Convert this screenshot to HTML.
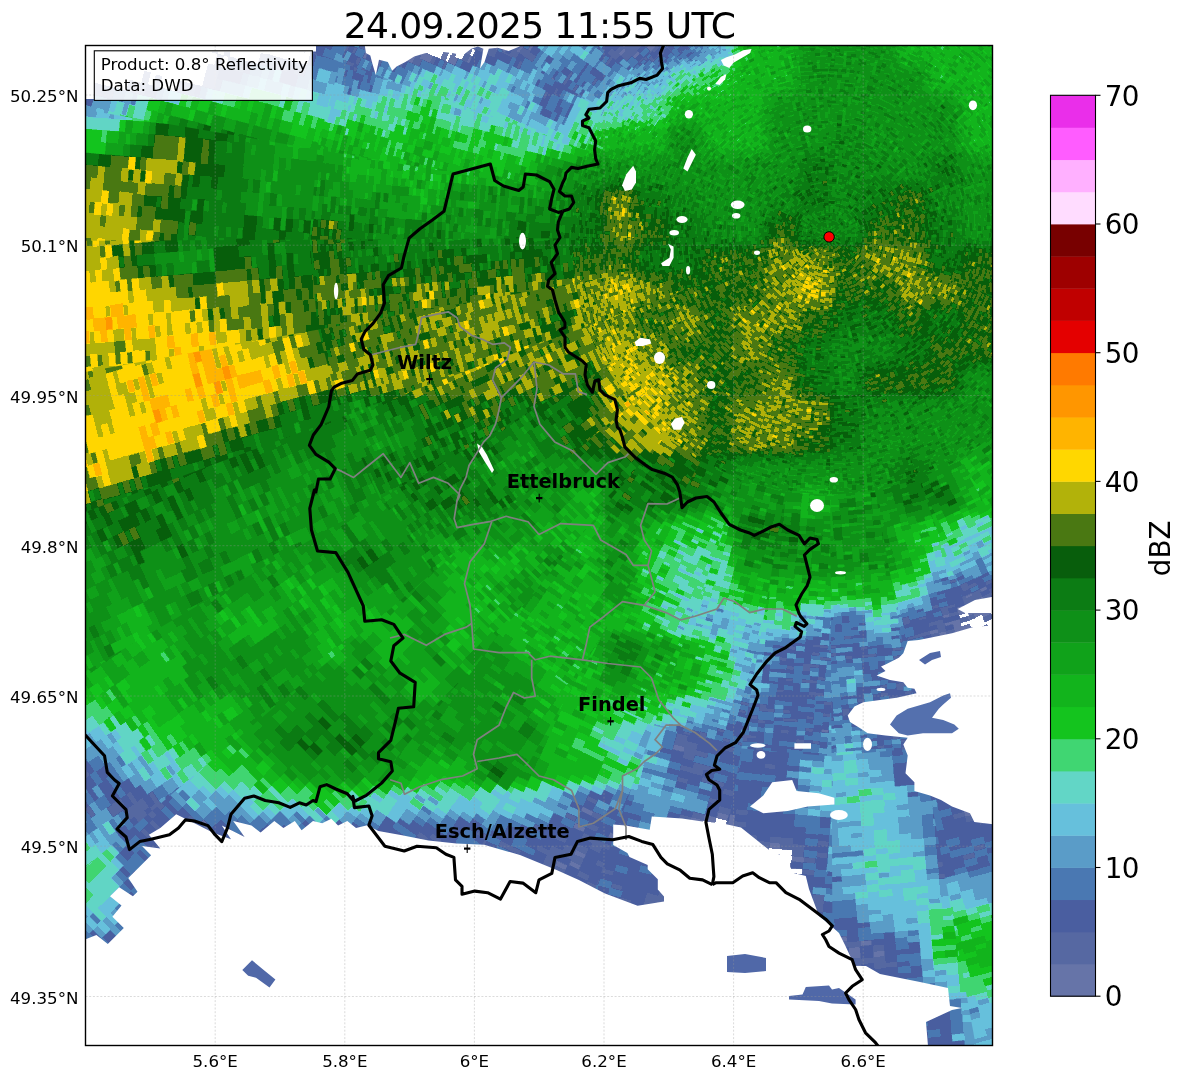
<!DOCTYPE html>
<html><head><meta charset="utf-8"><title>Radar</title>
<style>
html,body{margin:0;padding:0;background:#fff;}
svg{display:block;font-family:"DejaVu Sans","Liberation Sans",sans-serif;}
</style></head><body>
<svg width="1184" height="1081" viewBox="0 0 1184 1081">
<rect width="1184" height="1081" fill="#fff"/>
<text x="539.5" y="38" text-anchor="middle" font-size="36.1" letter-spacing="-0.68">24.09.2025 11:55 UTC</text>
<defs><clipPath id="mc"><rect x="85.5" y="45.5" width="907.0" height="1000.0"/></clipPath></defs>
<g clip-path="url(#mc)">
<defs><filter id="f0_0" filterUnits="userSpaceOnUse" primitiveUnits="userSpaceOnUse" x="799" y="177" width="320" height="119" color-interpolation-filters="sRGB">
<feGaussianBlur in="SourceGraphic" stdDeviation="7" result="f"/>
<feTurbulence type="fractalNoise" baseFrequency="0.35 0.2" numOctaves="2" seed="7" result="n"/>
<feColorMatrix in="n" type="matrix" values="1 0 0 0 0 1 0 0 0 0 1 0 0 0 0 0 0 0 0 1" result="ng"/>
<feFlood flood-color="#fff" x="828.8" y="236.9" width="1" height="1" result="dot"/>
<feOffset in="dot" dx="0" dy="0" x="828.8" y="236.9" width="3" height="5" result="cell"/>
<feTile in="cell" result="grid"/>
<feComposite in="f" in2="ng" operator="arithmetic" k1="0" k2="1" k3="0.2" k4="-0.1" result="sum0"/>
<feComposite in="sum0" in2="grid" operator="in" result="samp"/>
<feMorphology in="samp" operator="dilate" radius="1 2" result="sum"/>
<feComponentTransfer in="sum" x="829" y="177" width="266" height="119">
<feFuncR type="discrete" tableValues="1.000 0.400 0.337 0.290 0.290 0.353 0.400 0.384 0.251 0.078 0.071 0.063 0.055 0.047 0.031 0.290 0.698 1.000 1.000 1.000 1.000 0.894 0.753 0.620 0.471 1.000 1.000 1.000 0.918"/><feFuncG type="discrete" tableValues="1.000 0.455 0.408 0.369 0.471 0.612 0.753 0.839 0.839 0.769 0.706 0.635 0.565 0.486 0.369 0.471 0.698 0.843 0.706 0.588 0.478 0.000 0.000 0.000 0.000 0.863 0.690 0.361 0.180"/><feFuncB type="discrete" tableValues="1.000 0.659 0.635 0.627 0.698 0.784 0.863 0.776 0.447 0.118 0.110 0.102 0.094 0.078 0.047 0.071 0.039 0.000 0.000 0.000 0.000 0.000 0.000 0.000 0.000 1.000 1.000 1.000 0.918"/>
</feComponentTransfer>
</filter>
<filter id="f0_1" filterUnits="userSpaceOnUse" primitiveUnits="userSpaceOnUse" x="1059" y="152" width="320" height="170" color-interpolation-filters="sRGB">
<feGaussianBlur in="SourceGraphic" stdDeviation="7" result="f"/>
<feTurbulence type="fractalNoise" baseFrequency="0.25 0.12" numOctaves="2" seed="8" result="n"/>
<feColorMatrix in="n" type="matrix" values="1 0 0 0 0 1 0 0 0 0 1 0 0 0 0 0 0 0 0 1" result="ng"/>
<feFlood flood-color="#fff" x="1088.8" y="236.9" width="1" height="1" result="dot"/>
<feOffset in="dot" dx="0" dy="0" x="1088.8" y="236.9" width="5" height="9" result="cell"/>
<feTile in="cell" result="grid"/>
<feComposite in="f" in2="ng" operator="arithmetic" k1="0" k2="1" k3="0.2" k4="-0.1" result="sum0"/>
<feComposite in="sum0" in2="grid" operator="in" result="samp"/>
<feMorphology in="samp" operator="dilate" radius="2 4" result="sum"/>
<feComponentTransfer in="sum" x="1086" y="152" width="266" height="170">
<feFuncR type="discrete" tableValues="1.000 0.400 0.337 0.290 0.290 0.353 0.400 0.384 0.251 0.078 0.071 0.063 0.055 0.047 0.031 0.290 0.698 1.000 1.000 1.000 1.000 0.894 0.753 0.620 0.471 1.000 1.000 1.000 0.918"/><feFuncG type="discrete" tableValues="1.000 0.455 0.408 0.369 0.471 0.612 0.753 0.839 0.839 0.769 0.706 0.635 0.565 0.486 0.369 0.471 0.698 0.843 0.706 0.588 0.478 0.000 0.000 0.000 0.000 0.863 0.690 0.361 0.180"/><feFuncB type="discrete" tableValues="1.000 0.659 0.635 0.627 0.698 0.784 0.863 0.776 0.447 0.118 0.110 0.102 0.094 0.078 0.047 0.071 0.039 0.000 0.000 0.000 0.000 0.000 0.000 0.000 0.000 1.000 1.000 1.000 0.918"/>
</feComponentTransfer>
</filter>
<filter id="f0_2" filterUnits="userSpaceOnUse" primitiveUnits="userSpaceOnUse" x="1319" y="92" width="670" height="289" color-interpolation-filters="sRGB">
<feGaussianBlur in="SourceGraphic" stdDeviation="7" result="f"/>
<feTurbulence type="fractalNoise" baseFrequency="0.18 0.08" numOctaves="2" seed="9" result="n"/>
<feColorMatrix in="n" type="matrix" values="1 0 0 0 0 1 0 0 0 0 1 0 0 0 0 0 0 0 0 1" result="ng"/>
<feFlood flood-color="#fff" x="1348.8" y="236.9" width="1" height="1" result="dot"/>
<feOffset in="dot" dx="0" dy="0" x="1348.8" y="236.9" width="7" height="13" result="cell"/>
<feTile in="cell" result="grid"/>
<feComposite in="f" in2="ng" operator="arithmetic" k1="0" k2="1" k3="0.2" k4="-0.1" result="sum0"/>
<feComposite in="sum0" in2="grid" operator="in" result="samp"/>
<feMorphology in="samp" operator="dilate" radius="3 6" result="sum"/>
<feComponentTransfer in="sum" x="1346" y="92" width="616" height="289">
<feFuncR type="discrete" tableValues="1.000 0.400 0.337 0.290 0.290 0.353 0.400 0.384 0.251 0.078 0.071 0.063 0.055 0.047 0.031 0.290 0.698 1.000 1.000 1.000 1.000 0.894 0.753 0.620 0.471 1.000 1.000 1.000 0.918"/><feFuncG type="discrete" tableValues="1.000 0.455 0.408 0.369 0.471 0.612 0.753 0.839 0.839 0.769 0.706 0.635 0.565 0.486 0.369 0.471 0.698 0.843 0.706 0.588 0.478 0.000 0.000 0.000 0.000 0.863 0.690 0.361 0.180"/><feFuncB type="discrete" tableValues="1.000 0.659 0.635 0.627 0.698 0.784 0.863 0.776 0.447 0.118 0.110 0.102 0.094 0.078 0.047 0.071 0.039 0.000 0.000 0.000 0.000 0.000 0.000 0.000 0.000 1.000 1.000 1.000 0.918"/>
</feComponentTransfer>
</filter>
<filter id="f1_0" filterUnits="userSpaceOnUse" primitiveUnits="userSpaceOnUse" x="799" y="177" width="320" height="119" color-interpolation-filters="sRGB">
<feGaussianBlur in="SourceGraphic" stdDeviation="7" result="f"/>
<feTurbulence type="fractalNoise" baseFrequency="0.35 0.2" numOctaves="2" seed="18" result="n"/>
<feColorMatrix in="n" type="matrix" values="1 0 0 0 0 1 0 0 0 0 1 0 0 0 0 0 0 0 0 1" result="ng"/>
<feFlood flood-color="#fff" x="828.8" y="236.9" width="1" height="1" result="dot"/>
<feOffset in="dot" dx="0" dy="0" x="828.8" y="236.9" width="3" height="5" result="cell"/>
<feTile in="cell" result="grid"/>
<feComposite in="f" in2="ng" operator="arithmetic" k1="0" k2="1" k3="0.2" k4="-0.1" result="sum0"/>
<feComposite in="sum0" in2="grid" operator="in" result="samp"/>
<feMorphology in="samp" operator="dilate" radius="1 2" result="sum"/>
<feComponentTransfer in="sum" x="829" y="177" width="266" height="119">
<feFuncR type="discrete" tableValues="1.000 0.400 0.337 0.290 0.290 0.353 0.400 0.384 0.251 0.078 0.071 0.063 0.055 0.047 0.031 0.290 0.698 1.000 1.000 1.000 1.000 0.894 0.753 0.620 0.471 1.000 1.000 1.000 0.918"/><feFuncG type="discrete" tableValues="1.000 0.455 0.408 0.369 0.471 0.612 0.753 0.839 0.839 0.769 0.706 0.635 0.565 0.486 0.369 0.471 0.698 0.843 0.706 0.588 0.478 0.000 0.000 0.000 0.000 0.863 0.690 0.361 0.180"/><feFuncB type="discrete" tableValues="1.000 0.659 0.635 0.627 0.698 0.784 0.863 0.776 0.447 0.118 0.110 0.102 0.094 0.078 0.047 0.071 0.039 0.000 0.000 0.000 0.000 0.000 0.000 0.000 0.000 1.000 1.000 1.000 0.918"/>
</feComponentTransfer>
</filter>
<filter id="f1_1" filterUnits="userSpaceOnUse" primitiveUnits="userSpaceOnUse" x="1059" y="152" width="320" height="170" color-interpolation-filters="sRGB">
<feGaussianBlur in="SourceGraphic" stdDeviation="7" result="f"/>
<feTurbulence type="fractalNoise" baseFrequency="0.25 0.12" numOctaves="2" seed="19" result="n"/>
<feColorMatrix in="n" type="matrix" values="1 0 0 0 0 1 0 0 0 0 1 0 0 0 0 0 0 0 0 1" result="ng"/>
<feFlood flood-color="#fff" x="1088.8" y="236.9" width="1" height="1" result="dot"/>
<feOffset in="dot" dx="0" dy="0" x="1088.8" y="236.9" width="5" height="9" result="cell"/>
<feTile in="cell" result="grid"/>
<feComposite in="f" in2="ng" operator="arithmetic" k1="0" k2="1" k3="0.2" k4="-0.1" result="sum0"/>
<feComposite in="sum0" in2="grid" operator="in" result="samp"/>
<feMorphology in="samp" operator="dilate" radius="2 4" result="sum"/>
<feComponentTransfer in="sum" x="1086" y="152" width="266" height="170">
<feFuncR type="discrete" tableValues="1.000 0.400 0.337 0.290 0.290 0.353 0.400 0.384 0.251 0.078 0.071 0.063 0.055 0.047 0.031 0.290 0.698 1.000 1.000 1.000 1.000 0.894 0.753 0.620 0.471 1.000 1.000 1.000 0.918"/><feFuncG type="discrete" tableValues="1.000 0.455 0.408 0.369 0.471 0.612 0.753 0.839 0.839 0.769 0.706 0.635 0.565 0.486 0.369 0.471 0.698 0.843 0.706 0.588 0.478 0.000 0.000 0.000 0.000 0.863 0.690 0.361 0.180"/><feFuncB type="discrete" tableValues="1.000 0.659 0.635 0.627 0.698 0.784 0.863 0.776 0.447 0.118 0.110 0.102 0.094 0.078 0.047 0.071 0.039 0.000 0.000 0.000 0.000 0.000 0.000 0.000 0.000 1.000 1.000 1.000 0.918"/>
</feComponentTransfer>
</filter>
<filter id="f1_2" filterUnits="userSpaceOnUse" primitiveUnits="userSpaceOnUse" x="1319" y="92" width="670" height="289" color-interpolation-filters="sRGB">
<feGaussianBlur in="SourceGraphic" stdDeviation="7" result="f"/>
<feTurbulence type="fractalNoise" baseFrequency="0.18 0.08" numOctaves="2" seed="20" result="n"/>
<feColorMatrix in="n" type="matrix" values="1 0 0 0 0 1 0 0 0 0 1 0 0 0 0 0 0 0 0 1" result="ng"/>
<feFlood flood-color="#fff" x="1348.8" y="236.9" width="1" height="1" result="dot"/>
<feOffset in="dot" dx="0" dy="0" x="1348.8" y="236.9" width="7" height="13" result="cell"/>
<feTile in="cell" result="grid"/>
<feComposite in="f" in2="ng" operator="arithmetic" k1="0" k2="1" k3="0.2" k4="-0.1" result="sum0"/>
<feComposite in="sum0" in2="grid" operator="in" result="samp"/>
<feMorphology in="samp" operator="dilate" radius="3 6" result="sum"/>
<feComponentTransfer in="sum" x="1346" y="92" width="616" height="289">
<feFuncR type="discrete" tableValues="1.000 0.400 0.337 0.290 0.290 0.353 0.400 0.384 0.251 0.078 0.071 0.063 0.055 0.047 0.031 0.290 0.698 1.000 1.000 1.000 1.000 0.894 0.753 0.620 0.471 1.000 1.000 1.000 0.918"/><feFuncG type="discrete" tableValues="1.000 0.455 0.408 0.369 0.471 0.612 0.753 0.839 0.839 0.769 0.706 0.635 0.565 0.486 0.369 0.471 0.698 0.843 0.706 0.588 0.478 0.000 0.000 0.000 0.000 0.863 0.690 0.361 0.180"/><feFuncB type="discrete" tableValues="1.000 0.659 0.635 0.627 0.698 0.784 0.863 0.776 0.447 0.118 0.110 0.102 0.094 0.078 0.047 0.071 0.039 0.000 0.000 0.000 0.000 0.000 0.000 0.000 0.000 1.000 1.000 1.000 0.918"/>
</feComponentTransfer>
</filter>
<filter id="f2_0" filterUnits="userSpaceOnUse" primitiveUnits="userSpaceOnUse" x="799" y="177" width="320" height="119" color-interpolation-filters="sRGB">
<feGaussianBlur in="SourceGraphic" stdDeviation="7" result="f"/>
<feTurbulence type="fractalNoise" baseFrequency="0.35 0.2" numOctaves="2" seed="29" result="n"/>
<feColorMatrix in="n" type="matrix" values="1 0 0 0 0 1 0 0 0 0 1 0 0 0 0 0 0 0 0 1" result="ng"/>
<feFlood flood-color="#fff" x="828.8" y="236.9" width="1" height="1" result="dot"/>
<feOffset in="dot" dx="0" dy="0" x="828.8" y="236.9" width="3" height="5" result="cell"/>
<feTile in="cell" result="grid"/>
<feComposite in="f" in2="ng" operator="arithmetic" k1="0" k2="1" k3="0.2" k4="-0.1" result="sum0"/>
<feComposite in="sum0" in2="grid" operator="in" result="samp"/>
<feMorphology in="samp" operator="dilate" radius="1 2" result="sum"/>
<feComponentTransfer in="sum" x="829" y="177" width="266" height="119">
<feFuncR type="discrete" tableValues="1.000 0.400 0.337 0.290 0.290 0.353 0.400 0.384 0.251 0.078 0.071 0.063 0.055 0.047 0.031 0.290 0.698 1.000 1.000 1.000 1.000 0.894 0.753 0.620 0.471 1.000 1.000 1.000 0.918"/><feFuncG type="discrete" tableValues="1.000 0.455 0.408 0.369 0.471 0.612 0.753 0.839 0.839 0.769 0.706 0.635 0.565 0.486 0.369 0.471 0.698 0.843 0.706 0.588 0.478 0.000 0.000 0.000 0.000 0.863 0.690 0.361 0.180"/><feFuncB type="discrete" tableValues="1.000 0.659 0.635 0.627 0.698 0.784 0.863 0.776 0.447 0.118 0.110 0.102 0.094 0.078 0.047 0.071 0.039 0.000 0.000 0.000 0.000 0.000 0.000 0.000 0.000 1.000 1.000 1.000 0.918"/>
</feComponentTransfer>
</filter>
<filter id="f2_1" filterUnits="userSpaceOnUse" primitiveUnits="userSpaceOnUse" x="1059" y="152" width="320" height="170" color-interpolation-filters="sRGB">
<feGaussianBlur in="SourceGraphic" stdDeviation="7" result="f"/>
<feTurbulence type="fractalNoise" baseFrequency="0.25 0.12" numOctaves="2" seed="30" result="n"/>
<feColorMatrix in="n" type="matrix" values="1 0 0 0 0 1 0 0 0 0 1 0 0 0 0 0 0 0 0 1" result="ng"/>
<feFlood flood-color="#fff" x="1088.8" y="236.9" width="1" height="1" result="dot"/>
<feOffset in="dot" dx="0" dy="0" x="1088.8" y="236.9" width="5" height="9" result="cell"/>
<feTile in="cell" result="grid"/>
<feComposite in="f" in2="ng" operator="arithmetic" k1="0" k2="1" k3="0.2" k4="-0.1" result="sum0"/>
<feComposite in="sum0" in2="grid" operator="in" result="samp"/>
<feMorphology in="samp" operator="dilate" radius="2 4" result="sum"/>
<feComponentTransfer in="sum" x="1086" y="152" width="266" height="170">
<feFuncR type="discrete" tableValues="1.000 0.400 0.337 0.290 0.290 0.353 0.400 0.384 0.251 0.078 0.071 0.063 0.055 0.047 0.031 0.290 0.698 1.000 1.000 1.000 1.000 0.894 0.753 0.620 0.471 1.000 1.000 1.000 0.918"/><feFuncG type="discrete" tableValues="1.000 0.455 0.408 0.369 0.471 0.612 0.753 0.839 0.839 0.769 0.706 0.635 0.565 0.486 0.369 0.471 0.698 0.843 0.706 0.588 0.478 0.000 0.000 0.000 0.000 0.863 0.690 0.361 0.180"/><feFuncB type="discrete" tableValues="1.000 0.659 0.635 0.627 0.698 0.784 0.863 0.776 0.447 0.118 0.110 0.102 0.094 0.078 0.047 0.071 0.039 0.000 0.000 0.000 0.000 0.000 0.000 0.000 0.000 1.000 1.000 1.000 0.918"/>
</feComponentTransfer>
</filter>
<filter id="f2_2" filterUnits="userSpaceOnUse" primitiveUnits="userSpaceOnUse" x="1319" y="92" width="670" height="289" color-interpolation-filters="sRGB">
<feGaussianBlur in="SourceGraphic" stdDeviation="7" result="f"/>
<feTurbulence type="fractalNoise" baseFrequency="0.18 0.08" numOctaves="2" seed="31" result="n"/>
<feColorMatrix in="n" type="matrix" values="1 0 0 0 0 1 0 0 0 0 1 0 0 0 0 0 0 0 0 1" result="ng"/>
<feFlood flood-color="#fff" x="1348.8" y="236.9" width="1" height="1" result="dot"/>
<feOffset in="dot" dx="0" dy="0" x="1348.8" y="236.9" width="7" height="13" result="cell"/>
<feTile in="cell" result="grid"/>
<feComposite in="f" in2="ng" operator="arithmetic" k1="0" k2="1" k3="0.2" k4="-0.1" result="sum0"/>
<feComposite in="sum0" in2="grid" operator="in" result="samp"/>
<feMorphology in="samp" operator="dilate" radius="3 6" result="sum"/>
<feComponentTransfer in="sum" x="1346" y="92" width="616" height="289">
<feFuncR type="discrete" tableValues="1.000 0.400 0.337 0.290 0.290 0.353 0.400 0.384 0.251 0.078 0.071 0.063 0.055 0.047 0.031 0.290 0.698 1.000 1.000 1.000 1.000 0.894 0.753 0.620 0.471 1.000 1.000 1.000 0.918"/><feFuncG type="discrete" tableValues="1.000 0.455 0.408 0.369 0.471 0.612 0.753 0.839 0.839 0.769 0.706 0.635 0.565 0.486 0.369 0.471 0.698 0.843 0.706 0.588 0.478 0.000 0.000 0.000 0.000 0.863 0.690 0.361 0.180"/><feFuncB type="discrete" tableValues="1.000 0.659 0.635 0.627 0.698 0.784 0.863 0.776 0.447 0.118 0.110 0.102 0.094 0.078 0.047 0.071 0.039 0.000 0.000 0.000 0.000 0.000 0.000 0.000 0.000 1.000 1.000 1.000 0.918"/>
</feComponentTransfer>
</filter>
<filter id="f3_0" filterUnits="userSpaceOnUse" primitiveUnits="userSpaceOnUse" x="799" y="177" width="320" height="119" color-interpolation-filters="sRGB">
<feGaussianBlur in="SourceGraphic" stdDeviation="7" result="f"/>
<feTurbulence type="fractalNoise" baseFrequency="0.35 0.2" numOctaves="2" seed="40" result="n"/>
<feColorMatrix in="n" type="matrix" values="1 0 0 0 0 1 0 0 0 0 1 0 0 0 0 0 0 0 0 1" result="ng"/>
<feFlood flood-color="#fff" x="828.8" y="236.9" width="1" height="1" result="dot"/>
<feOffset in="dot" dx="0" dy="0" x="828.8" y="236.9" width="3" height="5" result="cell"/>
<feTile in="cell" result="grid"/>
<feComposite in="f" in2="ng" operator="arithmetic" k1="0" k2="1" k3="0.2" k4="-0.1" result="sum0"/>
<feComposite in="sum0" in2="grid" operator="in" result="samp"/>
<feMorphology in="samp" operator="dilate" radius="1 2" result="sum"/>
<feComponentTransfer in="sum" x="829" y="177" width="266" height="119">
<feFuncR type="discrete" tableValues="1.000 0.400 0.337 0.290 0.290 0.353 0.400 0.384 0.251 0.078 0.071 0.063 0.055 0.047 0.031 0.290 0.698 1.000 1.000 1.000 1.000 0.894 0.753 0.620 0.471 1.000 1.000 1.000 0.918"/><feFuncG type="discrete" tableValues="1.000 0.455 0.408 0.369 0.471 0.612 0.753 0.839 0.839 0.769 0.706 0.635 0.565 0.486 0.369 0.471 0.698 0.843 0.706 0.588 0.478 0.000 0.000 0.000 0.000 0.863 0.690 0.361 0.180"/><feFuncB type="discrete" tableValues="1.000 0.659 0.635 0.627 0.698 0.784 0.863 0.776 0.447 0.118 0.110 0.102 0.094 0.078 0.047 0.071 0.039 0.000 0.000 0.000 0.000 0.000 0.000 0.000 0.000 1.000 1.000 1.000 0.918"/>
</feComponentTransfer>
</filter>
<filter id="f3_1" filterUnits="userSpaceOnUse" primitiveUnits="userSpaceOnUse" x="1059" y="152" width="320" height="170" color-interpolation-filters="sRGB">
<feGaussianBlur in="SourceGraphic" stdDeviation="7" result="f"/>
<feTurbulence type="fractalNoise" baseFrequency="0.25 0.12" numOctaves="2" seed="41" result="n"/>
<feColorMatrix in="n" type="matrix" values="1 0 0 0 0 1 0 0 0 0 1 0 0 0 0 0 0 0 0 1" result="ng"/>
<feFlood flood-color="#fff" x="1088.8" y="236.9" width="1" height="1" result="dot"/>
<feOffset in="dot" dx="0" dy="0" x="1088.8" y="236.9" width="5" height="9" result="cell"/>
<feTile in="cell" result="grid"/>
<feComposite in="f" in2="ng" operator="arithmetic" k1="0" k2="1" k3="0.2" k4="-0.1" result="sum0"/>
<feComposite in="sum0" in2="grid" operator="in" result="samp"/>
<feMorphology in="samp" operator="dilate" radius="2 4" result="sum"/>
<feComponentTransfer in="sum" x="1086" y="152" width="266" height="170">
<feFuncR type="discrete" tableValues="1.000 0.400 0.337 0.290 0.290 0.353 0.400 0.384 0.251 0.078 0.071 0.063 0.055 0.047 0.031 0.290 0.698 1.000 1.000 1.000 1.000 0.894 0.753 0.620 0.471 1.000 1.000 1.000 0.918"/><feFuncG type="discrete" tableValues="1.000 0.455 0.408 0.369 0.471 0.612 0.753 0.839 0.839 0.769 0.706 0.635 0.565 0.486 0.369 0.471 0.698 0.843 0.706 0.588 0.478 0.000 0.000 0.000 0.000 0.863 0.690 0.361 0.180"/><feFuncB type="discrete" tableValues="1.000 0.659 0.635 0.627 0.698 0.784 0.863 0.776 0.447 0.118 0.110 0.102 0.094 0.078 0.047 0.071 0.039 0.000 0.000 0.000 0.000 0.000 0.000 0.000 0.000 1.000 1.000 1.000 0.918"/>
</feComponentTransfer>
</filter>
<filter id="f3_2" filterUnits="userSpaceOnUse" primitiveUnits="userSpaceOnUse" x="1319" y="92" width="670" height="289" color-interpolation-filters="sRGB">
<feGaussianBlur in="SourceGraphic" stdDeviation="7" result="f"/>
<feTurbulence type="fractalNoise" baseFrequency="0.18 0.08" numOctaves="2" seed="42" result="n"/>
<feColorMatrix in="n" type="matrix" values="1 0 0 0 0 1 0 0 0 0 1 0 0 0 0 0 0 0 0 1" result="ng"/>
<feFlood flood-color="#fff" x="1348.8" y="236.9" width="1" height="1" result="dot"/>
<feOffset in="dot" dx="0" dy="0" x="1348.8" y="236.9" width="7" height="13" result="cell"/>
<feTile in="cell" result="grid"/>
<feComposite in="f" in2="ng" operator="arithmetic" k1="0" k2="1" k3="0.2" k4="-0.1" result="sum0"/>
<feComposite in="sum0" in2="grid" operator="in" result="samp"/>
<feMorphology in="samp" operator="dilate" radius="3 6" result="sum"/>
<feComponentTransfer in="sum" x="1346" y="92" width="616" height="289">
<feFuncR type="discrete" tableValues="1.000 0.400 0.337 0.290 0.290 0.353 0.400 0.384 0.251 0.078 0.071 0.063 0.055 0.047 0.031 0.290 0.698 1.000 1.000 1.000 1.000 0.894 0.753 0.620 0.471 1.000 1.000 1.000 0.918"/><feFuncG type="discrete" tableValues="1.000 0.455 0.408 0.369 0.471 0.612 0.753 0.839 0.839 0.769 0.706 0.635 0.565 0.486 0.369 0.471 0.698 0.843 0.706 0.588 0.478 0.000 0.000 0.000 0.000 0.863 0.690 0.361 0.180"/><feFuncB type="discrete" tableValues="1.000 0.659 0.635 0.627 0.698 0.784 0.863 0.776 0.447 0.118 0.110 0.102 0.094 0.078 0.047 0.071 0.039 0.000 0.000 0.000 0.000 0.000 0.000 0.000 0.000 1.000 1.000 1.000 0.918"/>
</feComponentTransfer>
</filter>
<filter id="f4_0" filterUnits="userSpaceOnUse" primitiveUnits="userSpaceOnUse" x="799" y="177" width="320" height="119" color-interpolation-filters="sRGB">
<feGaussianBlur in="SourceGraphic" stdDeviation="7" result="f"/>
<feTurbulence type="fractalNoise" baseFrequency="0.35 0.2" numOctaves="2" seed="51" result="n"/>
<feColorMatrix in="n" type="matrix" values="1 0 0 0 0 1 0 0 0 0 1 0 0 0 0 0 0 0 0 1" result="ng"/>
<feFlood flood-color="#fff" x="828.8" y="236.9" width="1" height="1" result="dot"/>
<feOffset in="dot" dx="0" dy="0" x="828.8" y="236.9" width="3" height="5" result="cell"/>
<feTile in="cell" result="grid"/>
<feComposite in="f" in2="ng" operator="arithmetic" k1="0" k2="1" k3="0.2" k4="-0.1" result="sum0"/>
<feComposite in="sum0" in2="grid" operator="in" result="samp"/>
<feMorphology in="samp" operator="dilate" radius="1 2" result="sum"/>
<feComponentTransfer in="sum" x="829" y="177" width="266" height="119">
<feFuncR type="discrete" tableValues="1.000 0.400 0.337 0.290 0.290 0.353 0.400 0.384 0.251 0.078 0.071 0.063 0.055 0.047 0.031 0.290 0.698 1.000 1.000 1.000 1.000 0.894 0.753 0.620 0.471 1.000 1.000 1.000 0.918"/><feFuncG type="discrete" tableValues="1.000 0.455 0.408 0.369 0.471 0.612 0.753 0.839 0.839 0.769 0.706 0.635 0.565 0.486 0.369 0.471 0.698 0.843 0.706 0.588 0.478 0.000 0.000 0.000 0.000 0.863 0.690 0.361 0.180"/><feFuncB type="discrete" tableValues="1.000 0.659 0.635 0.627 0.698 0.784 0.863 0.776 0.447 0.118 0.110 0.102 0.094 0.078 0.047 0.071 0.039 0.000 0.000 0.000 0.000 0.000 0.000 0.000 0.000 1.000 1.000 1.000 0.918"/>
</feComponentTransfer>
</filter>
<filter id="f4_1" filterUnits="userSpaceOnUse" primitiveUnits="userSpaceOnUse" x="1059" y="152" width="320" height="170" color-interpolation-filters="sRGB">
<feGaussianBlur in="SourceGraphic" stdDeviation="7" result="f"/>
<feTurbulence type="fractalNoise" baseFrequency="0.25 0.12" numOctaves="2" seed="52" result="n"/>
<feColorMatrix in="n" type="matrix" values="1 0 0 0 0 1 0 0 0 0 1 0 0 0 0 0 0 0 0 1" result="ng"/>
<feFlood flood-color="#fff" x="1088.8" y="236.9" width="1" height="1" result="dot"/>
<feOffset in="dot" dx="0" dy="0" x="1088.8" y="236.9" width="5" height="9" result="cell"/>
<feTile in="cell" result="grid"/>
<feComposite in="f" in2="ng" operator="arithmetic" k1="0" k2="1" k3="0.2" k4="-0.1" result="sum0"/>
<feComposite in="sum0" in2="grid" operator="in" result="samp"/>
<feMorphology in="samp" operator="dilate" radius="2 4" result="sum"/>
<feComponentTransfer in="sum" x="1086" y="152" width="266" height="170">
<feFuncR type="discrete" tableValues="1.000 0.400 0.337 0.290 0.290 0.353 0.400 0.384 0.251 0.078 0.071 0.063 0.055 0.047 0.031 0.290 0.698 1.000 1.000 1.000 1.000 0.894 0.753 0.620 0.471 1.000 1.000 1.000 0.918"/><feFuncG type="discrete" tableValues="1.000 0.455 0.408 0.369 0.471 0.612 0.753 0.839 0.839 0.769 0.706 0.635 0.565 0.486 0.369 0.471 0.698 0.843 0.706 0.588 0.478 0.000 0.000 0.000 0.000 0.863 0.690 0.361 0.180"/><feFuncB type="discrete" tableValues="1.000 0.659 0.635 0.627 0.698 0.784 0.863 0.776 0.447 0.118 0.110 0.102 0.094 0.078 0.047 0.071 0.039 0.000 0.000 0.000 0.000 0.000 0.000 0.000 0.000 1.000 1.000 1.000 0.918"/>
</feComponentTransfer>
</filter>
<filter id="f4_2" filterUnits="userSpaceOnUse" primitiveUnits="userSpaceOnUse" x="1319" y="92" width="670" height="289" color-interpolation-filters="sRGB">
<feGaussianBlur in="SourceGraphic" stdDeviation="7" result="f"/>
<feTurbulence type="fractalNoise" baseFrequency="0.18 0.08" numOctaves="2" seed="53" result="n"/>
<feColorMatrix in="n" type="matrix" values="1 0 0 0 0 1 0 0 0 0 1 0 0 0 0 0 0 0 0 1" result="ng"/>
<feFlood flood-color="#fff" x="1348.8" y="236.9" width="1" height="1" result="dot"/>
<feOffset in="dot" dx="0" dy="0" x="1348.8" y="236.9" width="7" height="13" result="cell"/>
<feTile in="cell" result="grid"/>
<feComposite in="f" in2="ng" operator="arithmetic" k1="0" k2="1" k3="0.2" k4="-0.1" result="sum0"/>
<feComposite in="sum0" in2="grid" operator="in" result="samp"/>
<feMorphology in="samp" operator="dilate" radius="3 6" result="sum"/>
<feComponentTransfer in="sum" x="1346" y="92" width="616" height="289">
<feFuncR type="discrete" tableValues="1.000 0.400 0.337 0.290 0.290 0.353 0.400 0.384 0.251 0.078 0.071 0.063 0.055 0.047 0.031 0.290 0.698 1.000 1.000 1.000 1.000 0.894 0.753 0.620 0.471 1.000 1.000 1.000 0.918"/><feFuncG type="discrete" tableValues="1.000 0.455 0.408 0.369 0.471 0.612 0.753 0.839 0.839 0.769 0.706 0.635 0.565 0.486 0.369 0.471 0.698 0.843 0.706 0.588 0.478 0.000 0.000 0.000 0.000 0.863 0.690 0.361 0.180"/><feFuncB type="discrete" tableValues="1.000 0.659 0.635 0.627 0.698 0.784 0.863 0.776 0.447 0.118 0.110 0.102 0.094 0.078 0.047 0.071 0.039 0.000 0.000 0.000 0.000 0.000 0.000 0.000 0.000 1.000 1.000 1.000 0.918"/>
</feComponentTransfer>
</filter>
<filter id="f5_0" filterUnits="userSpaceOnUse" primitiveUnits="userSpaceOnUse" x="799" y="177" width="320" height="119" color-interpolation-filters="sRGB">
<feGaussianBlur in="SourceGraphic" stdDeviation="7" result="f"/>
<feTurbulence type="fractalNoise" baseFrequency="0.35 0.2" numOctaves="2" seed="62" result="n"/>
<feColorMatrix in="n" type="matrix" values="1 0 0 0 0 1 0 0 0 0 1 0 0 0 0 0 0 0 0 1" result="ng"/>
<feFlood flood-color="#fff" x="828.8" y="236.9" width="1" height="1" result="dot"/>
<feOffset in="dot" dx="0" dy="0" x="828.8" y="236.9" width="3" height="5" result="cell"/>
<feTile in="cell" result="grid"/>
<feComposite in="f" in2="ng" operator="arithmetic" k1="0" k2="1" k3="0.2" k4="-0.1" result="sum0"/>
<feComposite in="sum0" in2="grid" operator="in" result="samp"/>
<feMorphology in="samp" operator="dilate" radius="1 2" result="sum"/>
<feComponentTransfer in="sum" x="829" y="177" width="266" height="119">
<feFuncR type="discrete" tableValues="1.000 0.400 0.337 0.290 0.290 0.353 0.400 0.384 0.251 0.078 0.071 0.063 0.055 0.047 0.031 0.290 0.698 1.000 1.000 1.000 1.000 0.894 0.753 0.620 0.471 1.000 1.000 1.000 0.918"/><feFuncG type="discrete" tableValues="1.000 0.455 0.408 0.369 0.471 0.612 0.753 0.839 0.839 0.769 0.706 0.635 0.565 0.486 0.369 0.471 0.698 0.843 0.706 0.588 0.478 0.000 0.000 0.000 0.000 0.863 0.690 0.361 0.180"/><feFuncB type="discrete" tableValues="1.000 0.659 0.635 0.627 0.698 0.784 0.863 0.776 0.447 0.118 0.110 0.102 0.094 0.078 0.047 0.071 0.039 0.000 0.000 0.000 0.000 0.000 0.000 0.000 0.000 1.000 1.000 1.000 0.918"/>
</feComponentTransfer>
</filter>
<filter id="f5_1" filterUnits="userSpaceOnUse" primitiveUnits="userSpaceOnUse" x="1059" y="152" width="320" height="170" color-interpolation-filters="sRGB">
<feGaussianBlur in="SourceGraphic" stdDeviation="7" result="f"/>
<feTurbulence type="fractalNoise" baseFrequency="0.25 0.12" numOctaves="2" seed="63" result="n"/>
<feColorMatrix in="n" type="matrix" values="1 0 0 0 0 1 0 0 0 0 1 0 0 0 0 0 0 0 0 1" result="ng"/>
<feFlood flood-color="#fff" x="1088.8" y="236.9" width="1" height="1" result="dot"/>
<feOffset in="dot" dx="0" dy="0" x="1088.8" y="236.9" width="5" height="9" result="cell"/>
<feTile in="cell" result="grid"/>
<feComposite in="f" in2="ng" operator="arithmetic" k1="0" k2="1" k3="0.2" k4="-0.1" result="sum0"/>
<feComposite in="sum0" in2="grid" operator="in" result="samp"/>
<feMorphology in="samp" operator="dilate" radius="2 4" result="sum"/>
<feComponentTransfer in="sum" x="1086" y="152" width="266" height="170">
<feFuncR type="discrete" tableValues="1.000 0.400 0.337 0.290 0.290 0.353 0.400 0.384 0.251 0.078 0.071 0.063 0.055 0.047 0.031 0.290 0.698 1.000 1.000 1.000 1.000 0.894 0.753 0.620 0.471 1.000 1.000 1.000 0.918"/><feFuncG type="discrete" tableValues="1.000 0.455 0.408 0.369 0.471 0.612 0.753 0.839 0.839 0.769 0.706 0.635 0.565 0.486 0.369 0.471 0.698 0.843 0.706 0.588 0.478 0.000 0.000 0.000 0.000 0.863 0.690 0.361 0.180"/><feFuncB type="discrete" tableValues="1.000 0.659 0.635 0.627 0.698 0.784 0.863 0.776 0.447 0.118 0.110 0.102 0.094 0.078 0.047 0.071 0.039 0.000 0.000 0.000 0.000 0.000 0.000 0.000 0.000 1.000 1.000 1.000 0.918"/>
</feComponentTransfer>
</filter>
<filter id="f5_2" filterUnits="userSpaceOnUse" primitiveUnits="userSpaceOnUse" x="1319" y="92" width="670" height="289" color-interpolation-filters="sRGB">
<feGaussianBlur in="SourceGraphic" stdDeviation="7" result="f"/>
<feTurbulence type="fractalNoise" baseFrequency="0.18 0.08" numOctaves="2" seed="64" result="n"/>
<feColorMatrix in="n" type="matrix" values="1 0 0 0 0 1 0 0 0 0 1 0 0 0 0 0 0 0 0 1" result="ng"/>
<feFlood flood-color="#fff" x="1348.8" y="236.9" width="1" height="1" result="dot"/>
<feOffset in="dot" dx="0" dy="0" x="1348.8" y="236.9" width="7" height="13" result="cell"/>
<feTile in="cell" result="grid"/>
<feComposite in="f" in2="ng" operator="arithmetic" k1="0" k2="1" k3="0.2" k4="-0.1" result="sum0"/>
<feComposite in="sum0" in2="grid" operator="in" result="samp"/>
<feMorphology in="samp" operator="dilate" radius="3 6" result="sum"/>
<feComponentTransfer in="sum" x="1346" y="92" width="616" height="289">
<feFuncR type="discrete" tableValues="1.000 0.400 0.337 0.290 0.290 0.353 0.400 0.384 0.251 0.078 0.071 0.063 0.055 0.047 0.031 0.290 0.698 1.000 1.000 1.000 1.000 0.894 0.753 0.620 0.471 1.000 1.000 1.000 0.918"/><feFuncG type="discrete" tableValues="1.000 0.455 0.408 0.369 0.471 0.612 0.753 0.839 0.839 0.769 0.706 0.635 0.565 0.486 0.369 0.471 0.698 0.843 0.706 0.588 0.478 0.000 0.000 0.000 0.000 0.863 0.690 0.361 0.180"/><feFuncB type="discrete" tableValues="1.000 0.659 0.635 0.627 0.698 0.784 0.863 0.776 0.447 0.118 0.110 0.102 0.094 0.078 0.047 0.071 0.039 0.000 0.000 0.000 0.000 0.000 0.000 0.000 0.000 1.000 1.000 1.000 0.918"/>
</feComponentTransfer>
</filter>
<g id="cells"><rect x="20.8" y="-25.2" width="292.2" height="30.7" fill="rgb(0,0,0)"/>
<rect x="312.4" y="-25.2" width="65.4" height="30.7" fill="rgb(33,33,33)"/>
<rect x="377.2" y="-25.2" width="97.8" height="30.7" fill="rgb(5,5,5)"/>
<rect x="474.4" y="-25.2" width="65.4" height="30.7" fill="rgb(23,23,23)"/>
<rect x="539.2" y="-25.2" width="65.4" height="30.7" fill="rgb(51,51,51)"/>
<rect x="604.0" y="-25.2" width="65.4" height="30.7" fill="rgb(23,23,23)"/>
<rect x="668.8" y="-25.2" width="33.0" height="30.7" fill="rgb(33,33,33)"/>
<rect x="701.2" y="-25.2" width="33.0" height="30.7" fill="rgb(51,51,51)"/>
<rect x="733.6" y="-25.2" width="65.4" height="30.7" fill="rgb(91,91,91)"/>
<rect x="798.4" y="-25.2" width="97.8" height="30.7" fill="rgb(107,107,107)"/>
<rect x="895.6" y="-25.2" width="162.6" height="30.7" fill="rgb(91,91,91)"/>
<rect x="20.8" y="4.8" width="292.2" height="30.7" fill="rgb(0,0,0)"/>
<rect x="312.4" y="4.8" width="65.4" height="30.7" fill="rgb(33,33,33)"/>
<rect x="377.2" y="4.8" width="97.8" height="30.7" fill="rgb(5,5,5)"/>
<rect x="474.4" y="4.8" width="65.4" height="30.7" fill="rgb(23,23,23)"/>
<rect x="539.2" y="4.8" width="65.4" height="30.7" fill="rgb(51,51,51)"/>
<rect x="604.0" y="4.8" width="65.4" height="30.7" fill="rgb(23,23,23)"/>
<rect x="668.8" y="4.8" width="33.0" height="30.7" fill="rgb(33,33,33)"/>
<rect x="701.2" y="4.8" width="33.0" height="30.7" fill="rgb(51,51,51)"/>
<rect x="733.6" y="4.8" width="65.4" height="30.7" fill="rgb(91,91,91)"/>
<rect x="798.4" y="4.8" width="97.8" height="30.7" fill="rgb(107,107,107)"/>
<rect x="895.6" y="4.8" width="162.6" height="30.7" fill="rgb(91,91,91)"/>
<rect x="20.8" y="34.9" width="292.2" height="30.7" fill="rgb(0,0,0)"/>
<rect x="312.4" y="34.9" width="65.4" height="30.7" fill="rgb(33,33,33)"/>
<rect x="377.2" y="34.9" width="97.8" height="30.7" fill="rgb(5,5,5)"/>
<rect x="474.4" y="34.9" width="65.4" height="30.7" fill="rgb(23,23,23)"/>
<rect x="539.2" y="34.9" width="65.4" height="30.7" fill="rgb(51,51,51)"/>
<rect x="604.0" y="34.9" width="65.4" height="30.7" fill="rgb(23,23,23)"/>
<rect x="668.8" y="34.9" width="33.0" height="30.7" fill="rgb(33,33,33)"/>
<rect x="701.2" y="34.9" width="33.0" height="30.7" fill="rgb(51,51,51)"/>
<rect x="733.6" y="34.9" width="65.4" height="30.7" fill="rgb(91,91,91)"/>
<rect x="798.4" y="34.9" width="97.8" height="30.7" fill="rgb(107,107,107)"/>
<rect x="895.6" y="34.9" width="162.6" height="30.7" fill="rgb(91,91,91)"/>
<rect x="20.8" y="65.0" width="195.0" height="30.7" fill="rgb(0,0,0)"/>
<rect x="215.2" y="65.0" width="33.0" height="30.7" fill="rgb(33,33,33)"/>
<rect x="247.6" y="65.0" width="33.0" height="30.7" fill="rgb(51,51,51)"/>
<rect x="280.0" y="65.0" width="33.0" height="30.7" fill="rgb(33,33,33)"/>
<rect x="312.4" y="65.0" width="33.0" height="30.7" fill="rgb(51,51,51)"/>
<rect x="344.8" y="65.0" width="33.0" height="30.7" fill="rgb(33,33,33)"/>
<rect x="377.2" y="65.0" width="33.0" height="30.7" fill="rgb(51,51,51)"/>
<rect x="409.6" y="65.0" width="97.8" height="30.7" fill="rgb(62,62,62)"/>
<rect x="506.8" y="65.0" width="33.0" height="30.7" fill="rgb(51,51,51)"/>
<rect x="539.2" y="65.0" width="65.4" height="30.7" fill="rgb(33,33,33)"/>
<rect x="604.0" y="65.0" width="65.4" height="30.7" fill="rgb(51,51,51)"/>
<rect x="668.8" y="65.0" width="33.0" height="30.7" fill="rgb(69,69,69)"/>
<rect x="701.2" y="65.0" width="33.0" height="30.7" fill="rgb(79,79,79)"/>
<rect x="733.6" y="65.0" width="65.4" height="30.7" fill="rgb(91,91,91)"/>
<rect x="798.4" y="65.0" width="130.2" height="30.7" fill="rgb(107,107,107)"/>
<rect x="928.0" y="65.0" width="130.2" height="30.7" fill="rgb(91,91,91)"/>
<rect x="20.8" y="95.0" width="97.8" height="30.7" fill="rgb(51,51,51)"/>
<rect x="118.0" y="95.0" width="33.0" height="30.7" fill="rgb(69,69,69)"/>
<rect x="150.4" y="95.0" width="130.2" height="30.7" fill="rgb(91,91,91)"/>
<rect x="280.0" y="95.0" width="33.0" height="30.7" fill="rgb(79,79,79)"/>
<rect x="312.4" y="95.0" width="33.0" height="30.7" fill="rgb(62,62,62)"/>
<rect x="344.8" y="95.0" width="65.4" height="30.7" fill="rgb(69,69,69)"/>
<rect x="409.6" y="95.0" width="33.0" height="30.7" fill="rgb(79,79,79)"/>
<rect x="442.0" y="95.0" width="65.4" height="30.7" fill="rgb(62,62,62)"/>
<rect x="506.8" y="95.0" width="33.0" height="30.7" fill="rgb(51,51,51)"/>
<rect x="539.2" y="95.0" width="33.0" height="30.7" fill="rgb(33,33,33)"/>
<rect x="571.6" y="95.0" width="65.4" height="30.7" fill="rgb(62,62,62)"/>
<rect x="636.4" y="95.0" width="33.0" height="30.7" fill="rgb(69,69,69)"/>
<rect x="668.8" y="95.0" width="97.8" height="30.7" fill="rgb(91,91,91)"/>
<rect x="766.0" y="95.0" width="195.0" height="30.7" fill="rgb(107,107,107)"/>
<rect x="960.4" y="95.0" width="97.8" height="30.7" fill="rgb(91,91,91)"/>
<rect x="20.8" y="125.1" width="97.8" height="30.7" fill="rgb(79,79,79)"/>
<rect x="118.0" y="125.1" width="33.0" height="30.7" fill="rgb(107,107,107)"/>
<rect x="150.4" y="125.1" width="33.0" height="30.7" fill="rgb(137,137,137)"/>
<rect x="182.8" y="125.1" width="33.0" height="30.7" fill="rgb(128,128,128)"/>
<rect x="215.2" y="125.1" width="33.0" height="30.7" fill="rgb(118,118,118)"/>
<rect x="247.6" y="125.1" width="33.0" height="30.7" fill="rgb(107,107,107)"/>
<rect x="280.0" y="125.1" width="97.8" height="30.7" fill="rgb(91,91,91)"/>
<rect x="377.2" y="125.1" width="33.0" height="30.7" fill="rgb(79,79,79)"/>
<rect x="409.6" y="125.1" width="33.0" height="30.7" fill="rgb(91,91,91)"/>
<rect x="442.0" y="125.1" width="65.4" height="30.7" fill="rgb(79,79,79)"/>
<rect x="506.8" y="125.1" width="33.0" height="30.7" fill="rgb(69,69,69)"/>
<rect x="539.2" y="125.1" width="33.0" height="30.7" fill="rgb(62,62,62)"/>
<rect x="571.6" y="125.1" width="33.0" height="30.7" fill="rgb(79,79,79)"/>
<rect x="604.0" y="125.1" width="65.4" height="30.7" fill="rgb(91,91,91)"/>
<rect x="668.8" y="125.1" width="33.0" height="30.7" fill="rgb(111,111,111)"/>
<rect x="701.2" y="125.1" width="65.4" height="30.7" fill="rgb(91,91,91)"/>
<rect x="766.0" y="125.1" width="65.4" height="30.7" fill="rgb(107,107,107)"/>
<rect x="830.8" y="125.1" width="33.0" height="30.7" fill="rgb(111,111,111)"/>
<rect x="863.2" y="125.1" width="97.8" height="30.7" fill="rgb(107,107,107)"/>
<rect x="960.4" y="125.1" width="97.8" height="30.7" fill="rgb(91,91,91)"/>
<rect x="20.8" y="155.1" width="97.8" height="30.7" fill="rgb(137,137,137)"/>
<rect x="118.0" y="155.1" width="65.4" height="30.7" fill="rgb(144,144,144)"/>
<rect x="182.8" y="155.1" width="33.0" height="30.7" fill="rgb(128,128,128)"/>
<rect x="215.2" y="155.1" width="33.0" height="30.7" fill="rgb(118,118,118)"/>
<rect x="247.6" y="155.1" width="97.8" height="30.7" fill="rgb(107,107,107)"/>
<rect x="344.8" y="155.1" width="195.0" height="30.7" fill="rgb(91,91,91)"/>
<rect x="539.2" y="155.1" width="259.8" height="30.7" fill="rgb(107,107,107)"/>
<rect x="798.4" y="155.1" width="33.0" height="30.7" fill="rgb(118,118,118)"/>
<rect x="830.8" y="155.1" width="65.4" height="30.7" fill="rgb(111,111,111)"/>
<rect x="895.6" y="155.1" width="33.0" height="30.7" fill="rgb(107,107,107)"/>
<rect x="928.0" y="155.1" width="33.0" height="30.7" fill="rgb(118,118,118)"/>
<rect x="960.4" y="155.1" width="97.8" height="30.7" fill="rgb(107,107,107)"/>
<rect x="20.8" y="185.2" width="97.8" height="30.7" fill="rgb(144,144,144)"/>
<rect x="118.0" y="185.2" width="33.0" height="30.7" fill="rgb(137,137,137)"/>
<rect x="150.4" y="185.2" width="33.0" height="30.7" fill="rgb(127,127,127)"/>
<rect x="182.8" y="185.2" width="65.4" height="30.7" fill="rgb(118,118,118)"/>
<rect x="247.6" y="185.2" width="162.6" height="30.7" fill="rgb(107,107,107)"/>
<rect x="409.6" y="185.2" width="33.0" height="30.7" fill="rgb(91,91,91)"/>
<rect x="442.0" y="185.2" width="130.2" height="30.7" fill="rgb(107,107,107)"/>
<rect x="571.6" y="185.2" width="33.0" height="30.7" fill="rgb(118,118,118)"/>
<rect x="604.0" y="185.2" width="33.0" height="30.7" fill="rgb(137,137,137)"/>
<rect x="636.4" y="185.2" width="33.0" height="30.7" fill="rgb(118,118,118)"/>
<rect x="668.8" y="185.2" width="33.0" height="30.7" fill="rgb(111,111,111)"/>
<rect x="701.2" y="185.2" width="65.4" height="30.7" fill="rgb(107,107,107)"/>
<rect x="766.0" y="185.2" width="33.0" height="30.7" fill="rgb(111,111,111)"/>
<rect x="798.4" y="185.2" width="33.0" height="30.7" fill="rgb(118,118,118)"/>
<rect x="830.8" y="185.2" width="33.0" height="30.7" fill="rgb(111,111,111)"/>
<rect x="863.2" y="185.2" width="33.0" height="30.7" fill="rgb(118,118,118)"/>
<rect x="895.6" y="185.2" width="33.0" height="30.7" fill="rgb(128,128,128)"/>
<rect x="928.0" y="185.2" width="33.0" height="30.7" fill="rgb(111,111,111)"/>
<rect x="960.4" y="185.2" width="97.8" height="30.7" fill="rgb(107,107,107)"/>
<rect x="20.8" y="215.3" width="130.2" height="30.7" fill="rgb(144,144,144)"/>
<rect x="150.4" y="215.3" width="33.0" height="30.7" fill="rgb(137,137,137)"/>
<rect x="182.8" y="215.3" width="130.2" height="30.7" fill="rgb(118,118,118)"/>
<rect x="312.4" y="215.3" width="33.0" height="30.7" fill="rgb(128,128,128)"/>
<rect x="344.8" y="215.3" width="33.0" height="30.7" fill="rgb(118,118,118)"/>
<rect x="377.2" y="215.3" width="33.0" height="30.7" fill="rgb(107,107,107)"/>
<rect x="409.6" y="215.3" width="33.0" height="30.7" fill="rgb(118,118,118)"/>
<rect x="442.0" y="215.3" width="65.4" height="30.7" fill="rgb(107,107,107)"/>
<rect x="506.8" y="215.3" width="97.8" height="30.7" fill="rgb(118,118,118)"/>
<rect x="604.0" y="215.3" width="33.0" height="30.7" fill="rgb(137,137,137)"/>
<rect x="636.4" y="215.3" width="33.0" height="30.7" fill="rgb(128,128,128)"/>
<rect x="668.8" y="215.3" width="33.0" height="30.7" fill="rgb(118,118,118)"/>
<rect x="701.2" y="215.3" width="33.0" height="30.7" fill="rgb(111,111,111)"/>
<rect x="733.6" y="215.3" width="33.0" height="30.7" fill="rgb(107,107,107)"/>
<rect x="766.0" y="215.3" width="33.0" height="30.7" fill="rgb(128,128,128)"/>
<rect x="798.4" y="215.3" width="65.4" height="30.7" fill="rgb(111,111,111)"/>
<rect x="863.2" y="215.3" width="65.4" height="30.7" fill="rgb(128,128,128)"/>
<rect x="928.0" y="215.3" width="33.0" height="30.7" fill="rgb(118,118,118)"/>
<rect x="960.4" y="215.3" width="97.8" height="30.7" fill="rgb(107,107,107)"/>
<rect x="20.8" y="245.3" width="97.8" height="30.7" fill="rgb(144,144,144)"/>
<rect x="118.0" y="245.3" width="33.0" height="30.7" fill="rgb(128,128,128)"/>
<rect x="150.4" y="245.3" width="65.4" height="30.7" fill="rgb(107,107,107)"/>
<rect x="215.2" y="245.3" width="33.0" height="30.7" fill="rgb(128,128,128)"/>
<rect x="247.6" y="245.3" width="65.4" height="30.7" fill="rgb(118,118,118)"/>
<rect x="312.4" y="245.3" width="33.0" height="30.7" fill="rgb(128,128,128)"/>
<rect x="344.8" y="245.3" width="97.8" height="30.7" fill="rgb(118,118,118)"/>
<rect x="442.0" y="245.3" width="33.0" height="30.7" fill="rgb(128,128,128)"/>
<rect x="474.4" y="245.3" width="33.0" height="30.7" fill="rgb(118,118,118)"/>
<rect x="506.8" y="245.3" width="33.0" height="30.7" fill="rgb(128,128,128)"/>
<rect x="539.2" y="245.3" width="33.0" height="30.7" fill="rgb(118,118,118)"/>
<rect x="571.6" y="245.3" width="65.4" height="30.7" fill="rgb(128,128,128)"/>
<rect x="636.4" y="245.3" width="65.4" height="30.7" fill="rgb(118,118,118)"/>
<rect x="701.2" y="245.3" width="65.4" height="30.7" fill="rgb(128,128,128)"/>
<rect x="766.0" y="245.3" width="65.4" height="30.7" fill="rgb(137,137,137)"/>
<rect x="830.8" y="245.3" width="33.0" height="30.7" fill="rgb(128,128,128)"/>
<rect x="863.2" y="245.3" width="65.4" height="30.7" fill="rgb(137,137,137)"/>
<rect x="928.0" y="245.3" width="33.0" height="30.7" fill="rgb(118,118,118)"/>
<rect x="960.4" y="245.3" width="97.8" height="30.7" fill="rgb(128,128,128)"/>
<rect x="20.8" y="275.4" width="130.2" height="30.7" fill="rgb(151,151,151)"/>
<rect x="150.4" y="275.4" width="33.0" height="30.7" fill="rgb(144,144,144)"/>
<rect x="182.8" y="275.4" width="33.0" height="30.7" fill="rgb(137,137,137)"/>
<rect x="215.2" y="275.4" width="33.0" height="30.7" fill="rgb(144,144,144)"/>
<rect x="247.6" y="275.4" width="33.0" height="30.7" fill="rgb(137,137,137)"/>
<rect x="280.0" y="275.4" width="33.0" height="30.7" fill="rgb(128,128,128)"/>
<rect x="312.4" y="275.4" width="65.4" height="30.7" fill="rgb(137,137,137)"/>
<rect x="377.2" y="275.4" width="33.0" height="30.7" fill="rgb(128,128,128)"/>
<rect x="409.6" y="275.4" width="33.0" height="30.7" fill="rgb(137,137,137)"/>
<rect x="442.0" y="275.4" width="33.0" height="30.7" fill="rgb(128,128,128)"/>
<rect x="474.4" y="275.4" width="130.2" height="30.7" fill="rgb(137,137,137)"/>
<rect x="604.0" y="275.4" width="33.0" height="30.7" fill="rgb(144,144,144)"/>
<rect x="636.4" y="275.4" width="33.0" height="30.7" fill="rgb(137,137,137)"/>
<rect x="668.8" y="275.4" width="97.8" height="30.7" fill="rgb(128,128,128)"/>
<rect x="766.0" y="275.4" width="33.0" height="30.7" fill="rgb(137,137,137)"/>
<rect x="798.4" y="275.4" width="33.0" height="30.7" fill="rgb(144,144,144)"/>
<rect x="830.8" y="275.4" width="65.4" height="30.7" fill="rgb(128,128,128)"/>
<rect x="895.6" y="275.4" width="65.4" height="30.7" fill="rgb(137,137,137)"/>
<rect x="960.4" y="275.4" width="97.8" height="30.7" fill="rgb(128,128,128)"/>
<rect x="20.8" y="305.4" width="130.2" height="30.7" fill="rgb(160,160,160)"/>
<rect x="150.4" y="305.4" width="33.0" height="30.7" fill="rgb(151,151,151)"/>
<rect x="182.8" y="305.4" width="33.0" height="30.7" fill="rgb(144,144,144)"/>
<rect x="215.2" y="305.4" width="97.8" height="30.7" fill="rgb(137,137,137)"/>
<rect x="312.4" y="305.4" width="33.0" height="30.7" fill="rgb(128,128,128)"/>
<rect x="344.8" y="305.4" width="33.0" height="30.7" fill="rgb(137,137,137)"/>
<rect x="377.2" y="305.4" width="33.0" height="30.7" fill="rgb(128,128,128)"/>
<rect x="409.6" y="305.4" width="65.4" height="30.7" fill="rgb(137,137,137)"/>
<rect x="474.4" y="305.4" width="33.0" height="30.7" fill="rgb(144,144,144)"/>
<rect x="506.8" y="305.4" width="33.0" height="30.7" fill="rgb(137,137,137)"/>
<rect x="539.2" y="305.4" width="33.0" height="30.7" fill="rgb(128,128,128)"/>
<rect x="571.6" y="305.4" width="65.4" height="30.7" fill="rgb(137,137,137)"/>
<rect x="636.4" y="305.4" width="33.0" height="30.7" fill="rgb(128,128,128)"/>
<rect x="668.8" y="305.4" width="33.0" height="30.7" fill="rgb(137,137,137)"/>
<rect x="701.2" y="305.4" width="33.0" height="30.7" fill="rgb(128,128,128)"/>
<rect x="733.6" y="305.4" width="65.4" height="30.7" fill="rgb(137,137,137)"/>
<rect x="798.4" y="305.4" width="33.0" height="30.7" fill="rgb(128,128,128)"/>
<rect x="830.8" y="305.4" width="65.4" height="30.7" fill="rgb(118,118,118)"/>
<rect x="895.6" y="305.4" width="33.0" height="30.7" fill="rgb(128,128,128)"/>
<rect x="928.0" y="305.4" width="33.0" height="30.7" fill="rgb(118,118,118)"/>
<rect x="960.4" y="305.4" width="97.8" height="30.7" fill="rgb(128,128,128)"/>
<rect x="20.8" y="335.5" width="130.2" height="30.7" fill="rgb(144,144,144)"/>
<rect x="150.4" y="335.5" width="33.0" height="30.7" fill="rgb(151,151,151)"/>
<rect x="182.8" y="335.5" width="33.0" height="30.7" fill="rgb(160,160,160)"/>
<rect x="215.2" y="335.5" width="33.0" height="30.7" fill="rgb(151,151,151)"/>
<rect x="247.6" y="335.5" width="65.4" height="30.7" fill="rgb(144,144,144)"/>
<rect x="312.4" y="335.5" width="33.0" height="30.7" fill="rgb(128,128,128)"/>
<rect x="344.8" y="335.5" width="259.8" height="30.7" fill="rgb(137,137,137)"/>
<rect x="604.0" y="335.5" width="33.0" height="30.7" fill="rgb(144,144,144)"/>
<rect x="636.4" y="335.5" width="33.0" height="30.7" fill="rgb(137,137,137)"/>
<rect x="668.8" y="335.5" width="65.4" height="30.7" fill="rgb(128,128,128)"/>
<rect x="733.6" y="335.5" width="33.0" height="30.7" fill="rgb(137,137,137)"/>
<rect x="766.0" y="335.5" width="33.0" height="30.7" fill="rgb(128,128,128)"/>
<rect x="798.4" y="335.5" width="33.0" height="30.7" fill="rgb(118,118,118)"/>
<rect x="830.8" y="335.5" width="65.4" height="30.7" fill="rgb(111,111,111)"/>
<rect x="895.6" y="335.5" width="33.0" height="30.7" fill="rgb(118,118,118)"/>
<rect x="928.0" y="335.5" width="130.2" height="30.7" fill="rgb(128,128,128)"/>
<rect x="20.8" y="365.6" width="97.8" height="30.7" fill="rgb(144,144,144)"/>
<rect x="118.0" y="365.6" width="65.4" height="30.7" fill="rgb(151,151,151)"/>
<rect x="182.8" y="365.6" width="97.8" height="30.7" fill="rgb(160,160,160)"/>
<rect x="280.0" y="365.6" width="33.0" height="30.7" fill="rgb(151,151,151)"/>
<rect x="312.4" y="365.6" width="33.0" height="30.7" fill="rgb(144,144,144)"/>
<rect x="344.8" y="365.6" width="227.4" height="30.7" fill="rgb(137,137,137)"/>
<rect x="571.6" y="365.6" width="33.0" height="30.7" fill="rgb(128,128,128)"/>
<rect x="604.0" y="365.6" width="65.4" height="30.7" fill="rgb(144,144,144)"/>
<rect x="668.8" y="365.6" width="33.0" height="30.7" fill="rgb(137,137,137)"/>
<rect x="701.2" y="365.6" width="65.4" height="30.7" fill="rgb(128,128,128)"/>
<rect x="766.0" y="365.6" width="33.0" height="30.7" fill="rgb(137,137,137)"/>
<rect x="798.4" y="365.6" width="33.0" height="30.7" fill="rgb(118,118,118)"/>
<rect x="830.8" y="365.6" width="33.0" height="30.7" fill="rgb(111,111,111)"/>
<rect x="863.2" y="365.6" width="97.8" height="30.7" fill="rgb(128,128,128)"/>
<rect x="960.4" y="365.6" width="97.8" height="30.7" fill="rgb(107,107,107)"/>
<rect x="20.8" y="395.6" width="97.8" height="30.7" fill="rgb(144,144,144)"/>
<rect x="118.0" y="395.6" width="33.0" height="30.7" fill="rgb(151,151,151)"/>
<rect x="150.4" y="395.6" width="33.0" height="30.7" fill="rgb(160,160,160)"/>
<rect x="182.8" y="395.6" width="65.4" height="30.7" fill="rgb(151,151,151)"/>
<rect x="247.6" y="395.6" width="33.0" height="30.7" fill="rgb(137,137,137)"/>
<rect x="280.0" y="395.6" width="65.4" height="30.7" fill="rgb(118,118,118)"/>
<rect x="344.8" y="395.6" width="33.0" height="30.7" fill="rgb(107,107,107)"/>
<rect x="377.2" y="395.6" width="65.4" height="30.7" fill="rgb(118,118,118)"/>
<rect x="442.0" y="395.6" width="65.4" height="30.7" fill="rgb(128,128,128)"/>
<rect x="506.8" y="395.6" width="65.4" height="30.7" fill="rgb(118,118,118)"/>
<rect x="571.6" y="395.6" width="33.0" height="30.7" fill="rgb(128,128,128)"/>
<rect x="604.0" y="395.6" width="65.4" height="30.7" fill="rgb(144,144,144)"/>
<rect x="668.8" y="395.6" width="33.0" height="30.7" fill="rgb(137,137,137)"/>
<rect x="701.2" y="395.6" width="33.0" height="30.7" fill="rgb(128,128,128)"/>
<rect x="733.6" y="395.6" width="97.8" height="30.7" fill="rgb(137,137,137)"/>
<rect x="830.8" y="395.6" width="33.0" height="30.7" fill="rgb(118,118,118)"/>
<rect x="863.2" y="395.6" width="65.4" height="30.7" fill="rgb(111,111,111)"/>
<rect x="928.0" y="395.6" width="130.2" height="30.7" fill="rgb(107,107,107)"/>
<rect x="20.8" y="425.7" width="97.8" height="30.7" fill="rgb(151,151,151)"/>
<rect x="118.0" y="425.7" width="33.0" height="30.7" fill="rgb(160,160,160)"/>
<rect x="150.4" y="425.7" width="33.0" height="30.7" fill="rgb(151,151,151)"/>
<rect x="182.8" y="425.7" width="33.0" height="30.7" fill="rgb(144,144,144)"/>
<rect x="215.2" y="425.7" width="33.0" height="30.7" fill="rgb(128,128,128)"/>
<rect x="247.6" y="425.7" width="97.8" height="30.7" fill="rgb(118,118,118)"/>
<rect x="344.8" y="425.7" width="65.4" height="30.7" fill="rgb(107,107,107)"/>
<rect x="409.6" y="425.7" width="97.8" height="30.7" fill="rgb(118,118,118)"/>
<rect x="506.8" y="425.7" width="33.0" height="30.7" fill="rgb(107,107,107)"/>
<rect x="539.2" y="425.7" width="33.0" height="30.7" fill="rgb(118,118,118)"/>
<rect x="571.6" y="425.7" width="33.0" height="30.7" fill="rgb(128,128,128)"/>
<rect x="604.0" y="425.7" width="33.0" height="30.7" fill="rgb(137,137,137)"/>
<rect x="636.4" y="425.7" width="33.0" height="30.7" fill="rgb(144,144,144)"/>
<rect x="668.8" y="425.7" width="33.0" height="30.7" fill="rgb(137,137,137)"/>
<rect x="701.2" y="425.7" width="33.0" height="30.7" fill="rgb(128,128,128)"/>
<rect x="733.6" y="425.7" width="65.4" height="30.7" fill="rgb(137,137,137)"/>
<rect x="798.4" y="425.7" width="33.0" height="30.7" fill="rgb(128,128,128)"/>
<rect x="830.8" y="425.7" width="33.0" height="30.7" fill="rgb(118,118,118)"/>
<rect x="863.2" y="425.7" width="195.0" height="30.7" fill="rgb(107,107,107)"/>
<rect x="20.8" y="455.7" width="97.8" height="30.7" fill="rgb(151,151,151)"/>
<rect x="118.0" y="455.7" width="33.0" height="30.7" fill="rgb(137,137,137)"/>
<rect x="150.4" y="455.7" width="33.0" height="30.7" fill="rgb(128,128,128)"/>
<rect x="182.8" y="455.7" width="97.8" height="30.7" fill="rgb(118,118,118)"/>
<rect x="280.0" y="455.7" width="65.4" height="30.7" fill="rgb(107,107,107)"/>
<rect x="344.8" y="455.7" width="130.2" height="30.7" fill="rgb(118,118,118)"/>
<rect x="474.4" y="455.7" width="130.2" height="30.7" fill="rgb(107,107,107)"/>
<rect x="604.0" y="455.7" width="65.4" height="30.7" fill="rgb(118,118,118)"/>
<rect x="668.8" y="455.7" width="33.0" height="30.7" fill="rgb(128,128,128)"/>
<rect x="701.2" y="455.7" width="33.0" height="30.7" fill="rgb(118,118,118)"/>
<rect x="733.6" y="455.7" width="162.6" height="30.7" fill="rgb(107,107,107)"/>
<rect x="895.6" y="455.7" width="33.0" height="30.7" fill="rgb(118,118,118)"/>
<rect x="928.0" y="455.7" width="33.0" height="30.7" fill="rgb(107,107,107)"/>
<rect x="960.4" y="455.7" width="97.8" height="30.7" fill="rgb(91,91,91)"/>
<rect x="20.8" y="485.8" width="97.8" height="30.7" fill="rgb(128,128,128)"/>
<rect x="118.0" y="485.8" width="97.8" height="30.7" fill="rgb(118,118,118)"/>
<rect x="215.2" y="485.8" width="195.0" height="30.7" fill="rgb(107,107,107)"/>
<rect x="409.6" y="485.8" width="97.8" height="30.7" fill="rgb(118,118,118)"/>
<rect x="506.8" y="485.8" width="65.4" height="30.7" fill="rgb(107,107,107)"/>
<rect x="571.6" y="485.8" width="33.0" height="30.7" fill="rgb(91,91,91)"/>
<rect x="604.0" y="485.8" width="97.8" height="30.7" fill="rgb(118,118,118)"/>
<rect x="701.2" y="485.8" width="97.8" height="30.7" fill="rgb(107,107,107)"/>
<rect x="798.4" y="485.8" width="33.0" height="30.7" fill="rgb(91,91,91)"/>
<rect x="830.8" y="485.8" width="65.4" height="30.7" fill="rgb(107,107,107)"/>
<rect x="895.6" y="485.8" width="65.4" height="30.7" fill="rgb(118,118,118)"/>
<rect x="960.4" y="485.8" width="97.8" height="30.7" fill="rgb(91,91,91)"/>
<rect x="20.8" y="515.9" width="97.8" height="30.7" fill="rgb(118,118,118)"/>
<rect x="118.0" y="515.9" width="33.0" height="30.7" fill="rgb(127,127,127)"/>
<rect x="150.4" y="515.9" width="33.0" height="30.7" fill="rgb(118,118,118)"/>
<rect x="182.8" y="515.9" width="357.0" height="30.7" fill="rgb(107,107,107)"/>
<rect x="539.2" y="515.9" width="65.4" height="30.7" fill="rgb(91,91,91)"/>
<rect x="604.0" y="515.9" width="33.0" height="30.7" fill="rgb(107,107,107)"/>
<rect x="636.4" y="515.9" width="33.0" height="30.7" fill="rgb(91,91,91)"/>
<rect x="668.8" y="515.9" width="65.4" height="30.7" fill="rgb(79,79,79)"/>
<rect x="733.6" y="515.9" width="65.4" height="30.7" fill="rgb(118,118,118)"/>
<rect x="798.4" y="515.9" width="97.8" height="30.7" fill="rgb(107,107,107)"/>
<rect x="895.6" y="515.9" width="33.0" height="30.7" fill="rgb(91,91,91)"/>
<rect x="928.0" y="515.9" width="33.0" height="30.7" fill="rgb(79,79,79)"/>
<rect x="960.4" y="515.9" width="97.8" height="30.7" fill="rgb(62,62,62)"/>
<rect x="20.8" y="545.9" width="97.8" height="30.7" fill="rgb(107,107,107)"/>
<rect x="118.0" y="545.9" width="33.0" height="30.7" fill="rgb(118,118,118)"/>
<rect x="150.4" y="545.9" width="33.0" height="30.7" fill="rgb(107,107,107)"/>
<rect x="182.8" y="545.9" width="33.0" height="30.7" fill="rgb(118,118,118)"/>
<rect x="215.2" y="545.9" width="130.2" height="30.7" fill="rgb(107,107,107)"/>
<rect x="344.8" y="545.9" width="65.4" height="30.7" fill="rgb(118,118,118)"/>
<rect x="409.6" y="545.9" width="33.0" height="30.7" fill="rgb(107,107,107)"/>
<rect x="442.0" y="545.9" width="97.8" height="30.7" fill="rgb(91,91,91)"/>
<rect x="539.2" y="545.9" width="33.0" height="30.7" fill="rgb(107,107,107)"/>
<rect x="571.6" y="545.9" width="33.0" height="30.7" fill="rgb(91,91,91)"/>
<rect x="604.0" y="545.9" width="33.0" height="30.7" fill="rgb(107,107,107)"/>
<rect x="636.4" y="545.9" width="33.0" height="30.7" fill="rgb(79,79,79)"/>
<rect x="668.8" y="545.9" width="65.4" height="30.7" fill="rgb(69,69,69)"/>
<rect x="733.6" y="545.9" width="162.6" height="30.7" fill="rgb(107,107,107)"/>
<rect x="895.6" y="545.9" width="33.0" height="30.7" fill="rgb(91,91,91)"/>
<rect x="928.0" y="545.9" width="33.0" height="30.7" fill="rgb(62,62,62)"/>
<rect x="960.4" y="545.9" width="97.8" height="30.7" fill="rgb(51,51,51)"/>
<rect x="20.8" y="576.0" width="259.8" height="30.7" fill="rgb(107,107,107)"/>
<rect x="280.0" y="576.0" width="65.4" height="30.7" fill="rgb(91,91,91)"/>
<rect x="344.8" y="576.0" width="97.8" height="30.7" fill="rgb(107,107,107)"/>
<rect x="442.0" y="576.0" width="65.4" height="30.7" fill="rgb(91,91,91)"/>
<rect x="506.8" y="576.0" width="33.0" height="30.7" fill="rgb(107,107,107)"/>
<rect x="539.2" y="576.0" width="65.4" height="30.7" fill="rgb(91,91,91)"/>
<rect x="604.0" y="576.0" width="33.0" height="30.7" fill="rgb(107,107,107)"/>
<rect x="636.4" y="576.0" width="33.0" height="30.7" fill="rgb(79,79,79)"/>
<rect x="668.8" y="576.0" width="65.4" height="30.7" fill="rgb(69,69,69)"/>
<rect x="733.6" y="576.0" width="162.6" height="30.7" fill="rgb(91,91,91)"/>
<rect x="895.6" y="576.0" width="33.0" height="30.7" fill="rgb(69,69,69)"/>
<rect x="928.0" y="576.0" width="33.0" height="30.7" fill="rgb(33,33,33)"/>
<rect x="960.4" y="576.0" width="97.8" height="30.7" fill="rgb(23,23,23)"/>
<rect x="20.8" y="606.0" width="97.8" height="30.7" fill="rgb(107,107,107)"/>
<rect x="118.0" y="606.0" width="33.0" height="30.7" fill="rgb(91,91,91)"/>
<rect x="150.4" y="606.0" width="65.4" height="30.7" fill="rgb(107,107,107)"/>
<rect x="215.2" y="606.0" width="65.4" height="30.7" fill="rgb(91,91,91)"/>
<rect x="280.0" y="606.0" width="33.0" height="30.7" fill="rgb(107,107,107)"/>
<rect x="312.4" y="606.0" width="97.8" height="30.7" fill="rgb(91,91,91)"/>
<rect x="409.6" y="606.0" width="33.0" height="30.7" fill="rgb(107,107,107)"/>
<rect x="442.0" y="606.0" width="195.0" height="30.7" fill="rgb(91,91,91)"/>
<rect x="636.4" y="606.0" width="33.0" height="30.7" fill="rgb(79,79,79)"/>
<rect x="668.8" y="606.0" width="33.0" height="30.7" fill="rgb(62,62,62)"/>
<rect x="701.2" y="606.0" width="33.0" height="30.7" fill="rgb(51,51,51)"/>
<rect x="733.6" y="606.0" width="33.0" height="30.7" fill="rgb(62,62,62)"/>
<rect x="766.0" y="606.0" width="33.0" height="30.7" fill="rgb(69,69,69)"/>
<rect x="798.4" y="606.0" width="33.0" height="30.7" fill="rgb(51,51,51)"/>
<rect x="830.8" y="606.0" width="33.0" height="30.7" fill="rgb(33,33,33)"/>
<rect x="863.2" y="606.0" width="33.0" height="30.7" fill="rgb(62,62,62)"/>
<rect x="895.6" y="606.0" width="33.0" height="30.7" fill="rgb(33,33,33)"/>
<rect x="928.0" y="606.0" width="33.0" height="30.7" fill="rgb(23,23,23)"/>
<rect x="960.4" y="606.0" width="97.8" height="30.7" fill="rgb(5,5,5)"/>
<rect x="20.8" y="636.1" width="97.8" height="30.7" fill="rgb(107,107,107)"/>
<rect x="118.0" y="636.1" width="65.4" height="30.7" fill="rgb(91,91,91)"/>
<rect x="182.8" y="636.1" width="130.2" height="30.7" fill="rgb(107,107,107)"/>
<rect x="312.4" y="636.1" width="33.0" height="30.7" fill="rgb(91,91,91)"/>
<rect x="344.8" y="636.1" width="33.0" height="30.7" fill="rgb(107,107,107)"/>
<rect x="377.2" y="636.1" width="33.0" height="30.7" fill="rgb(91,91,91)"/>
<rect x="409.6" y="636.1" width="33.0" height="30.7" fill="rgb(107,107,107)"/>
<rect x="442.0" y="636.1" width="33.0" height="30.7" fill="rgb(91,91,91)"/>
<rect x="474.4" y="636.1" width="33.0" height="30.7" fill="rgb(107,107,107)"/>
<rect x="506.8" y="636.1" width="97.8" height="30.7" fill="rgb(91,91,91)"/>
<rect x="604.0" y="636.1" width="33.0" height="30.7" fill="rgb(118,118,118)"/>
<rect x="636.4" y="636.1" width="33.0" height="30.7" fill="rgb(107,107,107)"/>
<rect x="668.8" y="636.1" width="33.0" height="30.7" fill="rgb(91,91,91)"/>
<rect x="701.2" y="636.1" width="33.0" height="30.7" fill="rgb(79,79,79)"/>
<rect x="733.6" y="636.1" width="33.0" height="30.7" fill="rgb(51,51,51)"/>
<rect x="766.0" y="636.1" width="162.6" height="30.7" fill="rgb(33,33,33)"/>
<rect x="928.0" y="636.1" width="130.2" height="30.7" fill="rgb(0,0,0)"/>
<rect x="20.8" y="666.2" width="162.6" height="30.7" fill="rgb(91,91,91)"/>
<rect x="182.8" y="666.2" width="227.4" height="30.7" fill="rgb(107,107,107)"/>
<rect x="409.6" y="666.2" width="33.0" height="30.7" fill="rgb(91,91,91)"/>
<rect x="442.0" y="666.2" width="97.8" height="30.7" fill="rgb(107,107,107)"/>
<rect x="539.2" y="666.2" width="65.4" height="30.7" fill="rgb(91,91,91)"/>
<rect x="604.0" y="666.2" width="33.0" height="30.7" fill="rgb(107,107,107)"/>
<rect x="636.4" y="666.2" width="65.4" height="30.7" fill="rgb(91,91,91)"/>
<rect x="701.2" y="666.2" width="33.0" height="30.7" fill="rgb(79,79,79)"/>
<rect x="733.6" y="666.2" width="33.0" height="30.7" fill="rgb(51,51,51)"/>
<rect x="766.0" y="666.2" width="65.4" height="30.7" fill="rgb(33,33,33)"/>
<rect x="830.8" y="666.2" width="33.0" height="30.7" fill="rgb(51,51,51)"/>
<rect x="863.2" y="666.2" width="65.4" height="30.7" fill="rgb(33,33,33)"/>
<rect x="928.0" y="666.2" width="130.2" height="30.7" fill="rgb(0,0,0)"/>
<rect x="20.8" y="696.2" width="97.8" height="30.7" fill="rgb(79,79,79)"/>
<rect x="118.0" y="696.2" width="130.2" height="30.7" fill="rgb(91,91,91)"/>
<rect x="247.6" y="696.2" width="65.4" height="30.7" fill="rgb(107,107,107)"/>
<rect x="312.4" y="696.2" width="33.0" height="30.7" fill="rgb(118,118,118)"/>
<rect x="344.8" y="696.2" width="195.0" height="30.7" fill="rgb(107,107,107)"/>
<rect x="539.2" y="696.2" width="65.4" height="30.7" fill="rgb(91,91,91)"/>
<rect x="604.0" y="696.2" width="65.4" height="30.7" fill="rgb(79,79,79)"/>
<rect x="668.8" y="696.2" width="33.0" height="30.7" fill="rgb(62,62,62)"/>
<rect x="701.2" y="696.2" width="33.0" height="30.7" fill="rgb(51,51,51)"/>
<rect x="733.6" y="696.2" width="227.4" height="30.7" fill="rgb(33,33,33)"/>
<rect x="960.4" y="696.2" width="97.8" height="30.7" fill="rgb(0,0,0)"/>
<rect x="20.8" y="726.3" width="97.8" height="30.7" fill="rgb(51,51,51)"/>
<rect x="118.0" y="726.3" width="33.0" height="30.7" fill="rgb(69,69,69)"/>
<rect x="150.4" y="726.3" width="33.0" height="30.7" fill="rgb(79,79,79)"/>
<rect x="182.8" y="726.3" width="65.4" height="30.7" fill="rgb(91,91,91)"/>
<rect x="247.6" y="726.3" width="33.0" height="30.7" fill="rgb(107,107,107)"/>
<rect x="280.0" y="726.3" width="97.8" height="30.7" fill="rgb(118,118,118)"/>
<rect x="377.2" y="726.3" width="162.6" height="30.7" fill="rgb(107,107,107)"/>
<rect x="539.2" y="726.3" width="33.0" height="30.7" fill="rgb(91,91,91)"/>
<rect x="571.6" y="726.3" width="33.0" height="30.7" fill="rgb(79,79,79)"/>
<rect x="604.0" y="726.3" width="33.0" height="30.7" fill="rgb(62,62,62)"/>
<rect x="636.4" y="726.3" width="33.0" height="30.7" fill="rgb(51,51,51)"/>
<rect x="668.8" y="726.3" width="33.0" height="30.7" fill="rgb(23,23,23)"/>
<rect x="701.2" y="726.3" width="130.2" height="30.7" fill="rgb(33,33,33)"/>
<rect x="830.8" y="726.3" width="33.0" height="30.7" fill="rgb(51,51,51)"/>
<rect x="863.2" y="726.3" width="65.4" height="30.7" fill="rgb(33,33,33)"/>
<rect x="928.0" y="726.3" width="130.2" height="30.7" fill="rgb(0,0,0)"/>
<rect x="20.8" y="756.3" width="97.8" height="30.7" fill="rgb(33,33,33)"/>
<rect x="118.0" y="756.3" width="33.0" height="30.7" fill="rgb(51,51,51)"/>
<rect x="150.4" y="756.3" width="33.0" height="30.7" fill="rgb(62,62,62)"/>
<rect x="182.8" y="756.3" width="33.0" height="30.7" fill="rgb(69,69,69)"/>
<rect x="215.2" y="756.3" width="33.0" height="30.7" fill="rgb(79,79,79)"/>
<rect x="247.6" y="756.3" width="33.0" height="30.7" fill="rgb(91,91,91)"/>
<rect x="280.0" y="756.3" width="130.2" height="30.7" fill="rgb(107,107,107)"/>
<rect x="409.6" y="756.3" width="65.4" height="30.7" fill="rgb(91,91,91)"/>
<rect x="474.4" y="756.3" width="33.0" height="30.7" fill="rgb(118,118,118)"/>
<rect x="506.8" y="756.3" width="33.0" height="30.7" fill="rgb(107,107,107)"/>
<rect x="539.2" y="756.3" width="65.4" height="30.7" fill="rgb(91,91,91)"/>
<rect x="604.0" y="756.3" width="33.0" height="30.7" fill="rgb(79,79,79)"/>
<rect x="636.4" y="756.3" width="33.0" height="30.7" fill="rgb(51,51,51)"/>
<rect x="668.8" y="756.3" width="33.0" height="30.7" fill="rgb(23,23,23)"/>
<rect x="701.2" y="756.3" width="97.8" height="30.7" fill="rgb(33,33,33)"/>
<rect x="798.4" y="756.3" width="33.0" height="30.7" fill="rgb(51,51,51)"/>
<rect x="830.8" y="756.3" width="33.0" height="30.7" fill="rgb(62,62,62)"/>
<rect x="863.2" y="756.3" width="33.0" height="30.7" fill="rgb(51,51,51)"/>
<rect x="895.6" y="756.3" width="33.0" height="30.7" fill="rgb(33,33,33)"/>
<rect x="928.0" y="756.3" width="130.2" height="30.7" fill="rgb(0,0,0)"/>
<rect x="20.8" y="786.4" width="97.8" height="30.7" fill="rgb(33,33,33)"/>
<rect x="118.0" y="786.4" width="33.0" height="30.7" fill="rgb(23,23,23)"/>
<rect x="150.4" y="786.4" width="33.0" height="30.7" fill="rgb(33,33,33)"/>
<rect x="182.8" y="786.4" width="65.4" height="30.7" fill="rgb(51,51,51)"/>
<rect x="247.6" y="786.4" width="65.4" height="30.7" fill="rgb(69,69,69)"/>
<rect x="312.4" y="786.4" width="33.0" height="30.7" fill="rgb(79,79,79)"/>
<rect x="344.8" y="786.4" width="33.0" height="30.7" fill="rgb(69,69,69)"/>
<rect x="377.2" y="786.4" width="162.6" height="30.7" fill="rgb(62,62,62)"/>
<rect x="539.2" y="786.4" width="33.0" height="30.7" fill="rgb(51,51,51)"/>
<rect x="571.6" y="786.4" width="65.4" height="30.7" fill="rgb(33,33,33)"/>
<rect x="636.4" y="786.4" width="65.4" height="30.7" fill="rgb(51,51,51)"/>
<rect x="701.2" y="786.4" width="97.8" height="30.7" fill="rgb(33,33,33)"/>
<rect x="798.4" y="786.4" width="33.0" height="30.7" fill="rgb(51,51,51)"/>
<rect x="830.8" y="786.4" width="65.4" height="30.7" fill="rgb(62,62,62)"/>
<rect x="895.6" y="786.4" width="33.0" height="30.7" fill="rgb(51,51,51)"/>
<rect x="928.0" y="786.4" width="33.0" height="30.7" fill="rgb(33,33,33)"/>
<rect x="960.4" y="786.4" width="97.8" height="30.7" fill="rgb(0,0,0)"/>
<rect x="20.8" y="816.5" width="97.8" height="30.7" fill="rgb(51,51,51)"/>
<rect x="118.0" y="816.5" width="33.0" height="30.7" fill="rgb(33,33,33)"/>
<rect x="150.4" y="816.5" width="65.4" height="30.7" fill="rgb(23,23,23)"/>
<rect x="215.2" y="816.5" width="357.0" height="30.7" fill="rgb(33,33,33)"/>
<rect x="571.6" y="816.5" width="33.0" height="30.7" fill="rgb(23,23,23)"/>
<rect x="604.0" y="816.5" width="65.4" height="30.7" fill="rgb(33,33,33)"/>
<rect x="668.8" y="816.5" width="65.4" height="30.7" fill="rgb(0,0,0)"/>
<rect x="733.6" y="816.5" width="97.8" height="30.7" fill="rgb(33,33,33)"/>
<rect x="830.8" y="816.5" width="33.0" height="30.7" fill="rgb(51,51,51)"/>
<rect x="863.2" y="816.5" width="33.0" height="30.7" fill="rgb(62,62,62)"/>
<rect x="895.6" y="816.5" width="33.0" height="30.7" fill="rgb(51,51,51)"/>
<rect x="928.0" y="816.5" width="130.2" height="30.7" fill="rgb(33,33,33)"/>
<rect x="20.8" y="846.5" width="97.8" height="30.7" fill="rgb(69,69,69)"/>
<rect x="118.0" y="846.5" width="65.4" height="30.7" fill="rgb(33,33,33)"/>
<rect x="182.8" y="846.5" width="162.6" height="30.7" fill="rgb(0,0,0)"/>
<rect x="344.8" y="846.5" width="33.0" height="30.7" fill="rgb(33,33,33)"/>
<rect x="377.2" y="846.5" width="65.4" height="30.7" fill="rgb(0,0,0)"/>
<rect x="442.0" y="846.5" width="97.8" height="30.7" fill="rgb(33,33,33)"/>
<rect x="539.2" y="846.5" width="65.4" height="30.7" fill="rgb(23,23,23)"/>
<rect x="604.0" y="846.5" width="65.4" height="30.7" fill="rgb(33,33,33)"/>
<rect x="668.8" y="846.5" width="130.2" height="30.7" fill="rgb(0,0,0)"/>
<rect x="798.4" y="846.5" width="33.0" height="30.7" fill="rgb(33,33,33)"/>
<rect x="830.8" y="846.5" width="33.0" height="30.7" fill="rgb(51,51,51)"/>
<rect x="863.2" y="846.5" width="65.4" height="30.7" fill="rgb(62,62,62)"/>
<rect x="928.0" y="846.5" width="130.2" height="30.7" fill="rgb(33,33,33)"/>
<rect x="20.8" y="876.6" width="97.8" height="30.7" fill="rgb(69,69,69)"/>
<rect x="118.0" y="876.6" width="33.0" height="30.7" fill="rgb(33,33,33)"/>
<rect x="150.4" y="876.6" width="389.4" height="30.7" fill="rgb(0,0,0)"/>
<rect x="539.2" y="876.6" width="130.2" height="30.7" fill="rgb(33,33,33)"/>
<rect x="668.8" y="876.6" width="130.2" height="30.7" fill="rgb(0,0,0)"/>
<rect x="798.4" y="876.6" width="33.0" height="30.7" fill="rgb(33,33,33)"/>
<rect x="830.8" y="876.6" width="33.0" height="30.7" fill="rgb(51,51,51)"/>
<rect x="863.2" y="876.6" width="65.4" height="30.7" fill="rgb(62,62,62)"/>
<rect x="928.0" y="876.6" width="130.2" height="30.7" fill="rgb(51,51,51)"/>
<rect x="20.8" y="906.6" width="97.8" height="30.7" fill="rgb(51,51,51)"/>
<rect x="118.0" y="906.6" width="33.0" height="30.7" fill="rgb(33,33,33)"/>
<rect x="150.4" y="906.6" width="648.6" height="30.7" fill="rgb(0,0,0)"/>
<rect x="798.4" y="906.6" width="65.4" height="30.7" fill="rgb(33,33,33)"/>
<rect x="863.2" y="906.6" width="65.4" height="30.7" fill="rgb(51,51,51)"/>
<rect x="928.0" y="906.6" width="130.2" height="30.7" fill="rgb(79,79,79)"/>
<rect x="20.8" y="936.7" width="97.8" height="30.7" fill="rgb(33,33,33)"/>
<rect x="118.0" y="936.7" width="713.4" height="30.7" fill="rgb(0,0,0)"/>
<rect x="830.8" y="936.7" width="65.4" height="30.7" fill="rgb(23,23,23)"/>
<rect x="895.6" y="936.7" width="33.0" height="30.7" fill="rgb(33,33,33)"/>
<rect x="928.0" y="936.7" width="33.0" height="30.7" fill="rgb(79,79,79)"/>
<rect x="960.4" y="936.7" width="97.8" height="30.7" fill="rgb(91,91,91)"/>
<rect x="20.8" y="966.8" width="843.0" height="30.7" fill="rgb(0,0,0)"/>
<rect x="863.2" y="966.8" width="65.4" height="30.7" fill="rgb(33,33,33)"/>
<rect x="928.0" y="966.8" width="33.0" height="30.7" fill="rgb(51,51,51)"/>
<rect x="960.4" y="966.8" width="97.8" height="30.7" fill="rgb(79,79,79)"/>
<rect x="20.8" y="996.8" width="875.4" height="30.7" fill="rgb(0,0,0)"/>
<rect x="895.6" y="996.8" width="65.4" height="30.7" fill="rgb(33,33,33)"/>
<rect x="960.4" y="996.8" width="97.8" height="30.7" fill="rgb(51,51,51)"/>
<rect x="20.8" y="1026.9" width="875.4" height="30.7" fill="rgb(0,0,0)"/>
<rect x="895.6" y="1026.9" width="65.4" height="30.7" fill="rgb(33,33,33)"/>
<rect x="960.4" y="1026.9" width="97.8" height="30.7" fill="rgb(51,51,51)"/>
<rect x="20.8" y="1056.9" width="875.4" height="30.7" fill="rgb(0,0,0)"/>
<rect x="895.6" y="1056.9" width="65.4" height="30.7" fill="rgb(33,33,33)"/>
<rect x="960.4" y="1056.9" width="97.8" height="30.7" fill="rgb(51,51,51)"/>
<rect x="20.8" y="1087.0" width="875.4" height="30.7" fill="rgb(0,0,0)"/>
<rect x="895.6" y="1087.0" width="65.4" height="30.7" fill="rgb(33,33,33)"/>
<rect x="960.4" y="1087.0" width="97.8" height="30.7" fill="rgb(51,51,51)"/></g>
<clipPath id="sc0"><path d="M828.8 236.9 L3828.8 221.2 L3817.4 498.4 L3780.5 773.3 Z"/></clipPath>
<clipPath id="sc1"><path d="M828.8 236.9 L3785.9 742.4 L3726.6 1013.4 L3642.5 1277.7 Z"/></clipPath>
<clipPath id="sc2"><path d="M828.8 236.9 L3653.2 1248.2 L3547.7 1504.8 L3419.0 1750.5 Z"/></clipPath>
<clipPath id="sc3"><path d="M828.8 236.9 L3434.7 1723.3 L3286.3 1957.6 L3116.8 2177.3 Z"/></clipPath>
<clipPath id="sc4"><path d="M828.8 236.9 L3137.0 2153.2 L2950.1 2358.2 L2745.1 2545.1 Z"/></clipPath>
<clipPath id="sc5"><path d="M828.8 236.9 L2769.2 2524.9 L2549.5 2694.4 L2315.2 2842.8 Z"/></clipPath>
<clipPath id="sc6"><path d="M828.8 236.9 L2342.4 2827.1 L2096.7 2955.8 L1840.1 3061.3 Z"/></clipPath>
<clipPath id="sc7"><path d="M828.8 236.9 L1869.6 3050.6 L1605.3 3134.7 L1334.3 3194.0 Z"/></clipPath>
<clipPath id="sc8"><path d="M828.8 236.9 L1365.2 3188.6 L1090.3 3225.5 L813.1 3236.9 Z"/></clipPath>
<clipPath id="sc9"><path d="M828.8 236.9 L844.5 3236.9 L567.3 3225.5 L292.4 3188.6 Z"/></clipPath>
<clipPath id="sc10"><path d="M828.8 236.9 L323.3 3194.0 L52.3 3134.7 L-212.0 3050.6 Z"/></clipPath>
<clipPath id="sc11"><path d="M828.8 236.9 L-182.5 3061.3 L-439.1 2955.8 L-684.8 2827.1 Z"/></clipPath>
<clipPath id="sc12"><path d="M828.8 236.9 L-657.6 2842.8 L-891.9 2694.4 L-1111.6 2524.9 Z"/></clipPath>
<clipPath id="sc13"><path d="M828.8 236.9 L-1087.5 2545.1 L-1292.5 2358.2 L-1479.4 2153.2 Z"/></clipPath>
<clipPath id="sc14"><path d="M828.8 236.9 L-1459.2 2177.3 L-1628.7 1957.6 L-1777.1 1723.3 Z"/></clipPath>
<clipPath id="sc15"><path d="M828.8 236.9 L-1761.4 1750.5 L-1890.1 1504.8 L-1995.6 1248.2 Z"/></clipPath>
<clipPath id="sc16"><path d="M828.8 236.9 L-1984.9 1277.7 L-2069.0 1013.4 L-2128.3 742.4 Z"/></clipPath>
<clipPath id="sc17"><path d="M828.8 236.9 L-2122.9 773.3 L-2159.8 498.4 L-2171.2 221.2 Z"/></clipPath>
<clipPath id="sc18"><path d="M828.8 236.9 L-2171.2 252.6 L-2159.8 -24.6 L-2122.9 -299.5 Z"/></clipPath>
<clipPath id="sc19"><path d="M828.8 236.9 L-2128.3 -268.6 L-2069.0 -539.6 L-1984.9 -803.9 Z"/></clipPath>
<clipPath id="sc20"><path d="M828.8 236.9 L-1995.6 -774.4 L-1890.1 -1031.0 L-1761.4 -1276.7 Z"/></clipPath>
<clipPath id="sc21"><path d="M828.8 236.9 L-1777.1 -1249.5 L-1628.7 -1483.8 L-1459.2 -1703.5 Z"/></clipPath>
<clipPath id="sc22"><path d="M828.8 236.9 L-1479.4 -1679.4 L-1292.5 -1884.4 L-1087.5 -2071.3 Z"/></clipPath>
<clipPath id="sc23"><path d="M828.8 236.9 L-1111.6 -2051.1 L-891.9 -2220.6 L-657.6 -2369.0 Z"/></clipPath>
<clipPath id="sc24"><path d="M828.8 236.9 L-684.8 -2353.3 L-439.1 -2482.0 L-182.5 -2587.5 Z"/></clipPath>
<clipPath id="sc25"><path d="M828.8 236.9 L-212.0 -2576.8 L52.3 -2660.9 L323.3 -2720.2 Z"/></clipPath>
<clipPath id="sc26"><path d="M828.8 236.9 L292.4 -2714.8 L567.3 -2751.7 L844.5 -2763.1 Z"/></clipPath>
<clipPath id="sc27"><path d="M828.8 236.9 L813.1 -2763.1 L1090.3 -2751.7 L1365.2 -2714.8 Z"/></clipPath>
<clipPath id="sc28"><path d="M828.8 236.9 L1334.3 -2720.2 L1605.3 -2660.9 L1869.6 -2576.8 Z"/></clipPath>
<clipPath id="sc29"><path d="M828.8 236.9 L1840.1 -2587.5 L2096.7 -2482.0 L2342.4 -2353.3 Z"/></clipPath>
<clipPath id="sc30"><path d="M828.8 236.9 L2315.2 -2369.0 L2549.5 -2220.6 L2769.2 -2051.1 Z"/></clipPath>
<clipPath id="sc31"><path d="M828.8 236.9 L2745.1 -2071.3 L2950.1 -1884.4 L3137.0 -1679.4 Z"/></clipPath>
<clipPath id="sc32"><path d="M828.8 236.9 L3116.8 -1703.5 L3286.3 -1483.8 L3434.7 -1249.5 Z"/></clipPath>
<clipPath id="sc33"><path d="M828.8 236.9 L3419.0 -1276.7 L3547.7 -1031.0 L3653.2 -774.4 Z"/></clipPath>
<clipPath id="sc34"><path d="M828.8 236.9 L3642.5 -803.9 L3726.6 -539.6 L3785.9 -268.6 Z"/></clipPath>
<clipPath id="sc35"><path d="M828.8 236.9 L3780.5 -299.5 L3817.4 -24.6 L3828.8 252.6 Z"/></clipPath>
</defs>
<g><rect x="85.6" y="34.9" width="32.9" height="30.6" fill="#e8e8e8"/><rect x="118.0" y="34.9" width="32.9" height="30.6" fill="#e1e1e1"/><rect x="150.4" y="34.9" width="32.9" height="30.6" fill="#e5e5e5"/><rect x="182.8" y="34.9" width="32.9" height="30.6" fill="#e3e3e3"/><rect x="215.2" y="34.9" width="32.9" height="30.6" fill="#d9dadc"/><rect x="247.6" y="34.9" width="32.9" height="30.6" fill="#dcdde0"/><rect x="280.0" y="34.9" width="32.9" height="30.6" fill="#e1e1e3"/><rect x="312.4" y="34.9" width="32.9" height="30.6" fill="#5079b1"/><rect x="344.8" y="34.9" width="32.9" height="30.6" fill="#7a93bf"/><rect x="377.2" y="34.9" width="32.9" height="30.6" fill="#e9edf4"/><rect x="409.6" y="34.9" width="32.9" height="30.6" fill="#a8b3d1"/><rect x="442.0" y="34.9" width="32.9" height="30.6" fill="#a0adcc"/><rect x="474.4" y="34.9" width="32.9" height="30.6" fill="#7085b6"/><rect x="506.8" y="34.9" width="32.9" height="30.6" fill="#5671a9"/><rect x="539.2" y="34.9" width="32.9" height="30.6" fill="#5899c5"/><rect x="571.6" y="34.9" width="32.9" height="30.6" fill="#5799c2"/><rect x="604.0" y="34.9" width="32.9" height="30.6" fill="#506ba5"/><rect x="636.4" y="34.9" width="32.9" height="30.6" fill="#4c68a3"/><rect x="668.8" y="34.9" width="32.9" height="30.6" fill="#5084b8"/><rect x="701.2" y="34.9" width="32.9" height="30.6" fill="#77c2d1"/><rect x="733.6" y="34.9" width="32.9" height="30.6" fill="#3fc34a"/><rect x="766.0" y="34.9" width="32.9" height="30.6" fill="#11ae1b"/><rect x="798.4" y="34.9" width="32.9" height="30.6" fill="#0e9217"/><rect x="830.8" y="34.9" width="32.9" height="30.6" fill="#0e9117"/><rect x="863.2" y="34.9" width="32.9" height="30.6" fill="#0e9217"/><rect x="895.6" y="34.9" width="32.9" height="30.6" fill="#10a91a"/><rect x="928.0" y="34.9" width="32.9" height="30.6" fill="#12b11c"/><rect x="960.4" y="34.9" width="32.9" height="30.6" fill="#11af1b"/><rect x="85.6" y="65.0" width="32.9" height="30.6" fill="#ededef"/><rect x="118.0" y="65.0" width="32.9" height="30.6" fill="#e1e2e5"/><rect x="150.4" y="65.0" width="32.9" height="30.6" fill="#e1e2e4"/><rect x="182.8" y="65.0" width="32.9" height="30.6" fill="#eceef2"/><rect x="215.2" y="65.0" width="32.9" height="30.6" fill="#e4e9ef"/><rect x="247.6" y="65.0" width="32.9" height="30.6" fill="#e4edf0"/><rect x="280.0" y="65.0" width="32.9" height="30.6" fill="#e3e9ef"/><rect x="312.4" y="65.0" width="32.9" height="30.6" fill="#5ba1c9"/><rect x="344.8" y="65.0" width="32.9" height="30.6" fill="#537fb4"/><rect x="377.2" y="65.0" width="32.9" height="30.6" fill="#5da1c5"/><rect x="409.6" y="65.0" width="32.9" height="30.6" fill="#58baba"/><rect x="442.0" y="65.0" width="32.9" height="30.6" fill="#5cbcc1"/><rect x="474.4" y="65.0" width="32.9" height="30.6" fill="#5fbec8"/><rect x="506.8" y="65.0" width="32.9" height="30.6" fill="#5aa1c7"/><rect x="539.2" y="65.0" width="32.9" height="30.6" fill="#4e78b0"/><rect x="571.6" y="65.0" width="32.9" height="30.6" fill="#4e7cb2"/><rect x="604.0" y="65.0" width="32.9" height="30.6" fill="#59a0c3"/><rect x="636.4" y="65.0" width="32.9" height="30.6" fill="#5cadc8"/><rect x="668.8" y="65.0" width="32.9" height="30.6" fill="#4bcc93"/><rect x="701.2" y="65.0" width="32.9" height="30.6" fill="#39cb56"/><rect x="733.6" y="65.0" width="32.9" height="30.6" fill="#12b21d"/><rect x="766.0" y="65.0" width="32.9" height="30.6" fill="#11aa1b"/><rect x="798.4" y="65.0" width="32.9" height="30.6" fill="#0e9217"/><rect x="830.8" y="65.0" width="32.9" height="30.6" fill="#0e9017"/><rect x="863.2" y="65.0" width="32.9" height="30.6" fill="#0e8f17"/><rect x="895.6" y="65.0" width="32.9" height="30.6" fill="#0f9518"/><rect x="928.0" y="65.0" width="32.9" height="30.6" fill="#11ac1c"/><rect x="960.4" y="65.0" width="32.9" height="30.6" fill="#12b01c"/><rect x="85.6" y="95.0" width="32.9" height="30.6" fill="#73bdcf"/><rect x="118.0" y="95.0" width="32.9" height="30.6" fill="#62cba0"/><rect x="150.4" y="95.0" width="32.9" height="30.6" fill="#38b747"/><rect x="182.8" y="95.0" width="32.9" height="30.6" fill="#36b842"/><rect x="215.2" y="95.0" width="32.9" height="30.6" fill="#3abc47"/><rect x="247.6" y="95.0" width="32.9" height="30.6" fill="#38bd45"/><rect x="280.0" y="95.0" width="32.9" height="30.6" fill="#51d176"/><rect x="312.4" y="95.0" width="32.9" height="30.6" fill="#59cbb7"/><rect x="344.8" y="95.0" width="32.9" height="30.6" fill="#4ecc9a"/><rect x="377.2" y="95.0" width="32.9" height="30.6" fill="#4bd290"/><rect x="409.6" y="95.0" width="32.9" height="30.6" fill="#33cc5d"/><rect x="442.0" y="95.0" width="32.9" height="30.6" fill="#5acdb5"/><rect x="474.4" y="95.0" width="32.9" height="30.6" fill="#5fccc2"/><rect x="506.8" y="95.0" width="32.9" height="30.6" fill="#5db0c9"/><rect x="539.2" y="95.0" width="32.9" height="30.6" fill="#5081b5"/><rect x="571.6" y="95.0" width="32.9" height="30.6" fill="#5abebb"/><rect x="604.0" y="95.0" width="32.9" height="30.6" fill="#56ccad"/><rect x="636.4" y="95.0" width="32.9" height="30.6" fill="#43d080"/><rect x="668.8" y="95.0" width="32.9" height="30.6" fill="#22b82d"/><rect x="701.2" y="95.0" width="32.9" height="30.6" fill="#13b21d"/><rect x="733.6" y="95.0" width="32.9" height="30.6" fill="#11ae1c"/><rect x="766.0" y="95.0" width="32.9" height="30.6" fill="#0f9618"/><rect x="798.4" y="95.0" width="32.9" height="30.6" fill="#0e9017"/><rect x="830.8" y="95.0" width="32.9" height="30.6" fill="#0e9017"/><rect x="863.2" y="95.0" width="32.9" height="30.6" fill="#0e9017"/><rect x="895.6" y="95.0" width="32.9" height="30.6" fill="#0e9117"/><rect x="928.0" y="95.0" width="32.9" height="30.6" fill="#0e9518"/><rect x="960.4" y="95.0" width="32.9" height="30.6" fill="#21b42b"/><rect x="85.6" y="125.1" width="32.9" height="30.6" fill="#22be3e"/><rect x="118.0" y="125.1" width="32.9" height="30.6" fill="#0f9b1a"/><rect x="150.4" y="125.1" width="32.9" height="30.6" fill="#3f7f11"/><rect x="182.8" y="125.1" width="32.9" height="30.6" fill="#277f12"/><rect x="215.2" y="125.1" width="32.9" height="30.6" fill="#0d8515"/><rect x="247.6" y="125.1" width="32.9" height="30.6" fill="#0e9618"/><rect x="280.0" y="125.1" width="32.9" height="30.6" fill="#11ae1b"/><rect x="312.4" y="125.1" width="32.9" height="30.6" fill="#13b21f"/><rect x="344.8" y="125.1" width="32.9" height="30.6" fill="#15b723"/><rect x="377.2" y="125.1" width="32.9" height="30.6" fill="#22c53c"/><rect x="409.6" y="125.1" width="32.9" height="30.6" fill="#15b722"/><rect x="442.0" y="125.1" width="32.9" height="30.6" fill="#26c743"/><rect x="474.4" y="125.1" width="32.9" height="30.6" fill="#2bca4d"/><rect x="506.8" y="125.1" width="32.9" height="30.6" fill="#49d18d"/><rect x="539.2" y="125.1" width="32.9" height="30.6" fill="#53c9a9"/><rect x="571.6" y="125.1" width="32.9" height="30.6" fill="#2bc24d"/><rect x="604.0" y="125.1" width="32.9" height="30.6" fill="#15b322"/><rect x="636.4" y="125.1" width="32.9" height="30.6" fill="#12af1c"/><rect x="668.8" y="125.1" width="32.9" height="30.6" fill="#13951c"/><rect x="701.2" y="125.1" width="32.9" height="30.6" fill="#11aa1b"/><rect x="733.6" y="125.1" width="32.9" height="30.6" fill="#11ab1b"/><rect x="766.0" y="125.1" width="32.9" height="30.6" fill="#0e9317"/><rect x="798.4" y="125.1" width="32.9" height="30.6" fill="#199321"/><rect x="830.8" y="125.1" width="32.9" height="30.6" fill="#0d8915"/><rect x="863.2" y="125.1" width="32.9" height="30.6" fill="#0e8f17"/><rect x="895.6" y="125.1" width="32.9" height="30.6" fill="#0e9117"/><rect x="928.0" y="125.1" width="32.9" height="30.6" fill="#0d9017"/><rect x="960.4" y="125.1" width="32.9" height="30.6" fill="#11aa1b"/><rect x="85.6" y="155.1" width="32.9" height="30.6" fill="#568510"/><rect x="118.0" y="155.1" width="32.9" height="30.6" fill="#899c0b"/><rect x="150.4" y="155.1" width="32.9" height="30.6" fill="#92a00b"/><rect x="182.8" y="155.1" width="32.9" height="30.6" fill="#448310"/><rect x="215.2" y="155.1" width="32.9" height="30.6" fill="#0b7d13"/><rect x="247.6" y="155.1" width="32.9" height="30.6" fill="#0e9417"/><rect x="280.0" y="155.1" width="32.9" height="30.6" fill="#0e9317"/><rect x="312.4" y="155.1" width="32.9" height="30.6" fill="#0f9718"/><rect x="344.8" y="155.1" width="32.9" height="30.6" fill="#11ad1c"/><rect x="377.2" y="155.1" width="32.9" height="30.6" fill="#13b31f"/><rect x="409.6" y="155.1" width="32.9" height="30.6" fill="#14b220"/><rect x="442.0" y="155.1" width="32.9" height="30.6" fill="#12b01c"/><rect x="474.4" y="155.1" width="32.9" height="30.6" fill="#13b41d"/><rect x="506.8" y="155.1" width="32.9" height="30.6" fill="#14b320"/><rect x="539.2" y="155.1" width="32.9" height="30.6" fill="#0f9c19"/><rect x="571.6" y="155.1" width="32.9" height="30.6" fill="#0e9317"/><rect x="604.0" y="155.1" width="32.9" height="30.6" fill="#39a541"/><rect x="636.4" y="155.1" width="32.9" height="30.6" fill="#0e9017"/><rect x="668.8" y="155.1" width="32.9" height="30.6" fill="#259a2e"/><rect x="701.2" y="155.1" width="32.9" height="30.6" fill="#0f9418"/><rect x="733.6" y="155.1" width="32.9" height="30.6" fill="#0e9217"/><rect x="766.0" y="155.1" width="32.9" height="30.6" fill="#0d8e16"/><rect x="798.4" y="155.1" width="32.9" height="30.6" fill="#0c8014"/><rect x="830.8" y="155.1" width="32.9" height="30.6" fill="#0d8815"/><rect x="863.2" y="155.1" width="32.9" height="30.6" fill="#0d8815"/><rect x="895.6" y="155.1" width="32.9" height="30.6" fill="#0d8b16"/><rect x="928.0" y="155.1" width="32.9" height="30.6" fill="#0c8214"/><rect x="960.4" y="155.1" width="32.9" height="30.6" fill="#0e9117"/><rect x="85.6" y="185.2" width="32.9" height="30.6" fill="#a7aa09"/><rect x="118.0" y="185.2" width="32.9" height="30.6" fill="#6f8d0e"/><rect x="150.4" y="185.2" width="32.9" height="30.6" fill="#407812"/><rect x="182.8" y="185.2" width="32.9" height="30.6" fill="#0b7f14"/><rect x="215.2" y="185.2" width="32.9" height="30.6" fill="#0c7f14"/><rect x="247.6" y="185.2" width="32.9" height="30.6" fill="#0e9117"/><rect x="280.0" y="185.2" width="32.9" height="30.6" fill="#0d8f16"/><rect x="312.4" y="185.2" width="32.9" height="30.6" fill="#0e9017"/><rect x="344.8" y="185.2" width="32.9" height="30.6" fill="#0e9417"/><rect x="377.2" y="185.2" width="32.9" height="30.6" fill="#0f9818"/><rect x="409.6" y="185.2" width="32.9" height="30.6" fill="#10a81a"/><rect x="442.0" y="185.2" width="32.9" height="30.6" fill="#0e9517"/><rect x="474.4" y="185.2" width="32.9" height="30.6" fill="#0e9117"/><rect x="506.8" y="185.2" width="32.9" height="30.6" fill="#0e9317"/><rect x="539.2" y="185.2" width="32.9" height="30.6" fill="#0d8d16"/><rect x="571.6" y="185.2" width="32.9" height="30.6" fill="#107e13"/><rect x="604.0" y="185.2" width="32.9" height="30.6" fill="#6a8f20"/><rect x="636.4" y="185.2" width="32.9" height="30.6" fill="#107e13"/><rect x="668.8" y="185.2" width="32.9" height="30.6" fill="#0c8715"/><rect x="701.2" y="185.2" width="32.9" height="30.6" fill="#12901b"/><rect x="733.6" y="185.2" width="32.9" height="30.6" fill="#23982b"/><rect x="766.0" y="185.2" width="32.9" height="30.6" fill="#0d8615"/><rect x="798.4" y="185.2" width="32.9" height="30.6" fill="#0b7f13"/><rect x="830.8" y="185.2" width="32.9" height="30.6" fill="#0c8615"/><rect x="863.2" y="185.2" width="32.9" height="30.6" fill="#107f14"/><rect x="895.6" y="185.2" width="32.9" height="30.6" fill="#2a7a12"/><rect x="928.0" y="185.2" width="32.9" height="30.6" fill="#0d8715"/><rect x="960.4" y="185.2" width="32.9" height="30.6" fill="#0d8f16"/><rect x="85.6" y="215.3" width="32.9" height="30.6" fill="#a8ab09"/><rect x="118.0" y="215.3" width="32.9" height="30.6" fill="#93a00b"/><rect x="150.4" y="215.3" width="32.9" height="30.6" fill="#4f8410"/><rect x="182.8" y="215.3" width="32.9" height="30.6" fill="#128014"/><rect x="215.2" y="215.3" width="32.9" height="30.6" fill="#0c7e14"/><rect x="247.6" y="215.3" width="32.9" height="30.6" fill="#0d8214"/><rect x="280.0" y="215.3" width="32.9" height="30.6" fill="#0c8415"/><rect x="312.4" y="215.3" width="32.9" height="30.6" fill="#2b8013"/><rect x="344.8" y="215.3" width="32.9" height="30.6" fill="#0c8114"/><rect x="377.2" y="215.3" width="32.9" height="30.6" fill="#0d8d16"/><rect x="409.6" y="215.3" width="32.9" height="30.6" fill="#0c8415"/><rect x="442.0" y="215.3" width="32.9" height="30.6" fill="#0d8d16"/><rect x="474.4" y="215.3" width="32.9" height="30.6" fill="#0e8c17"/><rect x="506.8" y="215.3" width="32.9" height="30.6" fill="#218a28"/><rect x="539.2" y="215.3" width="32.9" height="30.6" fill="#0c8014"/><rect x="571.6" y="215.3" width="32.9" height="30.6" fill="#0e7b13"/><rect x="604.0" y="215.3" width="32.9" height="30.6" fill="#598210"/><rect x="636.4" y="215.3" width="32.9" height="30.6" fill="#397b12"/><rect x="668.8" y="215.3" width="32.9" height="30.6" fill="#2b8e32"/><rect x="701.2" y="215.3" width="32.9" height="30.6" fill="#0e8717"/><rect x="733.6" y="215.3" width="32.9" height="30.6" fill="#138c1b"/><rect x="766.0" y="215.3" width="32.9" height="30.6" fill="#2f7c12"/><rect x="798.4" y="215.3" width="32.9" height="30.6" fill="#1b7913"/><rect x="830.8" y="215.3" width="32.9" height="30.6" fill="#118114"/><rect x="863.2" y="215.3" width="32.9" height="30.6" fill="#377a12"/><rect x="895.6" y="215.3" width="32.9" height="30.6" fill="#3f7b11"/><rect x="928.0" y="215.3" width="32.9" height="30.6" fill="#0d7f14"/><rect x="960.4" y="215.3" width="32.9" height="30.6" fill="#0d8b16"/><rect x="85.6" y="245.3" width="32.9" height="30.6" fill="#beb607"/><rect x="118.0" y="245.3" width="32.9" height="30.6" fill="#468011"/><rect x="150.4" y="245.3" width="32.9" height="30.6" fill="#0d8816"/><rect x="182.8" y="245.3" width="32.9" height="30.6" fill="#0e8d17"/><rect x="215.2" y="245.3" width="32.9" height="30.6" fill="#307815"/><rect x="247.6" y="245.3" width="32.9" height="30.6" fill="#167e14"/><rect x="280.0" y="245.3" width="32.9" height="30.6" fill="#0d7e14"/><rect x="312.4" y="245.3" width="32.9" height="30.6" fill="#317914"/><rect x="344.8" y="245.3" width="32.9" height="30.6" fill="#137f14"/><rect x="377.2" y="245.3" width="32.9" height="30.6" fill="#118215"/><rect x="409.6" y="245.3" width="32.9" height="30.6" fill="#177c13"/><rect x="442.0" y="245.3" width="32.9" height="30.6" fill="#267d14"/><rect x="474.4" y="245.3" width="32.9" height="30.6" fill="#187f15"/><rect x="506.8" y="245.3" width="32.9" height="30.6" fill="#327f1b"/><rect x="539.2" y="245.3" width="32.9" height="30.6" fill="#127e14"/><rect x="571.6" y="245.3" width="32.9" height="30.6" fill="#387813"/><rect x="604.0" y="245.3" width="32.9" height="30.6" fill="#4a7b12"/><rect x="636.4" y="245.3" width="32.9" height="30.6" fill="#248323"/><rect x="668.8" y="245.3" width="32.9" height="30.6" fill="#308e34"/><rect x="701.2" y="245.3" width="32.9" height="30.6" fill="#347c13"/><rect x="733.6" y="245.3" width="32.9" height="30.6" fill="#42801b"/><rect x="766.0" y="245.3" width="32.9" height="30.6" fill="#6f8d0f"/><rect x="798.4" y="245.3" width="32.9" height="30.6" fill="#708f0e"/><rect x="830.8" y="245.3" width="32.9" height="30.6" fill="#427b11"/><rect x="863.2" y="245.3" width="32.9" height="30.6" fill="#698a10"/><rect x="895.6" y="245.3" width="32.9" height="30.6" fill="#6a8b0f"/><rect x="928.0" y="245.3" width="32.9" height="30.6" fill="#157b13"/><rect x="960.4" y="245.3" width="32.9" height="30.6" fill="#2f7a13"/><rect x="85.6" y="275.4" width="32.9" height="30.6" fill="#eacb02"/><rect x="118.0" y="275.4" width="32.9" height="30.6" fill="#ccbc05"/><rect x="150.4" y="275.4" width="32.9" height="30.6" fill="#8e9e0b"/><rect x="182.8" y="275.4" width="32.9" height="30.6" fill="#64860f"/><rect x="215.2" y="275.4" width="32.9" height="30.6" fill="#8d9d0c"/><rect x="247.6" y="275.4" width="32.9" height="30.6" fill="#6f8f0e"/><rect x="280.0" y="275.4" width="32.9" height="30.6" fill="#427a11"/><rect x="312.4" y="275.4" width="32.9" height="30.6" fill="#5f8921"/><rect x="344.8" y="275.4" width="32.9" height="30.6" fill="#76920d"/><rect x="377.2" y="275.4" width="32.9" height="30.6" fill="#4c8210"/><rect x="409.6" y="275.4" width="32.9" height="30.6" fill="#73920d"/><rect x="442.0" y="275.4" width="32.9" height="30.6" fill="#3e7c11"/><rect x="474.4" y="275.4" width="32.9" height="30.6" fill="#869a0d"/><rect x="506.8" y="275.4" width="32.9" height="30.6" fill="#6a8b0e"/><rect x="539.2" y="275.4" width="32.9" height="30.6" fill="#537e10"/><rect x="571.6" y="275.4" width="32.9" height="30.6" fill="#7d940d"/><rect x="604.0" y="275.4" width="32.9" height="30.6" fill="#9fa60a"/><rect x="636.4" y="275.4" width="32.9" height="30.6" fill="#65880f"/><rect x="668.8" y="275.4" width="32.9" height="30.6" fill="#427b11"/><rect x="701.2" y="275.4" width="32.9" height="30.6" fill="#427a13"/><rect x="733.6" y="275.4" width="32.9" height="30.6" fill="#4c7d11"/><rect x="766.0" y="275.4" width="32.9" height="30.6" fill="#748f0e"/><rect x="798.4" y="275.4" width="32.9" height="30.6" fill="#9aa30a"/><rect x="830.8" y="275.4" width="32.9" height="30.6" fill="#477d11"/><rect x="863.2" y="275.4" width="32.9" height="30.6" fill="#487e11"/><rect x="895.6" y="275.4" width="32.9" height="30.6" fill="#6c8b0e"/><rect x="928.0" y="275.4" width="32.9" height="30.6" fill="#5e840f"/><rect x="960.4" y="275.4" width="32.9" height="30.6" fill="#447911"/><rect x="85.6" y="305.4" width="32.9" height="30.6" fill="#f8bf00"/><rect x="118.0" y="305.4" width="32.9" height="30.6" fill="#f4c401"/><rect x="150.4" y="305.4" width="32.9" height="30.6" fill="#e4c703"/><rect x="182.8" y="305.4" width="32.9" height="30.6" fill="#c5b806"/><rect x="215.2" y="305.4" width="32.9" height="30.6" fill="#8e9c0c"/><rect x="247.6" y="305.4" width="32.9" height="30.6" fill="#7b940d"/><rect x="280.0" y="305.4" width="32.9" height="30.6" fill="#66880f"/><rect x="312.4" y="305.4" width="32.9" height="30.6" fill="#457c12"/><rect x="344.8" y="305.4" width="32.9" height="30.6" fill="#6f8d0e"/><rect x="377.2" y="305.4" width="32.9" height="30.6" fill="#457c11"/><rect x="409.6" y="305.4" width="32.9" height="30.6" fill="#738e17"/><rect x="442.0" y="305.4" width="32.9" height="30.6" fill="#7b9216"/><rect x="474.4" y="305.4" width="32.9" height="30.6" fill="#82970d"/><rect x="506.8" y="305.4" width="32.9" height="30.6" fill="#76910d"/><rect x="539.2" y="305.4" width="32.9" height="30.6" fill="#57850f"/><rect x="571.6" y="305.4" width="32.9" height="30.6" fill="#82970d"/><rect x="604.0" y="305.4" width="32.9" height="30.6" fill="#80950d"/><rect x="636.4" y="305.4" width="32.9" height="30.6" fill="#527f10"/><rect x="668.8" y="305.4" width="32.9" height="30.6" fill="#688a0f"/><rect x="701.2" y="305.4" width="32.9" height="30.6" fill="#487c12"/><rect x="733.6" y="305.4" width="32.9" height="30.6" fill="#708d0e"/><rect x="766.0" y="305.4" width="32.9" height="30.6" fill="#728f0e"/><rect x="798.4" y="305.4" width="32.9" height="30.6" fill="#497f10"/><rect x="830.8" y="305.4" width="32.9" height="30.6" fill="#107d13"/><rect x="863.2" y="305.4" width="32.9" height="30.6" fill="#117e14"/><rect x="895.6" y="305.4" width="32.9" height="30.6" fill="#377b11"/><rect x="928.0" y="305.4" width="32.9" height="30.6" fill="#147c13"/><rect x="960.4" y="305.4" width="32.9" height="30.6" fill="#407a11"/><rect x="85.6" y="335.5" width="32.9" height="30.6" fill="#bdb307"/><rect x="118.0" y="335.5" width="32.9" height="30.6" fill="#bfb406"/><rect x="150.4" y="335.5" width="32.9" height="30.6" fill="#edc802"/><rect x="182.8" y="335.5" width="32.9" height="30.6" fill="#fbc100"/><rect x="215.2" y="335.5" width="32.9" height="30.6" fill="#ddc304"/><rect x="247.6" y="335.5" width="32.9" height="30.6" fill="#b5b107"/><rect x="280.0" y="335.5" width="32.9" height="30.6" fill="#a7a809"/><rect x="312.4" y="335.5" width="32.9" height="30.6" fill="#4c7d11"/><rect x="344.8" y="335.5" width="32.9" height="30.6" fill="#6f8c0f"/><rect x="377.2" y="335.5" width="32.9" height="30.6" fill="#6f8b15"/><rect x="409.6" y="335.5" width="32.9" height="30.6" fill="#718b12"/><rect x="442.0" y="335.5" width="32.9" height="30.6" fill="#718e0f"/><rect x="474.4" y="335.5" width="32.9" height="30.6" fill="#768f18"/><rect x="506.8" y="335.5" width="32.9" height="30.6" fill="#7a9114"/><rect x="539.2" y="335.5" width="32.9" height="30.6" fill="#779110"/><rect x="571.6" y="335.5" width="32.9" height="30.6" fill="#77910e"/><rect x="604.0" y="335.5" width="32.9" height="30.6" fill="#a4a90b"/><rect x="636.4" y="335.5" width="32.9" height="30.6" fill="#91a73f"/><rect x="668.8" y="335.5" width="32.9" height="30.6" fill="#497b11"/><rect x="701.2" y="335.5" width="32.9" height="30.6" fill="#487b12"/><rect x="733.6" y="335.5" width="32.9" height="30.6" fill="#65870f"/><rect x="766.0" y="335.5" width="32.9" height="30.6" fill="#477c11"/><rect x="798.4" y="335.5" width="32.9" height="30.6" fill="#107d13"/><rect x="830.8" y="335.5" width="32.9" height="30.6" fill="#0c8615"/><rect x="863.2" y="335.5" width="32.9" height="30.6" fill="#0c8415"/><rect x="895.6" y="335.5" width="32.9" height="30.6" fill="#0e7c13"/><rect x="928.0" y="335.5" width="32.9" height="30.6" fill="#357812"/><rect x="960.4" y="335.5" width="32.9" height="30.6" fill="#357b12"/><rect x="85.6" y="365.6" width="32.9" height="30.6" fill="#b4b109"/><rect x="118.0" y="365.6" width="32.9" height="30.6" fill="#dcbe04"/><rect x="150.4" y="365.6" width="32.9" height="30.6" fill="#f3cd02"/><rect x="182.8" y="365.6" width="32.9" height="30.6" fill="#fec201"/><rect x="215.2" y="365.6" width="32.9" height="30.6" fill="#f9b902"/><rect x="247.6" y="365.6" width="32.9" height="30.6" fill="#f3c302"/><rect x="280.0" y="365.6" width="32.9" height="30.6" fill="#c6b206"/><rect x="312.4" y="365.6" width="32.9" height="30.6" fill="#8f9d0c"/><rect x="344.8" y="365.6" width="32.9" height="30.6" fill="#688b0f"/><rect x="377.2" y="365.6" width="32.9" height="30.6" fill="#7f970d"/><rect x="409.6" y="365.6" width="32.9" height="30.6" fill="#718e0f"/><rect x="442.0" y="365.6" width="32.9" height="30.6" fill="#6d8b0f"/><rect x="474.4" y="365.6" width="32.9" height="30.6" fill="#6d8a1a"/><rect x="506.8" y="365.6" width="32.9" height="30.6" fill="#6a891f"/><rect x="539.2" y="365.6" width="32.9" height="30.6" fill="#658616"/><rect x="571.6" y="365.6" width="32.9" height="30.6" fill="#52801c"/><rect x="604.0" y="365.6" width="32.9" height="30.6" fill="#a7aa0a"/><rect x="636.4" y="365.6" width="32.9" height="30.6" fill="#b4b109"/><rect x="668.8" y="365.6" width="32.9" height="30.6" fill="#77910e"/><rect x="701.2" y="365.6" width="32.9" height="30.6" fill="#5c8a2b"/><rect x="733.6" y="365.6" width="32.9" height="30.6" fill="#4b7a12"/><rect x="766.0" y="365.6" width="32.9" height="30.6" fill="#618510"/><rect x="798.4" y="365.6" width="32.9" height="30.6" fill="#167c14"/><rect x="830.8" y="365.6" width="32.9" height="30.6" fill="#0d8415"/><rect x="863.2" y="365.6" width="32.9" height="30.6" fill="#267b15"/><rect x="895.6" y="365.6" width="32.9" height="30.6" fill="#347914"/><rect x="928.0" y="365.6" width="32.9" height="30.6" fill="#287a14"/><rect x="960.4" y="365.6" width="32.9" height="30.6" fill="#0e8b16"/><rect x="85.6" y="395.6" width="32.9" height="30.6" fill="#c4b906"/><rect x="118.0" y="395.6" width="32.9" height="30.6" fill="#eecd01"/><rect x="150.4" y="395.6" width="32.9" height="30.6" fill="#fec200"/><rect x="182.8" y="395.6" width="32.9" height="30.6" fill="#edc802"/><rect x="215.2" y="395.6" width="32.9" height="30.6" fill="#dbbf04"/><rect x="247.6" y="395.6" width="32.9" height="30.6" fill="#75900e"/><rect x="280.0" y="395.6" width="32.9" height="30.6" fill="#218112"/><rect x="312.4" y="395.6" width="32.9" height="30.6" fill="#117c13"/><rect x="344.8" y="395.6" width="32.9" height="30.6" fill="#0d8e16"/><rect x="377.2" y="395.6" width="32.9" height="30.6" fill="#0c8114"/><rect x="409.6" y="395.6" width="32.9" height="30.6" fill="#188013"/><rect x="442.0" y="395.6" width="32.9" height="30.6" fill="#408410"/><rect x="474.4" y="395.6" width="32.9" height="30.6" fill="#43811c"/><rect x="506.8" y="395.6" width="32.9" height="30.6" fill="#19801a"/><rect x="539.2" y="395.6" width="32.9" height="30.6" fill="#177e14"/><rect x="571.6" y="395.6" width="32.9" height="30.6" fill="#488011"/><rect x="604.0" y="395.6" width="32.9" height="30.6" fill="#9aa20a"/><rect x="636.4" y="395.6" width="32.9" height="30.6" fill="#b3b008"/><rect x="668.8" y="395.6" width="32.9" height="30.6" fill="#819a25"/><rect x="701.2" y="395.6" width="32.9" height="30.6" fill="#4d7e12"/><rect x="733.6" y="395.6" width="32.9" height="30.6" fill="#6b8a0f"/><rect x="766.0" y="395.6" width="32.9" height="30.6" fill="#748f0e"/><rect x="798.4" y="395.6" width="32.9" height="30.6" fill="#64870f"/><rect x="830.8" y="395.6" width="32.9" height="30.6" fill="#0d7d13"/><rect x="863.2" y="395.6" width="32.9" height="30.6" fill="#0d8615"/><rect x="895.6" y="395.6" width="32.9" height="30.6" fill="#0d8a15"/><rect x="928.0" y="395.6" width="32.9" height="30.6" fill="#0d8c16"/><rect x="960.4" y="395.6" width="32.9" height="30.6" fill="#0d8f16"/><rect x="85.6" y="425.7" width="32.9" height="30.6" fill="#efce01"/><rect x="118.0" y="425.7" width="32.9" height="30.6" fill="#f8cc00"/><rect x="150.4" y="425.7" width="32.9" height="30.6" fill="#d3b804"/><rect x="182.8" y="425.7" width="32.9" height="30.6" fill="#9ca40a"/><rect x="215.2" y="425.7" width="32.9" height="30.6" fill="#4c8511"/><rect x="247.6" y="425.7" width="32.9" height="30.6" fill="#117f13"/><rect x="280.0" y="425.7" width="32.9" height="30.6" fill="#0b7f13"/><rect x="312.4" y="425.7" width="32.9" height="30.6" fill="#0c8114"/><rect x="344.8" y="425.7" width="32.9" height="30.6" fill="#0d8e16"/><rect x="377.2" y="425.7" width="32.9" height="30.6" fill="#0e8d17"/><rect x="409.6" y="425.7" width="32.9" height="30.6" fill="#0e8214"/><rect x="442.0" y="425.7" width="32.9" height="30.6" fill="#0d8414"/><rect x="474.4" y="425.7" width="32.9" height="30.6" fill="#27892b"/><rect x="506.8" y="425.7" width="32.9" height="30.6" fill="#0d8e16"/><rect x="539.2" y="425.7" width="32.9" height="30.6" fill="#19811b"/><rect x="571.6" y="425.7" width="32.9" height="30.6" fill="#327816"/><rect x="604.0" y="425.7" width="32.9" height="30.6" fill="#75900f"/><rect x="636.4" y="425.7" width="32.9" height="30.6" fill="#a1a80a"/><rect x="668.8" y="425.7" width="32.9" height="30.6" fill="#769217"/><rect x="701.2" y="425.7" width="32.9" height="30.6" fill="#487d12"/><rect x="733.6" y="425.7" width="32.9" height="30.6" fill="#688b0f"/><rect x="766.0" y="425.7" width="32.9" height="30.6" fill="#63880f"/><rect x="798.4" y="425.7" width="32.9" height="30.6" fill="#3f7f11"/><rect x="830.8" y="425.7" width="32.9" height="30.6" fill="#0c8114"/><rect x="863.2" y="425.7" width="32.9" height="30.6" fill="#0e8d17"/><rect x="895.6" y="425.7" width="32.9" height="30.6" fill="#0d8c16"/><rect x="928.0" y="425.7" width="32.9" height="30.6" fill="#0e9017"/><rect x="960.4" y="425.7" width="32.9" height="30.6" fill="#0e9417"/><rect x="85.6" y="455.7" width="32.9" height="30.6" fill="#c3b506"/><rect x="118.0" y="455.7" width="32.9" height="30.6" fill="#889d0b"/><rect x="150.4" y="455.7" width="32.9" height="30.6" fill="#367f11"/><rect x="182.8" y="455.7" width="32.9" height="30.6" fill="#107c13"/><rect x="215.2" y="455.7" width="32.9" height="30.6" fill="#0c8215"/><rect x="247.6" y="455.7" width="32.9" height="30.6" fill="#0c8214"/><rect x="280.0" y="455.7" width="32.9" height="30.6" fill="#0e9317"/><rect x="312.4" y="455.7" width="32.9" height="30.6" fill="#108f19"/><rect x="344.8" y="455.7" width="32.9" height="30.6" fill="#14821c"/><rect x="377.2" y="455.7" width="32.9" height="30.6" fill="#17811e"/><rect x="409.6" y="455.7" width="32.9" height="30.6" fill="#187f1f"/><rect x="442.0" y="455.7" width="32.9" height="30.6" fill="#157f1d"/><rect x="474.4" y="455.7" width="32.9" height="30.6" fill="#219629"/><rect x="506.8" y="455.7" width="32.9" height="30.6" fill="#0e9217"/><rect x="539.2" y="455.7" width="32.9" height="30.6" fill="#0e9017"/><rect x="571.6" y="455.7" width="32.9" height="30.6" fill="#168b1e"/><rect x="604.0" y="455.7" width="32.9" height="30.6" fill="#17801a"/><rect x="636.4" y="455.7" width="32.9" height="30.6" fill="#147f13"/><rect x="668.8" y="455.7" width="32.9" height="30.6" fill="#267a12"/><rect x="701.2" y="455.7" width="32.9" height="30.6" fill="#0d8115"/><rect x="733.6" y="455.7" width="32.9" height="30.6" fill="#0d8b16"/><rect x="766.0" y="455.7" width="32.9" height="30.6" fill="#0d8c16"/><rect x="798.4" y="455.7" width="32.9" height="30.6" fill="#0e8f17"/><rect x="830.8" y="455.7" width="32.9" height="30.6" fill="#16911e"/><rect x="863.2" y="455.7" width="32.9" height="30.6" fill="#0e8e17"/><rect x="895.6" y="455.7" width="32.9" height="30.6" fill="#0b8014"/><rect x="928.0" y="455.7" width="32.9" height="30.6" fill="#0e9317"/><rect x="960.4" y="455.7" width="32.9" height="30.6" fill="#11ad1b"/><rect x="85.6" y="485.8" width="32.9" height="30.6" fill="#347d12"/><rect x="118.0" y="485.8" width="32.9" height="30.6" fill="#128014"/><rect x="150.4" y="485.8" width="32.9" height="30.6" fill="#0c8515"/><rect x="182.8" y="485.8" width="32.9" height="30.6" fill="#0b7f14"/><rect x="215.2" y="485.8" width="32.9" height="30.6" fill="#0e8f17"/><rect x="247.6" y="485.8" width="32.9" height="30.6" fill="#0e9217"/><rect x="280.0" y="485.8" width="32.9" height="30.6" fill="#0e9417"/><rect x="312.4" y="485.8" width="32.9" height="30.6" fill="#0f9418"/><rect x="344.8" y="485.8" width="32.9" height="30.6" fill="#0d8c16"/><rect x="377.2" y="485.8" width="32.9" height="30.6" fill="#0d8f16"/><rect x="409.6" y="485.8" width="32.9" height="30.6" fill="#0c8314"/><rect x="442.0" y="485.8" width="32.9" height="30.6" fill="#1a811e"/><rect x="474.4" y="485.8" width="32.9" height="30.6" fill="#0d8515"/><rect x="506.8" y="485.8" width="32.9" height="30.6" fill="#0e9117"/><rect x="539.2" y="485.8" width="32.9" height="30.6" fill="#0e9818"/><rect x="571.6" y="485.8" width="32.9" height="30.6" fill="#11a91b"/><rect x="604.0" y="485.8" width="32.9" height="30.6" fill="#0f8515"/><rect x="636.4" y="485.8" width="32.9" height="30.6" fill="#14831c"/><rect x="668.8" y="485.8" width="32.9" height="30.6" fill="#0f8617"/><rect x="701.2" y="485.8" width="32.9" height="30.6" fill="#0f9418"/><rect x="733.6" y="485.8" width="32.9" height="30.6" fill="#0e9217"/><rect x="766.0" y="485.8" width="32.9" height="30.6" fill="#0e9217"/><rect x="798.4" y="485.8" width="32.9" height="30.6" fill="#32b33a"/><rect x="830.8" y="485.8" width="32.9" height="30.6" fill="#0e9317"/><rect x="863.2" y="485.8" width="32.9" height="30.6" fill="#0e9217"/><rect x="895.6" y="485.8" width="32.9" height="30.6" fill="#0c8414"/><rect x="928.0" y="485.8" width="32.9" height="30.6" fill="#0d8c16"/><rect x="960.4" y="485.8" width="32.9" height="30.6" fill="#12b11d"/><rect x="85.6" y="515.9" width="32.9" height="30.6" fill="#0c8115"/><rect x="118.0" y="515.9" width="32.9" height="30.6" fill="#1d7913"/><rect x="150.4" y="515.9" width="32.9" height="30.6" fill="#0c8115"/><rect x="182.8" y="515.9" width="32.9" height="30.6" fill="#0e8c17"/><rect x="215.2" y="515.9" width="32.9" height="30.6" fill="#0f9218"/><rect x="247.6" y="515.9" width="32.9" height="30.6" fill="#0e9217"/><rect x="280.0" y="515.9" width="32.9" height="30.6" fill="#0f9518"/><rect x="312.4" y="515.9" width="32.9" height="30.6" fill="#0f9519"/><rect x="344.8" y="515.9" width="32.9" height="30.6" fill="#0f9318"/><rect x="377.2" y="515.9" width="32.9" height="30.6" fill="#0e8f17"/><rect x="409.6" y="515.9" width="32.9" height="30.6" fill="#0e9017"/><rect x="442.0" y="515.9" width="32.9" height="30.6" fill="#14901d"/><rect x="474.4" y="515.9" width="32.9" height="30.6" fill="#1b9423"/><rect x="506.8" y="515.9" width="32.9" height="30.6" fill="#17971f"/><rect x="539.2" y="515.9" width="32.9" height="30.6" fill="#18a621"/><rect x="571.6" y="515.9" width="32.9" height="30.6" fill="#1aad24"/><rect x="604.0" y="515.9" width="32.9" height="30.6" fill="#11951a"/><rect x="636.4" y="515.9" width="32.9" height="30.6" fill="#18aa23"/><rect x="668.8" y="515.9" width="32.9" height="30.6" fill="#21c13a"/><rect x="701.2" y="515.9" width="32.9" height="30.6" fill="#21bf37"/><rect x="733.6" y="515.9" width="32.9" height="30.6" fill="#0d8816"/><rect x="766.0" y="515.9" width="32.9" height="30.6" fill="#0f8315"/><rect x="798.4" y="515.9" width="32.9" height="30.6" fill="#0e9217"/><rect x="830.8" y="515.9" width="32.9" height="30.6" fill="#0e9117"/><rect x="863.2" y="515.9" width="32.9" height="30.6" fill="#0f9318"/><rect x="895.6" y="515.9" width="32.9" height="30.6" fill="#13b01e"/><rect x="928.0" y="515.9" width="32.9" height="30.6" fill="#27c446"/><rect x="960.4" y="515.9" width="32.9" height="30.6" fill="#56cdac"/><rect x="85.6" y="545.9" width="32.9" height="30.6" fill="#0d8f16"/><rect x="118.0" y="545.9" width="32.9" height="30.6" fill="#0c8515"/><rect x="150.4" y="545.9" width="32.9" height="30.6" fill="#0e9017"/><rect x="182.8" y="545.9" width="32.9" height="30.6" fill="#0c8515"/><rect x="215.2" y="545.9" width="32.9" height="30.6" fill="#0f9318"/><rect x="247.6" y="545.9" width="32.9" height="30.6" fill="#0e9517"/><rect x="280.0" y="545.9" width="32.9" height="30.6" fill="#0f9718"/><rect x="312.4" y="545.9" width="32.9" height="30.6" fill="#0f9418"/><rect x="344.8" y="545.9" width="32.9" height="30.6" fill="#0c8314"/><rect x="377.2" y="545.9" width="32.9" height="30.6" fill="#0d8915"/><rect x="409.6" y="545.9" width="32.9" height="30.6" fill="#0e9417"/><rect x="442.0" y="545.9" width="32.9" height="30.6" fill="#15aa1f"/><rect x="474.4" y="545.9" width="32.9" height="30.6" fill="#15ae1f"/><rect x="506.8" y="545.9" width="32.9" height="30.6" fill="#11ab1b"/><rect x="539.2" y="545.9" width="32.9" height="30.6" fill="#0f9c18"/><rect x="571.6" y="545.9" width="32.9" height="30.6" fill="#12ae1c"/><rect x="604.0" y="545.9" width="32.9" height="30.6" fill="#15951e"/><rect x="636.4" y="545.9" width="32.9" height="30.6" fill="#2cc147"/><rect x="668.8" y="545.9" width="32.9" height="30.6" fill="#49d18b"/><rect x="701.2" y="545.9" width="32.9" height="30.6" fill="#40ce79"/><rect x="733.6" y="545.9" width="32.9" height="30.6" fill="#0f9a18"/><rect x="766.0" y="545.9" width="32.9" height="30.6" fill="#0e9117"/><rect x="798.4" y="545.9" width="32.9" height="30.6" fill="#0e9117"/><rect x="830.8" y="545.9" width="32.9" height="30.6" fill="#16981f"/><rect x="863.2" y="545.9" width="32.9" height="30.6" fill="#0f9818"/><rect x="895.6" y="545.9" width="32.9" height="30.6" fill="#15b722"/><rect x="928.0" y="545.9" width="32.9" height="30.6" fill="#5ac5bd"/><rect x="960.4" y="545.9" width="32.9" height="30.6" fill="#5babc7"/><rect x="85.6" y="576.0" width="32.9" height="30.6" fill="#0e9618"/><rect x="118.0" y="576.0" width="32.9" height="30.6" fill="#0e9317"/><rect x="150.4" y="576.0" width="32.9" height="30.6" fill="#0e9518"/><rect x="182.8" y="576.0" width="32.9" height="30.6" fill="#0d8e16"/><rect x="215.2" y="576.0" width="32.9" height="30.6" fill="#0f9418"/><rect x="247.6" y="576.0" width="32.9" height="30.6" fill="#0e9718"/><rect x="280.0" y="576.0" width="32.9" height="30.6" fill="#10ab1b"/><rect x="312.4" y="576.0" width="32.9" height="30.6" fill="#11aa1b"/><rect x="344.8" y="576.0" width="32.9" height="30.6" fill="#0f9918"/><rect x="377.2" y="576.0" width="32.9" height="30.6" fill="#0e9517"/><rect x="409.6" y="576.0" width="32.9" height="30.6" fill="#0e9618"/><rect x="442.0" y="576.0" width="32.9" height="30.6" fill="#17ae21"/><rect x="474.4" y="576.0" width="32.9" height="30.6" fill="#13ae1e"/><rect x="506.8" y="576.0" width="32.9" height="30.6" fill="#0f9b18"/><rect x="539.2" y="576.0" width="32.9" height="30.6" fill="#11ac1b"/><rect x="571.6" y="576.0" width="32.9" height="30.6" fill="#12b11c"/><rect x="604.0" y="576.0" width="32.9" height="30.6" fill="#139a1c"/><rect x="636.4" y="576.0" width="32.9" height="30.6" fill="#2abf43"/><rect x="668.8" y="576.0" width="32.9" height="30.6" fill="#4cd292"/><rect x="701.2" y="576.0" width="32.9" height="30.6" fill="#4ece93"/><rect x="733.6" y="576.0" width="32.9" height="30.6" fill="#19b828"/><rect x="766.0" y="576.0" width="32.9" height="30.6" fill="#14b321"/><rect x="798.4" y="576.0" width="32.9" height="30.6" fill="#19b62b"/><rect x="830.8" y="576.0" width="32.9" height="30.6" fill="#1ebb34"/><rect x="863.2" y="576.0" width="32.9" height="30.6" fill="#1cb731"/><rect x="895.6" y="576.0" width="32.9" height="30.6" fill="#4cc998"/><rect x="928.0" y="576.0" width="32.9" height="30.6" fill="#4f7ab1"/><rect x="960.4" y="576.0" width="32.9" height="30.6" fill="#6b81b2"/><rect x="85.6" y="606.0" width="32.9" height="30.6" fill="#0e9517"/><rect x="118.0" y="606.0" width="32.9" height="30.6" fill="#11b01b"/><rect x="150.4" y="606.0" width="32.9" height="30.6" fill="#0f9b18"/><rect x="182.8" y="606.0" width="32.9" height="30.6" fill="#0f9618"/><rect x="215.2" y="606.0" width="32.9" height="30.6" fill="#11aa1b"/><rect x="247.6" y="606.0" width="32.9" height="30.6" fill="#11ae1b"/><rect x="280.0" y="606.0" width="32.9" height="30.6" fill="#0f9c18"/><rect x="312.4" y="606.0" width="32.9" height="30.6" fill="#11af1c"/><rect x="344.8" y="606.0" width="32.9" height="30.6" fill="#11ae1b"/><rect x="377.2" y="606.0" width="32.9" height="30.6" fill="#12a91c"/><rect x="409.6" y="606.0" width="32.9" height="30.6" fill="#0f9818"/><rect x="442.0" y="606.0" width="32.9" height="30.6" fill="#1ead27"/><rect x="474.4" y="606.0" width="32.9" height="30.6" fill="#12af1d"/><rect x="506.8" y="606.0" width="32.9" height="30.6" fill="#11af1c"/><rect x="539.2" y="606.0" width="32.9" height="30.6" fill="#11b11c"/><rect x="571.6" y="606.0" width="32.9" height="30.6" fill="#17ae20"/><rect x="604.0" y="606.0" width="32.9" height="30.6" fill="#14ae1e"/><rect x="636.4" y="606.0" width="32.9" height="30.6" fill="#2abf47"/><rect x="668.8" y="606.0" width="32.9" height="30.6" fill="#57caa5"/><rect x="701.2" y="606.0" width="32.9" height="30.6" fill="#61bbca"/><rect x="733.6" y="606.0" width="32.9" height="30.6" fill="#5fc5bf"/><rect x="766.0" y="606.0" width="32.9" height="30.6" fill="#50c599"/><rect x="798.4" y="606.0" width="32.9" height="30.6" fill="#59aec0"/><rect x="830.8" y="606.0" width="32.9" height="30.6" fill="#4f86b5"/><rect x="863.2" y="606.0" width="32.9" height="30.6" fill="#59bbbb"/><rect x="895.6" y="606.0" width="32.9" height="30.6" fill="#4e79af"/><rect x="928.0" y="606.0" width="32.9" height="30.6" fill="#5c70a8"/><rect x="960.4" y="606.0" width="32.9" height="30.6" fill="#d4d8e6"/><rect x="85.6" y="636.1" width="32.9" height="30.6" fill="#0f9a18"/><rect x="118.0" y="636.1" width="32.9" height="30.6" fill="#11b01b"/><rect x="150.4" y="636.1" width="32.9" height="30.6" fill="#13af1e"/><rect x="182.8" y="636.1" width="32.9" height="30.6" fill="#0e9418"/><rect x="215.2" y="636.1" width="32.9" height="30.6" fill="#0f9518"/><rect x="247.6" y="636.1" width="32.9" height="30.6" fill="#0e9617"/><rect x="280.0" y="636.1" width="32.9" height="30.6" fill="#0e9417"/><rect x="312.4" y="636.1" width="32.9" height="30.6" fill="#12ad1d"/><rect x="344.8" y="636.1" width="32.9" height="30.6" fill="#0f9a18"/><rect x="377.2" y="636.1" width="32.9" height="30.6" fill="#13ac1d"/><rect x="409.6" y="636.1" width="32.9" height="30.6" fill="#169a1f"/><rect x="442.0" y="636.1" width="32.9" height="30.6" fill="#13a91d"/><rect x="474.4" y="636.1" width="32.9" height="30.6" fill="#16981f"/><rect x="506.8" y="636.1" width="32.9" height="30.6" fill="#1aa924"/><rect x="539.2" y="636.1" width="32.9" height="30.6" fill="#19b124"/><rect x="571.6" y="636.1" width="32.9" height="30.6" fill="#1da927"/><rect x="604.0" y="636.1" width="32.9" height="30.6" fill="#128a1a"/><rect x="636.4" y="636.1" width="32.9" height="30.6" fill="#0f9b19"/><rect x="668.8" y="636.1" width="32.9" height="30.6" fill="#17b427"/><rect x="701.2" y="636.1" width="32.9" height="30.6" fill="#33c95f"/><rect x="733.6" y="636.1" width="32.9" height="30.6" fill="#5eb2cc"/><rect x="766.0" y="636.1" width="32.9" height="30.6" fill="#4e7aaf"/><rect x="798.4" y="636.1" width="32.9" height="30.6" fill="#4d70aa"/><rect x="830.8" y="636.1" width="32.9" height="30.6" fill="#4c73ad"/><rect x="863.2" y="636.1" width="32.9" height="30.6" fill="#567db3"/><rect x="895.6" y="636.1" width="32.9" height="30.6" fill="#c2cee2"/><rect x="928.0" y="636.1" width="32.9" height="30.6" fill="#eceef5"/><rect x="960.4" y="636.1" width="32.9" height="30.6" fill="#ffffff"/><rect x="85.6" y="666.2" width="32.9" height="30.6" fill="#13b01e"/><rect x="118.0" y="666.2" width="32.9" height="30.6" fill="#12b31c"/><rect x="150.4" y="666.2" width="32.9" height="30.6" fill="#11b01b"/><rect x="182.8" y="666.2" width="32.9" height="30.6" fill="#0f9818"/><rect x="215.2" y="666.2" width="32.9" height="30.6" fill="#0f9418"/><rect x="247.6" y="666.2" width="32.9" height="30.6" fill="#0e9017"/><rect x="280.0" y="666.2" width="32.9" height="30.6" fill="#0e9217"/><rect x="312.4" y="666.2" width="32.9" height="30.6" fill="#0f9118"/><rect x="344.8" y="666.2" width="32.9" height="30.6" fill="#0f9318"/><rect x="377.2" y="666.2" width="32.9" height="30.6" fill="#0f9918"/><rect x="409.6" y="666.2" width="32.9" height="30.6" fill="#11a91b"/><rect x="442.0" y="666.2" width="32.9" height="30.6" fill="#0f9818"/><rect x="474.4" y="666.2" width="32.9" height="30.6" fill="#0f9518"/><rect x="506.8" y="666.2" width="32.9" height="30.6" fill="#179620"/><rect x="539.2" y="666.2" width="32.9" height="30.6" fill="#13b31e"/><rect x="571.6" y="666.2" width="32.9" height="30.6" fill="#12b11d"/><rect x="604.0" y="666.2" width="32.9" height="30.6" fill="#10991a"/><rect x="636.4" y="666.2" width="32.9" height="30.6" fill="#19a924"/><rect x="668.8" y="666.2" width="32.9" height="30.6" fill="#14b421"/><rect x="701.2" y="666.2" width="32.9" height="30.6" fill="#37cd64"/><rect x="733.6" y="666.2" width="32.9" height="30.6" fill="#58a7be"/><rect x="766.0" y="666.2" width="32.9" height="30.6" fill="#4b6faa"/><rect x="798.4" y="666.2" width="32.9" height="30.6" fill="#4d73ac"/><rect x="830.8" y="666.2" width="32.9" height="30.6" fill="#5694c0"/><rect x="863.2" y="666.2" width="32.9" height="30.6" fill="#738ebc"/><rect x="895.6" y="666.2" width="32.9" height="30.6" fill="#dadfec"/><rect x="928.0" y="666.2" width="32.9" height="30.6" fill="#fcfcfd"/><rect x="960.4" y="666.2" width="32.9" height="30.6" fill="#fefefe"/><rect x="85.6" y="696.2" width="32.9" height="30.6" fill="#31cb5a"/><rect x="118.0" y="696.2" width="32.9" height="30.6" fill="#17ba26"/><rect x="150.4" y="696.2" width="32.9" height="30.6" fill="#12b51c"/><rect x="182.8" y="696.2" width="32.9" height="30.6" fill="#12b01c"/><rect x="215.2" y="696.2" width="32.9" height="30.6" fill="#12ad1c"/><rect x="247.6" y="696.2" width="32.9" height="30.6" fill="#0e9318"/><rect x="280.0" y="696.2" width="32.9" height="30.6" fill="#0e9017"/><rect x="312.4" y="696.2" width="32.9" height="30.6" fill="#0e8916"/><rect x="344.8" y="696.2" width="32.9" height="30.6" fill="#0e9017"/><rect x="377.2" y="696.2" width="32.9" height="30.6" fill="#0e8f17"/><rect x="409.6" y="696.2" width="32.9" height="30.6" fill="#0e9518"/><rect x="442.0" y="696.2" width="32.9" height="30.6" fill="#0f9518"/><rect x="474.4" y="696.2" width="32.9" height="30.6" fill="#13921c"/><rect x="506.8" y="696.2" width="32.9" height="30.6" fill="#14971d"/><rect x="539.2" y="696.2" width="32.9" height="30.6" fill="#11b11c"/><rect x="571.6" y="696.2" width="32.9" height="30.6" fill="#14b31f"/><rect x="604.0" y="696.2" width="32.9" height="30.6" fill="#24bf3f"/><rect x="636.4" y="696.2" width="32.9" height="30.6" fill="#35c35f"/><rect x="668.8" y="696.2" width="32.9" height="30.6" fill="#5ac3b3"/><rect x="701.2" y="696.2" width="32.9" height="30.6" fill="#5badc4"/><rect x="733.6" y="696.2" width="32.9" height="30.6" fill="#4d77ad"/><rect x="766.0" y="696.2" width="32.9" height="30.6" fill="#4b6ca8"/><rect x="798.4" y="696.2" width="32.9" height="30.6" fill="#4a6ca8"/><rect x="830.8" y="696.2" width="32.9" height="30.6" fill="#7c9ac3"/><rect x="863.2" y="696.2" width="32.9" height="30.6" fill="#e1e8f1"/><rect x="895.6" y="696.2" width="32.9" height="30.6" fill="#97a8cd"/><rect x="928.0" y="696.2" width="32.9" height="30.6" fill="#b8c3dd"/><rect x="960.4" y="696.2" width="32.9" height="30.6" fill="#fefefe"/><rect x="85.6" y="726.3" width="32.9" height="30.6" fill="#5bb1c5"/><rect x="118.0" y="726.3" width="32.9" height="30.6" fill="#4fce9f"/><rect x="150.4" y="726.3" width="32.9" height="30.6" fill="#2ccb51"/><rect x="182.8" y="726.3" width="32.9" height="30.6" fill="#18b827"/><rect x="215.2" y="726.3" width="32.9" height="30.6" fill="#15b323"/><rect x="247.6" y="726.3" width="32.9" height="30.6" fill="#0e9818"/><rect x="280.0" y="726.3" width="32.9" height="30.6" fill="#0c8414"/><rect x="312.4" y="726.3" width="32.9" height="30.6" fill="#0d8415"/><rect x="344.8" y="726.3" width="32.9" height="30.6" fill="#0c8414"/><rect x="377.2" y="726.3" width="32.9" height="30.6" fill="#0e9317"/><rect x="409.6" y="726.3" width="32.9" height="30.6" fill="#0e9718"/><rect x="442.0" y="726.3" width="32.9" height="30.6" fill="#0f9318"/><rect x="474.4" y="726.3" width="32.9" height="30.6" fill="#16921f"/><rect x="506.8" y="726.3" width="32.9" height="30.6" fill="#109119"/><rect x="539.2" y="726.3" width="32.9" height="30.6" fill="#11ae1b"/><rect x="571.6" y="726.3" width="32.9" height="30.6" fill="#28c647"/><rect x="604.0" y="726.3" width="32.9" height="30.6" fill="#5aceb6"/><rect x="636.4" y="726.3" width="32.9" height="30.6" fill="#5ea6c5"/><rect x="668.8" y="726.3" width="32.9" height="30.6" fill="#526ca4"/><rect x="701.2" y="726.3" width="32.9" height="30.6" fill="#4d6ca4"/><rect x="733.6" y="726.3" width="32.9" height="30.6" fill="#5c7bb0"/><rect x="766.0" y="726.3" width="32.9" height="30.6" fill="#4d6ba7"/><rect x="798.4" y="726.3" width="32.9" height="30.6" fill="#5a80b4"/><rect x="830.8" y="726.3" width="32.9" height="30.6" fill="#5ba0c6"/><rect x="863.2" y="726.3" width="32.9" height="30.6" fill="#8ea8cc"/><rect x="895.6" y="726.3" width="32.9" height="30.6" fill="#afbdd9"/><rect x="928.0" y="726.3" width="32.9" height="30.6" fill="#dae0ed"/><rect x="960.4" y="726.3" width="32.9" height="30.6" fill="#ffffff"/><rect x="85.6" y="756.3" width="32.9" height="30.6" fill="#4b74ac"/><rect x="118.0" y="756.3" width="32.9" height="30.6" fill="#5aa9c3"/><rect x="150.4" y="756.3" width="32.9" height="30.6" fill="#5ac3bc"/><rect x="182.8" y="756.3" width="32.9" height="30.6" fill="#4ad28f"/><rect x="215.2" y="756.3" width="32.9" height="30.6" fill="#2cc74d"/><rect x="247.6" y="756.3" width="32.9" height="30.6" fill="#17b726"/><rect x="280.0" y="756.3" width="32.9" height="30.6" fill="#0f9c18"/><rect x="312.4" y="756.3" width="32.9" height="30.6" fill="#0f9618"/><rect x="344.8" y="756.3" width="32.9" height="30.6" fill="#0e9618"/><rect x="377.2" y="756.3" width="32.9" height="30.6" fill="#129d1c"/><rect x="409.6" y="756.3" width="32.9" height="30.6" fill="#16b020"/><rect x="442.0" y="756.3" width="32.9" height="30.6" fill="#19af24"/><rect x="474.4" y="756.3" width="32.9" height="30.6" fill="#178f20"/><rect x="506.8" y="756.3" width="32.9" height="30.6" fill="#159c1e"/><rect x="539.2" y="756.3" width="32.9" height="30.6" fill="#1bb32a"/><rect x="571.6" y="756.3" width="32.9" height="30.6" fill="#20be38"/><rect x="604.0" y="756.3" width="32.9" height="30.6" fill="#40ca74"/><rect x="636.4" y="756.3" width="32.9" height="30.6" fill="#5aa9c0"/><rect x="668.8" y="756.3" width="32.9" height="30.6" fill="#4c68a5"/><rect x="701.2" y="756.3" width="32.9" height="30.6" fill="#4a69a4"/><rect x="733.6" y="756.3" width="32.9" height="30.6" fill="#4c69a6"/><rect x="766.0" y="756.3" width="32.9" height="30.6" fill="#5f79b0"/><rect x="798.4" y="756.3" width="32.9" height="30.6" fill="#5caccb"/><rect x="830.8" y="756.3" width="32.9" height="30.6" fill="#62c3d0"/><rect x="863.2" y="756.3" width="32.9" height="30.6" fill="#5ca3ca"/><rect x="895.6" y="756.3" width="32.9" height="30.6" fill="#b7c2db"/><rect x="928.0" y="756.3" width="32.9" height="30.6" fill="#ffffff"/><rect x="960.4" y="756.3" width="32.9" height="30.6" fill="#ffffff"/><rect x="85.6" y="786.4" width="32.9" height="30.6" fill="#4e75ad"/><rect x="118.0" y="786.4" width="32.9" height="30.6" fill="#4e66a2"/><rect x="150.4" y="786.4" width="32.9" height="30.6" fill="#5079b0"/><rect x="182.8" y="786.4" width="32.9" height="30.6" fill="#5ba6c7"/><rect x="215.2" y="786.4" width="32.9" height="30.6" fill="#5bacc4"/><rect x="247.6" y="786.4" width="32.9" height="30.6" fill="#4ec79c"/><rect x="280.0" y="786.4" width="32.9" height="30.6" fill="#45c488"/><rect x="312.4" y="786.4" width="32.9" height="30.6" fill="#31c25e"/><rect x="344.8" y="786.4" width="32.9" height="30.6" fill="#43be86"/><rect x="377.2" y="786.4" width="32.9" height="30.6" fill="#57c3b0"/><rect x="409.6" y="786.4" width="32.9" height="30.6" fill="#53bfa8"/><rect x="442.0" y="786.4" width="32.9" height="30.6" fill="#58c8b5"/><rect x="474.4" y="786.4" width="32.9" height="30.6" fill="#5ac6ba"/><rect x="506.8" y="786.4" width="32.9" height="30.6" fill="#59c6ba"/><rect x="539.2" y="786.4" width="32.9" height="30.6" fill="#5baac2"/><rect x="571.6" y="786.4" width="32.9" height="30.6" fill="#5582b0"/><rect x="604.0" y="786.4" width="32.9" height="30.6" fill="#5480ae"/><rect x="636.4" y="786.4" width="32.9" height="30.6" fill="#5899c5"/><rect x="668.8" y="786.4" width="32.9" height="30.6" fill="#548dbd"/><rect x="701.2" y="786.4" width="32.9" height="30.6" fill="#4d69a3"/><rect x="733.6" y="786.4" width="32.9" height="30.6" fill="#6a7db1"/><rect x="766.0" y="786.4" width="32.9" height="30.6" fill="#dee4ef"/><rect x="798.4" y="786.4" width="32.9" height="30.6" fill="#a3cde2"/><rect x="830.8" y="786.4" width="32.9" height="30.6" fill="#72cbcf"/><rect x="863.2" y="786.4" width="32.9" height="30.6" fill="#61caca"/><rect x="895.6" y="786.4" width="32.9" height="30.6" fill="#6baacf"/><rect x="928.0" y="786.4" width="32.9" height="30.6" fill="#acbed9"/><rect x="960.4" y="786.4" width="32.9" height="30.6" fill="#f6f7fa"/><rect x="85.6" y="816.5" width="32.9" height="30.6" fill="#5aa2c6"/><rect x="118.0" y="816.5" width="32.9" height="30.6" fill="#4b6ba5"/><rect x="150.4" y="816.5" width="32.9" height="30.6" fill="#c1c7da"/><rect x="182.8" y="816.5" width="32.9" height="30.6" fill="#ced7e5"/><rect x="215.2" y="816.5" width="32.9" height="30.6" fill="#a8b9d4"/><rect x="247.6" y="816.5" width="32.9" height="30.6" fill="#c2d4e6"/><rect x="280.0" y="816.5" width="32.9" height="30.6" fill="#c8d8e8"/><rect x="312.4" y="816.5" width="32.9" height="30.6" fill="#ddedf1"/><rect x="344.8" y="816.5" width="32.9" height="30.6" fill="#c6d7e6"/><rect x="377.2" y="816.5" width="32.9" height="30.6" fill="#92abcd"/><rect x="409.6" y="816.5" width="32.9" height="30.6" fill="#728cb9"/><rect x="442.0" y="816.5" width="32.9" height="30.6" fill="#6080b1"/><rect x="474.4" y="816.5" width="32.9" height="30.6" fill="#5278ac"/><rect x="506.8" y="816.5" width="32.9" height="30.6" fill="#4a72a8"/><rect x="539.2" y="816.5" width="32.9" height="30.6" fill="#49649f"/><rect x="571.6" y="816.5" width="32.9" height="30.6" fill="#50669d"/><rect x="604.0" y="816.5" width="32.9" height="30.6" fill="#99a7c6"/><rect x="636.4" y="816.5" width="32.9" height="30.6" fill="#d5e0eb"/><rect x="668.8" y="816.5" width="32.9" height="30.6" fill="#edeef4"/><rect x="701.2" y="816.5" width="32.9" height="30.6" fill="#dbdee8"/><rect x="733.6" y="816.5" width="32.9" height="30.6" fill="#8f9bc3"/><rect x="766.0" y="816.5" width="32.9" height="30.6" fill="#4d62a0"/><rect x="798.4" y="816.5" width="32.9" height="30.6" fill="#4a6ea9"/><rect x="830.8" y="816.5" width="32.9" height="30.6" fill="#69b5d4"/><rect x="863.2" y="816.5" width="32.9" height="30.6" fill="#64c7d2"/><rect x="895.6" y="816.5" width="32.9" height="30.6" fill="#5ca4ca"/><rect x="928.0" y="816.5" width="32.9" height="30.6" fill="#4a6ca8"/><rect x="960.4" y="816.5" width="32.9" height="30.6" fill="#6277ad"/><rect x="85.6" y="846.5" width="32.9" height="30.6" fill="#55d0a9"/><rect x="118.0" y="846.5" width="32.9" height="30.6" fill="#7896c1"/><rect x="150.4" y="846.5" width="32.9" height="30.6" fill="#fdfdfe"/><rect x="182.8" y="846.5" width="32.9" height="30.6" fill="#fefefe"/><rect x="215.2" y="846.5" width="32.9" height="30.6" fill="#fefefe"/><rect x="247.6" y="846.5" width="32.9" height="30.6" fill="#ffffff"/><rect x="280.0" y="846.5" width="32.9" height="30.6" fill="#ffffff"/><rect x="312.4" y="846.5" width="32.9" height="30.6" fill="#fefefe"/><rect x="344.8" y="846.5" width="32.9" height="30.6" fill="#fefefe"/><rect x="377.2" y="846.5" width="32.9" height="30.6" fill="#fbfbfb"/><rect x="409.6" y="846.5" width="32.9" height="30.6" fill="#fbfbfb"/><rect x="442.0" y="846.5" width="32.9" height="30.6" fill="#f4f4f4"/><rect x="474.4" y="846.5" width="32.9" height="30.6" fill="#f8f9fb"/><rect x="506.8" y="846.5" width="32.9" height="30.6" fill="#c5cee2"/><rect x="539.2" y="846.5" width="32.9" height="30.6" fill="#7785b2"/><rect x="571.6" y="846.5" width="32.9" height="30.6" fill="#4f629f"/><rect x="604.0" y="846.5" width="32.9" height="30.6" fill="#6176ad"/><rect x="636.4" y="846.5" width="32.9" height="30.6" fill="#d4dae8"/><rect x="668.8" y="846.5" width="32.9" height="30.6" fill="#fafafa"/><rect x="701.2" y="846.5" width="32.9" height="30.6" fill="#f9f9f9"/><rect x="733.6" y="846.5" width="32.9" height="30.6" fill="#fbfbfb"/><rect x="766.0" y="846.5" width="32.9" height="30.6" fill="#dbdeeb"/><rect x="798.4" y="846.5" width="32.9" height="30.6" fill="#5473ab"/><rect x="830.8" y="846.5" width="32.9" height="30.6" fill="#5ca8cb"/><rect x="863.2" y="846.5" width="32.9" height="30.6" fill="#60cac6"/><rect x="895.6" y="846.5" width="32.9" height="30.6" fill="#61c2ce"/><rect x="928.0" y="846.5" width="32.9" height="30.6" fill="#4c72ac"/><rect x="960.4" y="846.5" width="32.9" height="30.6" fill="#4b71ac"/><rect x="85.6" y="876.6" width="32.9" height="30.6" fill="#68d2c4"/><rect x="118.0" y="876.6" width="32.9" height="30.6" fill="#d3deeb"/><rect x="150.4" y="876.6" width="32.9" height="30.6" fill="#ffffff"/><rect x="182.8" y="876.6" width="32.9" height="30.6" fill="#fefefe"/><rect x="215.2" y="876.6" width="32.9" height="30.6" fill="#fefefe"/><rect x="247.6" y="876.6" width="32.9" height="30.6" fill="#ffffff"/><rect x="280.0" y="876.6" width="32.9" height="30.6" fill="#ffffff"/><rect x="312.4" y="876.6" width="32.9" height="30.6" fill="#fefefe"/><rect x="344.8" y="876.6" width="32.9" height="30.6" fill="#fefefe"/><rect x="377.2" y="876.6" width="32.9" height="30.6" fill="#ffffff"/><rect x="409.6" y="876.6" width="32.9" height="30.6" fill="#ffffff"/><rect x="442.0" y="876.6" width="32.9" height="30.6" fill="#f9f9f9"/><rect x="474.4" y="876.6" width="32.9" height="30.6" fill="#f6f6f6"/><rect x="506.8" y="876.6" width="32.9" height="30.6" fill="#f5f5f5"/><rect x="539.2" y="876.6" width="32.9" height="30.6" fill="#fdfdfd"/><rect x="571.6" y="876.6" width="32.9" height="30.6" fill="#d0d6e6"/><rect x="604.0" y="876.6" width="32.9" height="30.6" fill="#798cba"/><rect x="636.4" y="876.6" width="32.9" height="30.6" fill="#8a97c0"/><rect x="668.8" y="876.6" width="32.9" height="30.6" fill="#fcfcfc"/><rect x="701.2" y="876.6" width="32.9" height="30.6" fill="#f6f6f6"/><rect x="733.6" y="876.6" width="32.9" height="30.6" fill="#fcfcfc"/><rect x="766.0" y="876.6" width="32.9" height="30.6" fill="#f7f7f7"/><rect x="798.4" y="876.6" width="32.9" height="30.6" fill="#8aa0c5"/><rect x="830.8" y="876.6" width="32.9" height="30.6" fill="#589bc4"/><rect x="863.2" y="876.6" width="32.9" height="30.6" fill="#63c6d2"/><rect x="895.6" y="876.6" width="32.9" height="30.6" fill="#63c9d1"/><rect x="928.0" y="876.6" width="32.9" height="30.6" fill="#60b5d1"/><rect x="960.4" y="876.6" width="32.9" height="30.6" fill="#5daacb"/><rect x="85.6" y="906.6" width="32.9" height="30.6" fill="#64adcc"/><rect x="118.0" y="906.6" width="32.9" height="30.6" fill="#f8fafc"/><rect x="150.4" y="906.6" width="32.9" height="30.6" fill="#ffffff"/><rect x="182.8" y="906.6" width="32.9" height="30.6" fill="#fefefe"/><rect x="215.2" y="906.6" width="32.9" height="30.6" fill="#fefefe"/><rect x="247.6" y="906.6" width="32.9" height="30.6" fill="#ffffff"/><rect x="280.0" y="906.6" width="32.9" height="30.6" fill="#ffffff"/><rect x="312.4" y="906.6" width="32.9" height="30.6" fill="#fefefe"/><rect x="344.8" y="906.6" width="32.9" height="30.6" fill="#fefefe"/><rect x="377.2" y="906.6" width="32.9" height="30.6" fill="#ffffff"/><rect x="409.6" y="906.6" width="32.9" height="30.6" fill="#ffffff"/><rect x="442.0" y="906.6" width="32.9" height="30.6" fill="#fefefe"/><rect x="474.4" y="906.6" width="32.9" height="30.6" fill="#fefefe"/><rect x="506.8" y="906.6" width="32.9" height="30.6" fill="#ffffff"/><rect x="539.2" y="906.6" width="32.9" height="30.6" fill="#ffffff"/><rect x="571.6" y="906.6" width="32.9" height="30.6" fill="#fefefe"/><rect x="604.0" y="906.6" width="32.9" height="30.6" fill="#fefefe"/><rect x="636.4" y="906.6" width="32.9" height="30.6" fill="#ffffff"/><rect x="668.8" y="906.6" width="32.9" height="30.6" fill="#ffffff"/><rect x="701.2" y="906.6" width="32.9" height="30.6" fill="#fefefe"/><rect x="733.6" y="906.6" width="32.9" height="30.6" fill="#fefefe"/><rect x="766.0" y="906.6" width="32.9" height="30.6" fill="#ffffff"/><rect x="798.4" y="906.6" width="32.9" height="30.6" fill="#dde2ea"/><rect x="830.8" y="906.6" width="32.9" height="30.6" fill="#5679b0"/><rect x="863.2" y="906.6" width="32.9" height="30.6" fill="#5a9cc6"/><rect x="895.6" y="906.6" width="32.9" height="30.6" fill="#61b9d3"/><rect x="928.0" y="906.6" width="32.9" height="30.6" fill="#3dce72"/><rect x="960.4" y="906.6" width="32.9" height="30.6" fill="#2ecb55"/><rect x="85.6" y="936.7" width="32.9" height="30.6" fill="#f3f5f9"/><rect x="118.0" y="936.7" width="32.9" height="30.6" fill="#ffffff"/><rect x="150.4" y="936.7" width="32.9" height="30.6" fill="#ffffff"/><rect x="182.8" y="936.7" width="32.9" height="30.6" fill="#fefefe"/><rect x="215.2" y="936.7" width="32.9" height="30.6" fill="#fdfefe"/><rect x="247.6" y="936.7" width="32.9" height="30.6" fill="#f6f7fa"/><rect x="280.0" y="936.7" width="32.9" height="30.6" fill="#ffffff"/><rect x="312.4" y="936.7" width="32.9" height="30.6" fill="#fefefe"/><rect x="344.8" y="936.7" width="32.9" height="30.6" fill="#fefefe"/><rect x="377.2" y="936.7" width="32.9" height="30.6" fill="#ffffff"/><rect x="409.6" y="936.7" width="32.9" height="30.6" fill="#ffffff"/><rect x="442.0" y="936.7" width="32.9" height="30.6" fill="#fefefe"/><rect x="474.4" y="936.7" width="32.9" height="30.6" fill="#fefefe"/><rect x="506.8" y="936.7" width="32.9" height="30.6" fill="#ffffff"/><rect x="539.2" y="936.7" width="32.9" height="30.6" fill="#ffffff"/><rect x="571.6" y="936.7" width="32.9" height="30.6" fill="#fefefe"/><rect x="604.0" y="936.7" width="32.9" height="30.6" fill="#fefefe"/><rect x="636.4" y="936.7" width="32.9" height="30.6" fill="#ffffff"/><rect x="668.8" y="936.7" width="32.9" height="30.6" fill="#ffffff"/><rect x="701.2" y="936.7" width="32.9" height="30.6" fill="#f0f2f7"/><rect x="733.6" y="936.7" width="32.9" height="30.6" fill="#bbc5dd"/><rect x="766.0" y="936.7" width="32.9" height="30.6" fill="#ffffff"/><rect x="798.4" y="936.7" width="32.9" height="30.6" fill="#fcfcfc"/><rect x="830.8" y="936.7" width="32.9" height="30.6" fill="#a9b2ce"/><rect x="863.2" y="936.7" width="32.9" height="30.6" fill="#5065a1"/><rect x="895.6" y="936.7" width="32.9" height="30.6" fill="#5082b6"/><rect x="928.0" y="936.7" width="32.9" height="30.6" fill="#34c662"/><rect x="960.4" y="936.7" width="32.9" height="30.6" fill="#15ba23"/><rect x="85.6" y="966.8" width="32.9" height="30.6" fill="#fefefe"/><rect x="118.0" y="966.8" width="32.9" height="30.6" fill="#fefefe"/><rect x="150.4" y="966.8" width="32.9" height="30.6" fill="#fefefe"/><rect x="182.8" y="966.8" width="32.9" height="30.6" fill="#fefefe"/><rect x="215.2" y="966.8" width="32.9" height="30.6" fill="#f8f9fb"/><rect x="247.6" y="966.8" width="32.9" height="30.6" fill="#c9d0e4"/><rect x="280.0" y="966.8" width="32.9" height="30.6" fill="#fefefe"/><rect x="312.4" y="966.8" width="32.9" height="30.6" fill="#fdfdfd"/><rect x="344.8" y="966.8" width="32.9" height="30.6" fill="#fefefe"/><rect x="377.2" y="966.8" width="32.9" height="30.6" fill="#fefefe"/><rect x="409.6" y="966.8" width="32.9" height="30.6" fill="#fefefe"/><rect x="442.0" y="966.8" width="32.9" height="30.6" fill="#fefefe"/><rect x="474.4" y="966.8" width="32.9" height="30.6" fill="#fdfdfd"/><rect x="506.8" y="966.8" width="32.9" height="30.6" fill="#fefefe"/><rect x="539.2" y="966.8" width="32.9" height="30.6" fill="#fefefe"/><rect x="571.6" y="966.8" width="32.9" height="30.6" fill="#fefefe"/><rect x="604.0" y="966.8" width="32.9" height="30.6" fill="#fefefe"/><rect x="636.4" y="966.8" width="32.9" height="30.6" fill="#fefefe"/><rect x="668.8" y="966.8" width="32.9" height="30.6" fill="#fefefe"/><rect x="701.2" y="966.8" width="32.9" height="30.6" fill="#f7f8fa"/><rect x="733.6" y="966.8" width="32.9" height="30.6" fill="#dfe3ef"/><rect x="766.0" y="966.8" width="32.9" height="30.6" fill="#fcfcfd"/><rect x="798.4" y="966.8" width="32.9" height="30.6" fill="#cad1e4"/><rect x="830.8" y="966.8" width="32.9" height="30.6" fill="#e2e5ed"/><rect x="863.2" y="966.8" width="32.9" height="30.6" fill="#dce0ec"/><rect x="895.6" y="966.8" width="32.9" height="30.6" fill="#aec0da"/><rect x="928.0" y="966.8" width="32.9" height="30.6" fill="#85ccd7"/><rect x="960.4" y="966.8" width="32.9" height="30.6" fill="#3acf69"/><rect x="85.6" y="996.8" width="32.9" height="30.6" fill="#ffffff"/><rect x="118.0" y="996.8" width="32.9" height="30.6" fill="#ffffff"/><rect x="150.4" y="996.8" width="32.9" height="30.6" fill="#ffffff"/><rect x="182.8" y="996.8" width="32.9" height="30.6" fill="#fefefe"/><rect x="215.2" y="996.8" width="32.9" height="30.6" fill="#fefefe"/><rect x="247.6" y="996.8" width="32.9" height="30.6" fill="#ffffff"/><rect x="280.0" y="996.8" width="32.9" height="30.6" fill="#ffffff"/><rect x="312.4" y="996.8" width="32.9" height="30.6" fill="#fefefe"/><rect x="344.8" y="996.8" width="32.9" height="30.6" fill="#fefefe"/><rect x="377.2" y="996.8" width="32.9" height="30.6" fill="#ffffff"/><rect x="409.6" y="996.8" width="32.9" height="30.6" fill="#ffffff"/><rect x="442.0" y="996.8" width="32.9" height="30.6" fill="#fefefe"/><rect x="474.4" y="996.8" width="32.9" height="30.6" fill="#fefefe"/><rect x="506.8" y="996.8" width="32.9" height="30.6" fill="#ffffff"/><rect x="539.2" y="996.8" width="32.9" height="30.6" fill="#ffffff"/><rect x="571.6" y="996.8" width="32.9" height="30.6" fill="#fefefe"/><rect x="604.0" y="996.8" width="32.9" height="30.6" fill="#fefefe"/><rect x="636.4" y="996.8" width="32.9" height="30.6" fill="#ffffff"/><rect x="668.8" y="996.8" width="32.9" height="30.6" fill="#ffffff"/><rect x="701.2" y="996.8" width="32.9" height="30.6" fill="#fefefe"/><rect x="733.6" y="996.8" width="32.9" height="30.6" fill="#fefefe"/><rect x="766.0" y="996.8" width="32.9" height="30.6" fill="#fafbfc"/><rect x="798.4" y="996.8" width="32.9" height="30.6" fill="#e7eaf3"/><rect x="830.8" y="996.8" width="32.9" height="30.6" fill="#dde1eb"/><rect x="863.2" y="996.8" width="32.9" height="30.6" fill="#fefefe"/><rect x="895.6" y="996.8" width="32.9" height="30.6" fill="#fdfdfe"/><rect x="928.0" y="996.8" width="32.9" height="30.6" fill="#9db0d1"/><rect x="960.4" y="996.8" width="32.9" height="30.6" fill="#5fb0d1"/><rect x="85.6" y="1026.9" width="32.9" height="30.6" fill="#ffffff"/><rect x="118.0" y="1026.9" width="32.9" height="30.6" fill="#ffffff"/><rect x="150.4" y="1026.9" width="32.9" height="30.6" fill="#ffffff"/><rect x="182.8" y="1026.9" width="32.9" height="30.6" fill="#fefefe"/><rect x="215.2" y="1026.9" width="32.9" height="30.6" fill="#fefefe"/><rect x="247.6" y="1026.9" width="32.9" height="30.6" fill="#ffffff"/><rect x="280.0" y="1026.9" width="32.9" height="30.6" fill="#ffffff"/><rect x="312.4" y="1026.9" width="32.9" height="30.6" fill="#fefefe"/><rect x="344.8" y="1026.9" width="32.9" height="30.6" fill="#fefefe"/><rect x="377.2" y="1026.9" width="32.9" height="30.6" fill="#ffffff"/><rect x="409.6" y="1026.9" width="32.9" height="30.6" fill="#ffffff"/><rect x="442.0" y="1026.9" width="32.9" height="30.6" fill="#fefefe"/><rect x="474.4" y="1026.9" width="32.9" height="30.6" fill="#fefefe"/><rect x="506.8" y="1026.9" width="32.9" height="30.6" fill="#ffffff"/><rect x="539.2" y="1026.9" width="32.9" height="30.6" fill="#ffffff"/><rect x="571.6" y="1026.9" width="32.9" height="30.6" fill="#fefefe"/><rect x="604.0" y="1026.9" width="32.9" height="30.6" fill="#fefefe"/><rect x="636.4" y="1026.9" width="32.9" height="30.6" fill="#ffffff"/><rect x="668.8" y="1026.9" width="32.9" height="30.6" fill="#ffffff"/><rect x="701.2" y="1026.9" width="32.9" height="30.6" fill="#fefefe"/><rect x="733.6" y="1026.9" width="32.9" height="30.6" fill="#fefefe"/><rect x="766.0" y="1026.9" width="32.9" height="30.6" fill="#ffffff"/><rect x="798.4" y="1026.9" width="32.9" height="30.6" fill="#ffffff"/><rect x="830.8" y="1026.9" width="32.9" height="30.6" fill="#fefefe"/><rect x="863.2" y="1026.9" width="32.9" height="30.6" fill="#f9f9f9"/><rect x="895.6" y="1026.9" width="32.9" height="30.6" fill="#f9fafc"/><rect x="928.0" y="1026.9" width="32.9" height="30.6" fill="#4b6faa"/><rect x="960.4" y="1026.9" width="32.9" height="30.6" fill="#5da7cd"/></g>
<g clip-path="url(#sc0)"><g transform="rotate(5.00 828.8 236.9)"><g filter="url(#f0_0)"><use href="#cells" transform="rotate(-5.00 828.8 236.9)"/></g><g filter="url(#f0_1)"><use href="#cells" transform="rotate(-5.00 828.8 236.9)"/></g><g filter="url(#f0_2)"><use href="#cells" transform="rotate(-5.00 828.8 236.9)"/></g></g></g>
<g clip-path="url(#sc1)"><g transform="rotate(15.00 828.8 236.9)"><g filter="url(#f1_0)"><use href="#cells" transform="rotate(-15.00 828.8 236.9)"/></g><g filter="url(#f1_1)"><use href="#cells" transform="rotate(-15.00 828.8 236.9)"/></g><g filter="url(#f1_2)"><use href="#cells" transform="rotate(-15.00 828.8 236.9)"/></g></g></g>
<g clip-path="url(#sc2)"><g transform="rotate(25.00 828.8 236.9)"><g filter="url(#f2_0)"><use href="#cells" transform="rotate(-25.00 828.8 236.9)"/></g><g filter="url(#f2_1)"><use href="#cells" transform="rotate(-25.00 828.8 236.9)"/></g><g filter="url(#f2_2)"><use href="#cells" transform="rotate(-25.00 828.8 236.9)"/></g></g></g>
<g clip-path="url(#sc3)"><g transform="rotate(35.00 828.8 236.9)"><g filter="url(#f3_0)"><use href="#cells" transform="rotate(-35.00 828.8 236.9)"/></g><g filter="url(#f3_1)"><use href="#cells" transform="rotate(-35.00 828.8 236.9)"/></g><g filter="url(#f3_2)"><use href="#cells" transform="rotate(-35.00 828.8 236.9)"/></g></g></g>
<g clip-path="url(#sc4)"><g transform="rotate(45.00 828.8 236.9)"><g filter="url(#f4_0)"><use href="#cells" transform="rotate(-45.00 828.8 236.9)"/></g><g filter="url(#f4_1)"><use href="#cells" transform="rotate(-45.00 828.8 236.9)"/></g><g filter="url(#f4_2)"><use href="#cells" transform="rotate(-45.00 828.8 236.9)"/></g></g></g>
<g clip-path="url(#sc5)"><g transform="rotate(55.00 828.8 236.9)"><g filter="url(#f5_0)"><use href="#cells" transform="rotate(-55.00 828.8 236.9)"/></g><g filter="url(#f5_1)"><use href="#cells" transform="rotate(-55.00 828.8 236.9)"/></g><g filter="url(#f5_2)"><use href="#cells" transform="rotate(-55.00 828.8 236.9)"/></g></g></g>
<g clip-path="url(#sc6)"><g transform="rotate(65.00 828.8 236.9)"><g filter="url(#f0_0)"><use href="#cells" transform="rotate(-65.00 828.8 236.9)"/></g><g filter="url(#f0_1)"><use href="#cells" transform="rotate(-65.00 828.8 236.9)"/></g><g filter="url(#f0_2)"><use href="#cells" transform="rotate(-65.00 828.8 236.9)"/></g></g></g>
<g clip-path="url(#sc7)"><g transform="rotate(75.00 828.8 236.9)"><g filter="url(#f1_0)"><use href="#cells" transform="rotate(-75.00 828.8 236.9)"/></g><g filter="url(#f1_1)"><use href="#cells" transform="rotate(-75.00 828.8 236.9)"/></g><g filter="url(#f1_2)"><use href="#cells" transform="rotate(-75.00 828.8 236.9)"/></g></g></g>
<g clip-path="url(#sc8)"><g transform="rotate(85.00 828.8 236.9)"><g filter="url(#f2_0)"><use href="#cells" transform="rotate(-85.00 828.8 236.9)"/></g><g filter="url(#f2_1)"><use href="#cells" transform="rotate(-85.00 828.8 236.9)"/></g><g filter="url(#f2_2)"><use href="#cells" transform="rotate(-85.00 828.8 236.9)"/></g></g></g>
<g clip-path="url(#sc9)"><g transform="rotate(95.00 828.8 236.9)"><g filter="url(#f3_0)"><use href="#cells" transform="rotate(-95.00 828.8 236.9)"/></g><g filter="url(#f3_1)"><use href="#cells" transform="rotate(-95.00 828.8 236.9)"/></g><g filter="url(#f3_2)"><use href="#cells" transform="rotate(-95.00 828.8 236.9)"/></g></g></g>
<g clip-path="url(#sc10)"><g transform="rotate(105.00 828.8 236.9)"><g filter="url(#f4_0)"><use href="#cells" transform="rotate(-105.00 828.8 236.9)"/></g><g filter="url(#f4_1)"><use href="#cells" transform="rotate(-105.00 828.8 236.9)"/></g><g filter="url(#f4_2)"><use href="#cells" transform="rotate(-105.00 828.8 236.9)"/></g></g></g>
<g clip-path="url(#sc11)"><g transform="rotate(115.00 828.8 236.9)"><g filter="url(#f5_0)"><use href="#cells" transform="rotate(-115.00 828.8 236.9)"/></g><g filter="url(#f5_1)"><use href="#cells" transform="rotate(-115.00 828.8 236.9)"/></g><g filter="url(#f5_2)"><use href="#cells" transform="rotate(-115.00 828.8 236.9)"/></g></g></g>
<g clip-path="url(#sc12)"><g transform="rotate(125.00 828.8 236.9)"><g filter="url(#f0_0)"><use href="#cells" transform="rotate(-125.00 828.8 236.9)"/></g><g filter="url(#f0_1)"><use href="#cells" transform="rotate(-125.00 828.8 236.9)"/></g><g filter="url(#f0_2)"><use href="#cells" transform="rotate(-125.00 828.8 236.9)"/></g></g></g>
<g clip-path="url(#sc13)"><g transform="rotate(135.00 828.8 236.9)"><g filter="url(#f1_0)"><use href="#cells" transform="rotate(-135.00 828.8 236.9)"/></g><g filter="url(#f1_1)"><use href="#cells" transform="rotate(-135.00 828.8 236.9)"/></g><g filter="url(#f1_2)"><use href="#cells" transform="rotate(-135.00 828.8 236.9)"/></g></g></g>
<g clip-path="url(#sc14)"><g transform="rotate(145.00 828.8 236.9)"><g filter="url(#f2_0)"><use href="#cells" transform="rotate(-145.00 828.8 236.9)"/></g><g filter="url(#f2_1)"><use href="#cells" transform="rotate(-145.00 828.8 236.9)"/></g><g filter="url(#f2_2)"><use href="#cells" transform="rotate(-145.00 828.8 236.9)"/></g></g></g>
<g clip-path="url(#sc15)"><g transform="rotate(155.00 828.8 236.9)"><g filter="url(#f3_0)"><use href="#cells" transform="rotate(-155.00 828.8 236.9)"/></g><g filter="url(#f3_1)"><use href="#cells" transform="rotate(-155.00 828.8 236.9)"/></g><g filter="url(#f3_2)"><use href="#cells" transform="rotate(-155.00 828.8 236.9)"/></g></g></g>
<g clip-path="url(#sc16)"><g transform="rotate(165.00 828.8 236.9)"><g filter="url(#f4_0)"><use href="#cells" transform="rotate(-165.00 828.8 236.9)"/></g><g filter="url(#f4_1)"><use href="#cells" transform="rotate(-165.00 828.8 236.9)"/></g><g filter="url(#f4_2)"><use href="#cells" transform="rotate(-165.00 828.8 236.9)"/></g></g></g>
<g clip-path="url(#sc17)"><g transform="rotate(175.00 828.8 236.9)"><g filter="url(#f5_0)"><use href="#cells" transform="rotate(-175.00 828.8 236.9)"/></g><g filter="url(#f5_1)"><use href="#cells" transform="rotate(-175.00 828.8 236.9)"/></g><g filter="url(#f5_2)"><use href="#cells" transform="rotate(-175.00 828.8 236.9)"/></g></g></g>
<g clip-path="url(#sc18)"><g transform="rotate(185.00 828.8 236.9)"><g filter="url(#f0_0)"><use href="#cells" transform="rotate(-185.00 828.8 236.9)"/></g><g filter="url(#f0_1)"><use href="#cells" transform="rotate(-185.00 828.8 236.9)"/></g><g filter="url(#f0_2)"><use href="#cells" transform="rotate(-185.00 828.8 236.9)"/></g></g></g>
<g clip-path="url(#sc19)"><g transform="rotate(195.00 828.8 236.9)"><g filter="url(#f1_0)"><use href="#cells" transform="rotate(-195.00 828.8 236.9)"/></g><g filter="url(#f1_1)"><use href="#cells" transform="rotate(-195.00 828.8 236.9)"/></g><g filter="url(#f1_2)"><use href="#cells" transform="rotate(-195.00 828.8 236.9)"/></g></g></g>
<g clip-path="url(#sc20)"><g transform="rotate(205.00 828.8 236.9)"><g filter="url(#f2_0)"><use href="#cells" transform="rotate(-205.00 828.8 236.9)"/></g><g filter="url(#f2_1)"><use href="#cells" transform="rotate(-205.00 828.8 236.9)"/></g><g filter="url(#f2_2)"><use href="#cells" transform="rotate(-205.00 828.8 236.9)"/></g></g></g>
<g clip-path="url(#sc21)"><g transform="rotate(215.00 828.8 236.9)"><g filter="url(#f3_0)"><use href="#cells" transform="rotate(-215.00 828.8 236.9)"/></g><g filter="url(#f3_1)"><use href="#cells" transform="rotate(-215.00 828.8 236.9)"/></g><g filter="url(#f3_2)"><use href="#cells" transform="rotate(-215.00 828.8 236.9)"/></g></g></g>
<g clip-path="url(#sc22)"><g transform="rotate(225.00 828.8 236.9)"><g filter="url(#f4_0)"><use href="#cells" transform="rotate(-225.00 828.8 236.9)"/></g><g filter="url(#f4_1)"><use href="#cells" transform="rotate(-225.00 828.8 236.9)"/></g><g filter="url(#f4_2)"><use href="#cells" transform="rotate(-225.00 828.8 236.9)"/></g></g></g>
<g clip-path="url(#sc23)"><g transform="rotate(235.00 828.8 236.9)"><g filter="url(#f5_0)"><use href="#cells" transform="rotate(-235.00 828.8 236.9)"/></g><g filter="url(#f5_1)"><use href="#cells" transform="rotate(-235.00 828.8 236.9)"/></g><g filter="url(#f5_2)"><use href="#cells" transform="rotate(-235.00 828.8 236.9)"/></g></g></g>
<g clip-path="url(#sc24)"><g transform="rotate(245.00 828.8 236.9)"><g filter="url(#f0_0)"><use href="#cells" transform="rotate(-245.00 828.8 236.9)"/></g><g filter="url(#f0_1)"><use href="#cells" transform="rotate(-245.00 828.8 236.9)"/></g><g filter="url(#f0_2)"><use href="#cells" transform="rotate(-245.00 828.8 236.9)"/></g></g></g>
<g clip-path="url(#sc25)"><g transform="rotate(255.00 828.8 236.9)"><g filter="url(#f1_0)"><use href="#cells" transform="rotate(-255.00 828.8 236.9)"/></g><g filter="url(#f1_1)"><use href="#cells" transform="rotate(-255.00 828.8 236.9)"/></g><g filter="url(#f1_2)"><use href="#cells" transform="rotate(-255.00 828.8 236.9)"/></g></g></g>
<g clip-path="url(#sc26)"><g transform="rotate(265.00 828.8 236.9)"><g filter="url(#f2_0)"><use href="#cells" transform="rotate(-265.00 828.8 236.9)"/></g><g filter="url(#f2_1)"><use href="#cells" transform="rotate(-265.00 828.8 236.9)"/></g><g filter="url(#f2_2)"><use href="#cells" transform="rotate(-265.00 828.8 236.9)"/></g></g></g>
<g clip-path="url(#sc27)"><g transform="rotate(275.00 828.8 236.9)"><g filter="url(#f3_0)"><use href="#cells" transform="rotate(-275.00 828.8 236.9)"/></g><g filter="url(#f3_1)"><use href="#cells" transform="rotate(-275.00 828.8 236.9)"/></g><g filter="url(#f3_2)"><use href="#cells" transform="rotate(-275.00 828.8 236.9)"/></g></g></g>
<g clip-path="url(#sc28)"><g transform="rotate(285.00 828.8 236.9)"><g filter="url(#f4_0)"><use href="#cells" transform="rotate(-285.00 828.8 236.9)"/></g><g filter="url(#f4_1)"><use href="#cells" transform="rotate(-285.00 828.8 236.9)"/></g><g filter="url(#f4_2)"><use href="#cells" transform="rotate(-285.00 828.8 236.9)"/></g></g></g>
<g clip-path="url(#sc29)"><g transform="rotate(295.00 828.8 236.9)"><g filter="url(#f5_0)"><use href="#cells" transform="rotate(-295.00 828.8 236.9)"/></g><g filter="url(#f5_1)"><use href="#cells" transform="rotate(-295.00 828.8 236.9)"/></g><g filter="url(#f5_2)"><use href="#cells" transform="rotate(-295.00 828.8 236.9)"/></g></g></g>
<g clip-path="url(#sc30)"><g transform="rotate(305.00 828.8 236.9)"><g filter="url(#f0_0)"><use href="#cells" transform="rotate(-305.00 828.8 236.9)"/></g><g filter="url(#f0_1)"><use href="#cells" transform="rotate(-305.00 828.8 236.9)"/></g><g filter="url(#f0_2)"><use href="#cells" transform="rotate(-305.00 828.8 236.9)"/></g></g></g>
<g clip-path="url(#sc31)"><g transform="rotate(315.00 828.8 236.9)"><g filter="url(#f1_0)"><use href="#cells" transform="rotate(-315.00 828.8 236.9)"/></g><g filter="url(#f1_1)"><use href="#cells" transform="rotate(-315.00 828.8 236.9)"/></g><g filter="url(#f1_2)"><use href="#cells" transform="rotate(-315.00 828.8 236.9)"/></g></g></g>
<g clip-path="url(#sc32)"><g transform="rotate(325.00 828.8 236.9)"><g filter="url(#f2_0)"><use href="#cells" transform="rotate(-325.00 828.8 236.9)"/></g><g filter="url(#f2_1)"><use href="#cells" transform="rotate(-325.00 828.8 236.9)"/></g><g filter="url(#f2_2)"><use href="#cells" transform="rotate(-325.00 828.8 236.9)"/></g></g></g>
<g clip-path="url(#sc33)"><g transform="rotate(335.00 828.8 236.9)"><g filter="url(#f3_0)"><use href="#cells" transform="rotate(-335.00 828.8 236.9)"/></g><g filter="url(#f3_1)"><use href="#cells" transform="rotate(-335.00 828.8 236.9)"/></g><g filter="url(#f3_2)"><use href="#cells" transform="rotate(-335.00 828.8 236.9)"/></g></g></g>
<g clip-path="url(#sc34)"><g transform="rotate(345.00 828.8 236.9)"><g filter="url(#f4_0)"><use href="#cells" transform="rotate(-345.00 828.8 236.9)"/></g><g filter="url(#f4_1)"><use href="#cells" transform="rotate(-345.00 828.8 236.9)"/></g><g filter="url(#f4_2)"><use href="#cells" transform="rotate(-345.00 828.8 236.9)"/></g></g></g>
<g clip-path="url(#sc35)"><g transform="rotate(355.00 828.8 236.9)"><g filter="url(#f5_0)"><use href="#cells" transform="rotate(-355.00 828.8 236.9)"/></g><g filter="url(#f5_1)"><use href="#cells" transform="rotate(-355.00 828.8 236.9)"/></g><g filter="url(#f5_2)"><use href="#cells" transform="rotate(-355.00 828.8 236.9)"/></g></g></g>
<path d="M85.0 1046.0 L85.0 939.6 L96.4 935.0 L107.8 944.0 L123.8 928.0 L112.4 916.8 L121.5 905.4 L110.0 896.3 L119.2 887.2 L132.9 896.3 L137.5 891.7 L128.3 878.0 L151.1 855.3 L142.0 846.0 L160.3 848.4 L148.9 834.7 L160.3 827.9 L176.2 814.2 L185.3 818.8 L199.0 825.6 L212.7 832.5 L231.0 839.3 L221.8 825.6 L244.6 837.0 L233.2 821.0 L251.5 825.6 L260.6 832.5 L274.3 821.0 L283.4 827.9 L294.8 821.0 L301.6 830.2 L313.0 821.0 L322.2 823.3 L331.3 818.8 L338.1 825.6 L347.3 821.0 L356.0 828.0 L367.3 825.3 L378.4 831.0 L400.7 835.0 L428.5 840.6 L456.4 843.4 L484.2 844.8 L520.0 855.0 L556.6 870.0 L578.9 880.0 L605.0 893.5 L637.6 905.7 L664.0 901.6 L664.0 896.6 L657.8 889.5 L657.8 879.3 L647.7 869.2 L647.7 865.0 L629.5 857.0 L627.4 853.0 L613.2 845.0 L613.2 824.6 L625.4 825.6 L649.7 829.7 L651.8 816.5 L682.0 818.5 L702.4 821.6 L722.7 823.6 L741.0 827.6 L756.0 839.6 L772.6 852.8 L785.9 856.0 L792.5 872.8 L805.8 876.0 L809.0 889.0 L819.0 916.0 L830.0 925.0 L839.0 933.0 L845.0 945.0 L852.0 960.0 L854.0 966.0 L866.0 966.0 L880.0 974.0 L920.0 982.0 L948.0 988.0 L950.0 1006.0 L962.0 1008.0 L952.0 1010.0 L926.0 1022.0 L928.0 1046.0 Z" fill="#fff"/>
<path d="M993.0 625.5 L974.3 626.7 L952.0 633.3 L930.0 637.8 L918.8 640.0 L907.7 641.0 L903.3 653.3 L898.8 657.8 L885.5 664.4 L881.0 666.6 L885.5 671.0 L876.6 675.5 L890.0 680.0 L903.3 682.2 L907.7 687.7 L914.4 688.8 L916.6 693.3 L896.6 697.7 L863.3 702.2 L854.4 706.6 L847.7 715.5 L850.0 722.0 L861.0 728.8 L867.7 733.3 L885.5 735.5 L907.7 737.7 L903.3 744.4 L907.7 755.5 L905.5 773.3 L914.4 782.2 L914.4 791.0 L930.0 795.5 L941.0 800.0 L952.0 806.6 L970.0 813.2 L974.3 822.0 L993.0 824.3 Z" fill="#fff"/>
<path d="M364.8 45.5 L365.9 53.0 L370.3 55.4 L372.5 64.0 L375.8 75.0 L379.0 59.8 L387.8 62.0 L392.2 70.7 L396.6 66.4 L405.4 62.0 L414.2 56.5 L425.0 53.2 L436.0 51.0 L453.7 53.2 L462.5 55.4 L471.3 48.8 L477.9 46.6 L483.4 48.8 L480.0 68.5 L484.5 62.0 L488.8 48.8 L497.6 47.7 L508.6 51.0 L519.6 46.6 L519.6 45.5 Z" fill="#fff"/>
<path d="M957.7 609.0 L975.0 600.0 L993.0 596.7 L993.0 613.0 L965.0 613.0 Z" fill="#fff"/>
<path d="M85.0 44.0 L316.0 44.0 L316.0 51.5 L94.5 51.5 L94.5 99.0 L85.0 99.0 Z" fill="#fff"/>
<path d="M890.0 724.4 L896.6 715.5 L907.7 708.8 L930.0 702.2 L943.2 695.5 L950.0 693.3 L951.0 697.7 L943.2 704.4 L938.8 708.8 L932.0 717.7 L943.2 720.0 L954.3 724.4 L958.8 728.8 L952.0 733.3 L923.0 733.3 L907.7 735.5 L898.8 733.3 Z" fill="#5470ae"/>
<path d="M242.3 970.0 L252.0 960.2 L263.7 970.0 L275.4 979.6 L269.5 987.4 L256.0 977.7 L248.2 975.8 Z" fill="#5068a8"/>
<path d="M727.0 956.0 L745.0 954.0 L766.0 958.0 L766.0 971.0 L745.0 973.0 L727.0 972.0 Z" fill="#5068a8"/>
<path d="M789.0 996.0 L802.5 994.6 L805.8 987.0 L829.0 985.6 L832.0 989.6 L839.0 988.0 L855.6 999.6 L855.6 1004.5 L832.0 1003.6 L819.0 1001.0 L789.0 999.6 Z" fill="#5068a8"/>
<path d="M919.0 660.0 L930.0 653.0 L940.0 651.0 L941.0 657.0 L932.0 660.0 L925.0 664.4 Z" fill="#5068a8"/>
<path d="M794.4 743.3 L811.0 743.3 L811.0 748.8 L794.4 748.8 Z" fill="#fff"/>
<path d="M772.2 782.2 L792.2 780.0 L796.6 791.0 L818.8 793.3 L834.4 797.7 L834.4 804.4 L807.7 806.6 L787.7 811.0 L763.3 813.2 L750.0 806.6 L763.3 795.5 Z" fill="#fff"/>
<path d="M720.9 60.1 L726.5 57.3 L734.8 54.5 L743.2 50.3 L751.5 48.9 L750.2 53.1 L740.4 58.7 L733.5 62.8 L729.3 67.9 L723.7 65.6 Z" fill="#fff"/>
<path d="M715.4 83.7 L720.9 76.8 L726.5 74.0 L725.1 79.5 L719.5 85.1 Z" fill="#fff"/>
<path d="M683.3 168.6 L687.5 157.5 L691.7 149.1 L695.9 154.7 L693.1 160.3 L687.5 171.4 Z" fill="#fff"/>
<path d="M622.1 185.3 L626.3 174.2 L633.2 165.8 L636.0 171.4 L636.0 182.5 L631.8 189.5 L624.9 190.9 Z" fill="#fff"/>
<path d="M661.1 263.3 L669.4 257.7 L670.8 249.4 L668.0 243.8 L673.6 246.6 L673.6 257.7 L669.4 266.1 L662.5 266.1 Z" fill="#fff"/>
<path d="M634.6 342.0 L640.2 337.8 L649.9 339.2 L651.3 343.4 L643.0 346.1 L636.0 346.1 Z" fill="#fff"/>
<path d="M670.8 424.1 L675.0 418.5 L682.0 417.1 L684.7 422.7 L680.6 429.7 L673.6 429.7 Z" fill="#fff"/>
<path d="M477.0 443.6 L482.0 447.0 L487.0 455.0 L494.0 470.0 L492.0 473.0 L485.0 462.0 L479.0 452.0 Z" fill="#fff"/>
<ellipse cx="709.0" cy="88.6" rx="2.0" ry="2.1" fill="#fff"/>
<ellipse cx="688.9" cy="114.2" rx="4.1" ry="4.2" fill="#fff"/>
<ellipse cx="807.2" cy="128.9" rx="4.2" ry="3.5" fill="#fff"/>
<ellipse cx="737.7" cy="204.8" rx="6.9" ry="4.2" fill="#fff"/>
<ellipse cx="736.2" cy="215.8" rx="4.2" ry="2.8" fill="#fff"/>
<ellipse cx="682.0" cy="219.5" rx="5.6" ry="3.5" fill="#fff"/>
<ellipse cx="674.2" cy="232.7" rx="4.8" ry="2.7" fill="#fff"/>
<ellipse cx="688.1" cy="270.2" rx="2.1" ry="4.2" fill="#fff"/>
<ellipse cx="757.0" cy="252.8" rx="3.0" ry="2.2" fill="#fff"/>
<ellipse cx="972.9" cy="105.3" rx="4.1" ry="4.9" fill="#fff"/>
<ellipse cx="659.5" cy="357.9" rx="5.5" ry="6.2" fill="#fff"/>
<ellipse cx="711.2" cy="385.0" rx="4.2" ry="4.0" fill="#fff"/>
<ellipse cx="833.8" cy="479.8" rx="4.2" ry="2.8" fill="#fff"/>
<ellipse cx="817.0" cy="505.5" rx="7.0" ry="6.5" fill="#fff"/>
<ellipse cx="840.5" cy="572.7" rx="5.5" ry="1.7" fill="#fff"/>
<ellipse cx="522.5" cy="241.1" rx="3.5" ry="8.4" fill="#fff"/>
<ellipse cx="336.1" cy="291.1" rx="2.2" ry="8.3" fill="#fff"/>
<ellipse cx="757.8" cy="745.5" rx="7.8" ry="2.2" fill="#fff"/>
<ellipse cx="761.0" cy="754.9" rx="4.4" ry="3.9" fill="#fff"/>
<ellipse cx="838.9" cy="815.0" rx="8.9" ry="5.0" fill="#fff"/>
<ellipse cx="867.5" cy="744.4" rx="4.5" ry="6.6" fill="#fff"/>
<ellipse cx="881.0" cy="689.4" rx="4.4" ry="1.6" fill="#fff"/>
<g stroke="#999" stroke-opacity="0.55" stroke-width="0.65" stroke-dasharray="2,1.7"><line x1="85.5" y1="95.0" x2="992.5" y2="95.0"/><line x1="85.5" y1="245.2" x2="992.5" y2="245.2"/><line x1="85.5" y1="395.5" x2="992.5" y2="395.5"/><line x1="85.5" y1="545.7" x2="992.5" y2="545.7"/><line x1="85.5" y1="696.0" x2="992.5" y2="696.0"/><line x1="85.5" y1="846.2" x2="992.5" y2="846.2"/><line x1="85.5" y1="996.5" x2="992.5" y2="996.5"/><line x1="215.2" y1="45.5" x2="215.2" y2="1045.5"/><line x1="344.8" y1="45.5" x2="344.8" y2="1045.5"/><line x1="474.4" y1="45.5" x2="474.4" y2="1045.5"/><line x1="604.0" y1="45.5" x2="604.0" y2="1045.5"/><line x1="733.6" y1="45.5" x2="733.6" y2="1045.5"/><line x1="863.2" y1="45.5" x2="863.2" y2="1045.5"/></g>
<g fill="none" stroke="#808080" stroke-width="1.7" stroke-linejoin="round">
<polyline points="371.4,354.7 389.0,350.3 401.0,347.3 415.7,344.3 418.7,332.5 421.6,317.7 433.5,314.8 448.2,311.8 457.0,317.7 460.0,326.6 471.9,335.5 483.7,339.9 492.6,344.3 504.4,342.9 510.3,347.3 507.4,359.1 495.5,368.0 492.6,379.8 501.4,397.5 498.5,412.3 495.5,424.2 489.6,436.0 483.7,441.9 469.0,465.5 466.0,477.4 460.0,489.2 457.0,501.0 454.2,518.7 457.0,527.6 471.9,524.6 489.6,521.7 506.2,516.3 528.0,521.8 539.0,534.5 560.7,523.6 593.4,525.4 600.7,540.0 626.0,554.5 633.4,565.4 648.0,565.4 651.5,550.9 644.3,540.0 640.6,525.4 648.0,503.6 667.0,504.0 680.0,498.0"/>
<polyline points="335.3,468.6 341.8,471.4 353.6,477.4 368.4,465.5 383.2,453.7 392.0,465.5 401.0,477.4 409.8,462.6 418.7,483.3 433.5,477.4 448.2,483.3 460.0,495.0 457.0,501.0"/>
<polyline points="501.4,397.5 507.4,391.6 522.0,376.8 534.0,362.0 548.7,365.0 563.5,373.9 575.4,373.9 578.3,391.6 587.0,394.6"/>
<polyline points="534.0,362.0 537.0,388.7 534.0,406.4 539.9,424.2 554.7,441.9 572.4,450.7 587.2,465.5 596.0,474.4 607.9,462.6 625.6,456.7 628.5,453.7"/>
<polyline points="491.7,521.8 484.4,543.6 470.0,561.7 464.5,583.5 470.0,605.3 471.7,623.5 473.5,649.0 499.0,652.6 528.0,652.6 535.3,659.8 549.8,656.2 582.5,659.8 586.0,645.3 589.8,627.1 604.3,616.2 622.5,601.7 644.3,605.3 666.0,612.6 680.6,620.0 695.0,616.2 717.0,609.0 724.0,598.0 735.0,601.7 749.6,612.6 764.0,609.0 782.3,609.0 796.8,616.2"/>
<polyline points="648.0,565.4 652.0,580.0 655.0,592.0 644.3,605.3"/>
<polyline points="390.0,638.0 404.5,634.4 426.3,645.3 444.5,634.4 466.3,627.1 471.7,623.5"/>
<polyline points="531.7,659.8 531.7,678.0 535.3,696.1 524.4,698.0 513.5,692.5 506.2,707.0 499.0,725.2 477.2,739.7 473.5,754.3 477.2,768.8 462.6,776.0 440.9,779.7 419.0,787.0 404.5,794.2 401.0,783.3 390.0,779.7"/>
<polyline points="477.2,761.5 499.0,758.0 517.0,754.3 524.4,761.5 539.0,776.0 553.5,779.7 571.6,790.6 578.9,808.8 578.9,827.0 593.4,823.3 615.2,808.8 622.5,790.6 622.5,776.0 637.0,768.8 644.3,761.5 655.0,754.3 662.4,747.0 655.0,739.7 666.0,725.2 680.6,725.2 695.0,732.5 709.6,743.4 717.0,750.6"/>
<polyline points="622.5,790.6 618.8,808.8 626.0,827.0 626.0,840.0"/>
<polyline points="582.5,659.8 608.0,663.5 640.6,667.0 651.5,678.0 658.8,699.8 673.3,718.0 680.6,725.2"/>
</g><g fill="none" stroke="#000" stroke-width="3.1" stroke-linejoin="round">
<polyline points="663.7,45.0 660.4,53.2 661.5,62.0 662.6,68.5 657.2,75.1 646.2,79.5 639.6,78.4 630.8,82.8 617.6,86.1 611.0,89.4 607.7,92.7 606.6,101.5 600.0,108.0 589.0,109.2 585.8,114.7 589.0,118.0 582.5,121.2 582.5,125.6 589.0,127.8 593.5,136.6 595.7,141.0 594.6,149.8 595.7,158.6 597.9,164.0 587.0,166.3 578.0,168.5 571.5,167.4 566.0,173.0 565.0,178.3 562.7,182.7 559.4,191.5 565.0,196.0 571.5,196.0 573.7,202.5 569.3,209.0 562.7,211.3"/>
<polyline points="562.7,211.3 558.3,212.4 549.6,209.0 551.8,198.0 554.0,189.3 549.6,181.6 536.4,175.0 525.4,174.0 523.2,187.0 518.8,190.4 503.4,186.0 494.7,180.5 490.3,164.0 453.0,174.0 444.0,211.3 432.4,220.0 420.0,228.8 409.1,238.1 404.0,256.3 401.4,268.0 388.4,275.7 383.2,284.7 384.5,302.9 380.6,313.2 372.9,323.6 365.1,331.4 361.2,339.1 363.8,349.5 370.3,354.7 372.9,365.0 370.3,370.2 357.3,374.1 352.2,380.6 341.8,383.2 334.0,387.1 331.4,391.0 328.8,406.5 321.1,424.6 313.3,435.0 309.4,445.3 315.9,454.4 328.8,462.2 335.3,468.6 330.1,479.0 318.5,479.0 315.9,492.0 314.4,490.0 309.8,508.3 311.4,529.7 317.5,551.0 335.8,552.6 348.0,572.4 363.3,606.0 364.8,621.3 381.6,619.8 393.8,624.4 403.0,638.1 393.8,645.7 390.8,661.0 400.0,673.2 415.2,682.4 413.7,706.8 398.4,708.3 395.3,722.0 390.8,740.4 378.5,752.6 378.5,758.7 390.8,761.8 392.3,771.0 381.6,783.1 366.3,795.3 354.1,801.5 352.8,796.4 354.4,807.6 368.9,806.0 372.1,815.7 368.9,825.3 384.9,846.2 404.2,851.0 417.0,846.2 436.3,847.8 445.9,854.2 453.9,857.4 455.5,879.9 462.0,886.3 462.0,894.3 474.8,891.1 487.6,892.7 500.5,899.1 510.1,881.5 522.9,883.1 535.8,892.7 539.0,879.9 551.8,873.4 555.0,857.4 571.0,854.2 577.5,841.4 590.3,838.1 612.8,839.7 628.8,836.5 641.7,841.4 652.9,844.6 660.9,857.4 667.3,863.8 680.2,870.2 689.8,878.3 702.6,879.9 712.3,884.7"/>
<polyline points="712.3,884.7 713.9,876.6 712.3,854.2 709.0,838.1 705.9,822.1 709.0,809.3 719.7,800.0 719.7,790.3 717.0,785.0 709.0,779.8 706.4,774.5 711.7,770.5 719.7,769.2 714.4,765.2 717.0,756.0 725.0,748.0 735.5,742.7 743.4,732.2 748.7,719.0 754.0,705.7 758.0,695.2 756.7,690.0 750.0,684.6 756.7,674.0 767.2,660.8 775.2,652.9 785.7,647.6 800.3,637.0 801.6,631.7 795.0,626.4 796.3,622.5 804.2,626.4 806.9,623.8 800.3,615.9 799.0,613.4 796.0,605.0 801.7,594.0 807.2,585.6 810.0,577.2 807.2,566.0 804.4,555.0 810.0,549.4 818.4,543.8 817.0,539.6 810.0,538.0 804.4,543.8 799.0,535.4 787.7,530.0 779.4,524.3 771.0,527.0 760.0,532.7 754.3,535.4 748.8,532.7 740.4,530.0 729.3,524.3 721.0,513.0 714.0,502.0 707.0,496.5 696.0,498.0 687.5,502.0 682.0,507.6 679.8,492.1 677.3,484.6 672.3,477.1 664.8,473.4 652.3,469.6 644.8,464.6 634.9,457.2 624.9,447.2 622.4,437.2 619.9,429.7 617.4,427.2 616.1,419.7 617.4,409.7 614.9,399.7 604.9,394.8 599.9,389.8 598.7,379.8 594.9,381.0 592.4,392.3 587.4,384.8 585.0,374.8 586.2,364.8 582.4,361.0 568.7,352.3 565.0,347.3 565.0,337.3 560.0,329.9 565.0,327.4 565.0,322.4 558.7,312.4 555.0,299.9 552.5,290.0 547.5,286.2 548.7,280.0 555.0,273.7 551.2,262.5 557.5,253.7 555.0,245.0 560.0,237.5 557.5,230.0 558.3,222.0 562.7,211.3"/>
<polyline points="712.3,884.7 716.2,882.7 732.8,882.7 742.7,876.0 752.7,872.8 759.3,877.7 769.3,882.7 776.0,882.7 785.9,892.7 799.1,899.3 812.4,909.3 825.7,919.2 832.3,925.9 829.0,931.0 822.4,934.5 825.7,939.8 829.0,946.5 839.0,953.1 852.2,959.7 855.6,969.7 862.2,979.7 852.2,986.3 845.6,993.0 848.9,999.6 855.6,1009.5 858.9,1019.5 865.5,1032.8 875.5,1042.7 878.8,1047.0"/>
<polyline points="354.1,801.5 347.3,793.7 335.8,789.0 326.7,784.6 320.0,786.8 316.0,801.5 313.0,800.5 306.2,805.0 299.4,802.8 290.2,807.4 278.8,802.8 265.2,800.5 253.8,796.0 244.6,798.2 231.0,814.2 227.5,827.9 221.8,841.6 215.0,834.7 208.0,825.6 194.5,821.0 185.3,819.9 178.5,827.9 169.4,834.7 151.0,839.3 139.7,841.6 129.5,849.6 126.0,837.0 117.0,829.0 127.2,817.6 126.0,809.6 112.4,796.0 119.2,783.4 114.6,780.0 107.3,772.4 104.5,755.7 85.0,734.8 80.0,730.0"/>
</g>
<circle cx="829.1" cy="236.9" r="5.2" fill="#f00" stroke="#000" stroke-width="1"/>
<line x1="429.4" y1="374.8" x2="429.4" y2="383.4" stroke="#000" stroke-width="1.1"/>
<line x1="426.2" y1="379.1" x2="432.6" y2="379.1" stroke="#000" stroke-width="2.2"/>
<text x="396.9" y="368.6" font-size="19.4" font-weight="bold">Wiltz</text>
<line x1="539.2" y1="493.8" x2="539.2" y2="502.4" stroke="#000" stroke-width="1.1"/>
<line x1="536.0" y1="498.1" x2="542.4" y2="498.1" stroke="#000" stroke-width="2.2"/>
<text x="506.7" y="487.6" font-size="19.4" font-weight="bold">Ettelbruck</text>
<line x1="610.6" y1="717.0" x2="610.6" y2="725.6" stroke="#000" stroke-width="1.1"/>
<line x1="607.4" y1="721.3" x2="613.8" y2="721.3" stroke="#000" stroke-width="2.2"/>
<text x="578.1" y="710.8" font-size="19.4" font-weight="bold">Findel</text>
<line x1="467.2" y1="844.3" x2="467.2" y2="852.9" stroke="#000" stroke-width="1.1"/>
<line x1="464.0" y1="848.6" x2="470.4" y2="848.6" stroke="#000" stroke-width="2.2"/>
<text x="434.7" y="838.1" font-size="19.4" font-weight="bold">Esch/Alzette</text>
</g>
<rect x="85.5" y="45.5" width="907.0" height="1000.0" fill="none" stroke="#000" stroke-width="1.4"/>
<rect x="94.3" y="50.8" width="218.1" height="49.6" fill="#fff" fill-opacity="0.88" stroke="#000" stroke-width="1.1"/>
<text x="100.7" y="69.9" font-size="16.67">Product: 0.8° Reflectivity</text>
<text x="100.7" y="90.6" font-size="16.67">Data: DWD</text>
<text x="78.5" y="102.2" text-anchor="end" font-size="16.67">50.25°N</text>
<text x="78.5" y="252.4" text-anchor="end" font-size="16.67">50.1°N</text>
<text x="78.5" y="402.7" text-anchor="end" font-size="16.67">49.95°N</text>
<text x="78.5" y="552.9" text-anchor="end" font-size="16.67">49.8°N</text>
<text x="78.5" y="703.2" text-anchor="end" font-size="16.67">49.65°N</text>
<text x="78.5" y="853.4" text-anchor="end" font-size="16.67">49.5°N</text>
<text x="78.5" y="1003.7" text-anchor="end" font-size="16.67">49.35°N</text>
<text x="215.2" y="1066.8" text-anchor="middle" font-size="16.67">5.6°E</text>
<text x="344.8" y="1066.8" text-anchor="middle" font-size="16.67">5.8°E</text>
<text x="474.4" y="1066.8" text-anchor="middle" font-size="16.67">6°E</text>
<text x="604.0" y="1066.8" text-anchor="middle" font-size="16.67">6.2°E</text>
<text x="733.6" y="1066.8" text-anchor="middle" font-size="16.67">6.4°E</text>
<text x="863.2" y="1066.8" text-anchor="middle" font-size="16.67">6.6°E</text>
<rect x="1050.5" y="964.03" width="45.0" height="32.58" fill="#6674a8"/>
<rect x="1050.5" y="931.85" width="45.0" height="32.58" fill="#5668a2"/>
<rect x="1050.5" y="899.68" width="45.0" height="32.58" fill="#4a5ea0"/>
<rect x="1050.5" y="867.50" width="45.0" height="32.58" fill="#4a78b2"/>
<rect x="1050.5" y="835.33" width="45.0" height="32.58" fill="#5a9cc8"/>
<rect x="1050.5" y="803.15" width="45.0" height="32.58" fill="#66c0dc"/>
<rect x="1050.5" y="770.98" width="45.0" height="32.58" fill="#62d6c6"/>
<rect x="1050.5" y="738.80" width="45.0" height="32.58" fill="#40d672"/>
<rect x="1050.5" y="706.62" width="45.0" height="32.58" fill="#14c41e"/>
<rect x="1050.5" y="674.45" width="45.0" height="32.58" fill="#12b41c"/>
<rect x="1050.5" y="642.28" width="45.0" height="32.58" fill="#10a21a"/>
<rect x="1050.5" y="610.10" width="45.0" height="32.58" fill="#0e9018"/>
<rect x="1050.5" y="577.93" width="45.0" height="32.58" fill="#0c7c14"/>
<rect x="1050.5" y="545.75" width="45.0" height="32.58" fill="#085e0c"/>
<rect x="1050.5" y="513.58" width="45.0" height="32.58" fill="#4a7812"/>
<rect x="1050.5" y="481.40" width="45.0" height="32.58" fill="#b2b20a"/>
<rect x="1050.5" y="449.22" width="45.0" height="32.58" fill="#ffd700"/>
<rect x="1050.5" y="417.05" width="45.0" height="32.58" fill="#ffb400"/>
<rect x="1050.5" y="384.87" width="45.0" height="32.58" fill="#ff9600"/>
<rect x="1050.5" y="352.70" width="45.0" height="32.58" fill="#ff7a00"/>
<rect x="1050.5" y="320.52" width="45.0" height="32.58" fill="#e40000"/>
<rect x="1050.5" y="288.35" width="45.0" height="32.58" fill="#c00000"/>
<rect x="1050.5" y="256.17" width="45.0" height="32.58" fill="#9e0000"/>
<rect x="1050.5" y="224.00" width="45.0" height="32.58" fill="#780000"/>
<rect x="1050.5" y="191.82" width="45.0" height="32.58" fill="#ffdcff"/>
<rect x="1050.5" y="159.65" width="45.0" height="32.58" fill="#ffb0ff"/>
<rect x="1050.5" y="127.47" width="45.0" height="32.58" fill="#ff5cff"/>
<rect x="1050.5" y="95.30" width="45.0" height="32.58" fill="#ea2eea"/>
<rect x="1050.5" y="95.3" width="45.0" height="900.9000000000001" fill="none" stroke="#000" stroke-width="1.1"/>
<line x1="1095.5" y1="996.20" x2="1100.5" y2="996.20" stroke="#000" stroke-width="1.1"/>
<text x="1104.8" y="1006.40" font-size="27.8" letter-spacing="-0.8">0</text>
<line x1="1095.5" y1="867.50" x2="1100.5" y2="867.50" stroke="#000" stroke-width="1.1"/>
<text x="1104.8" y="877.70" font-size="27.8" letter-spacing="-0.8">10</text>
<line x1="1095.5" y1="738.80" x2="1100.5" y2="738.80" stroke="#000" stroke-width="1.1"/>
<text x="1104.8" y="749.00" font-size="27.8" letter-spacing="-0.8">20</text>
<line x1="1095.5" y1="610.10" x2="1100.5" y2="610.10" stroke="#000" stroke-width="1.1"/>
<text x="1104.8" y="620.30" font-size="27.8" letter-spacing="-0.8">30</text>
<line x1="1095.5" y1="481.40" x2="1100.5" y2="481.40" stroke="#000" stroke-width="1.1"/>
<text x="1104.8" y="491.60" font-size="27.8" letter-spacing="-0.8">40</text>
<line x1="1095.5" y1="352.70" x2="1100.5" y2="352.70" stroke="#000" stroke-width="1.1"/>
<text x="1104.8" y="362.90" font-size="27.8" letter-spacing="-0.8">50</text>
<line x1="1095.5" y1="224.00" x2="1100.5" y2="224.00" stroke="#000" stroke-width="1.1"/>
<text x="1104.8" y="234.20" font-size="27.8" letter-spacing="-0.8">60</text>
<line x1="1095.5" y1="95.30" x2="1100.5" y2="95.30" stroke="#000" stroke-width="1.1"/>
<text x="1104.8" y="105.50" font-size="27.8" letter-spacing="-0.8">70</text>
<text transform="translate(1169.5,548.3) rotate(-90)" text-anchor="middle" font-size="27.8">dBZ</text>
</svg>
</body></html>
